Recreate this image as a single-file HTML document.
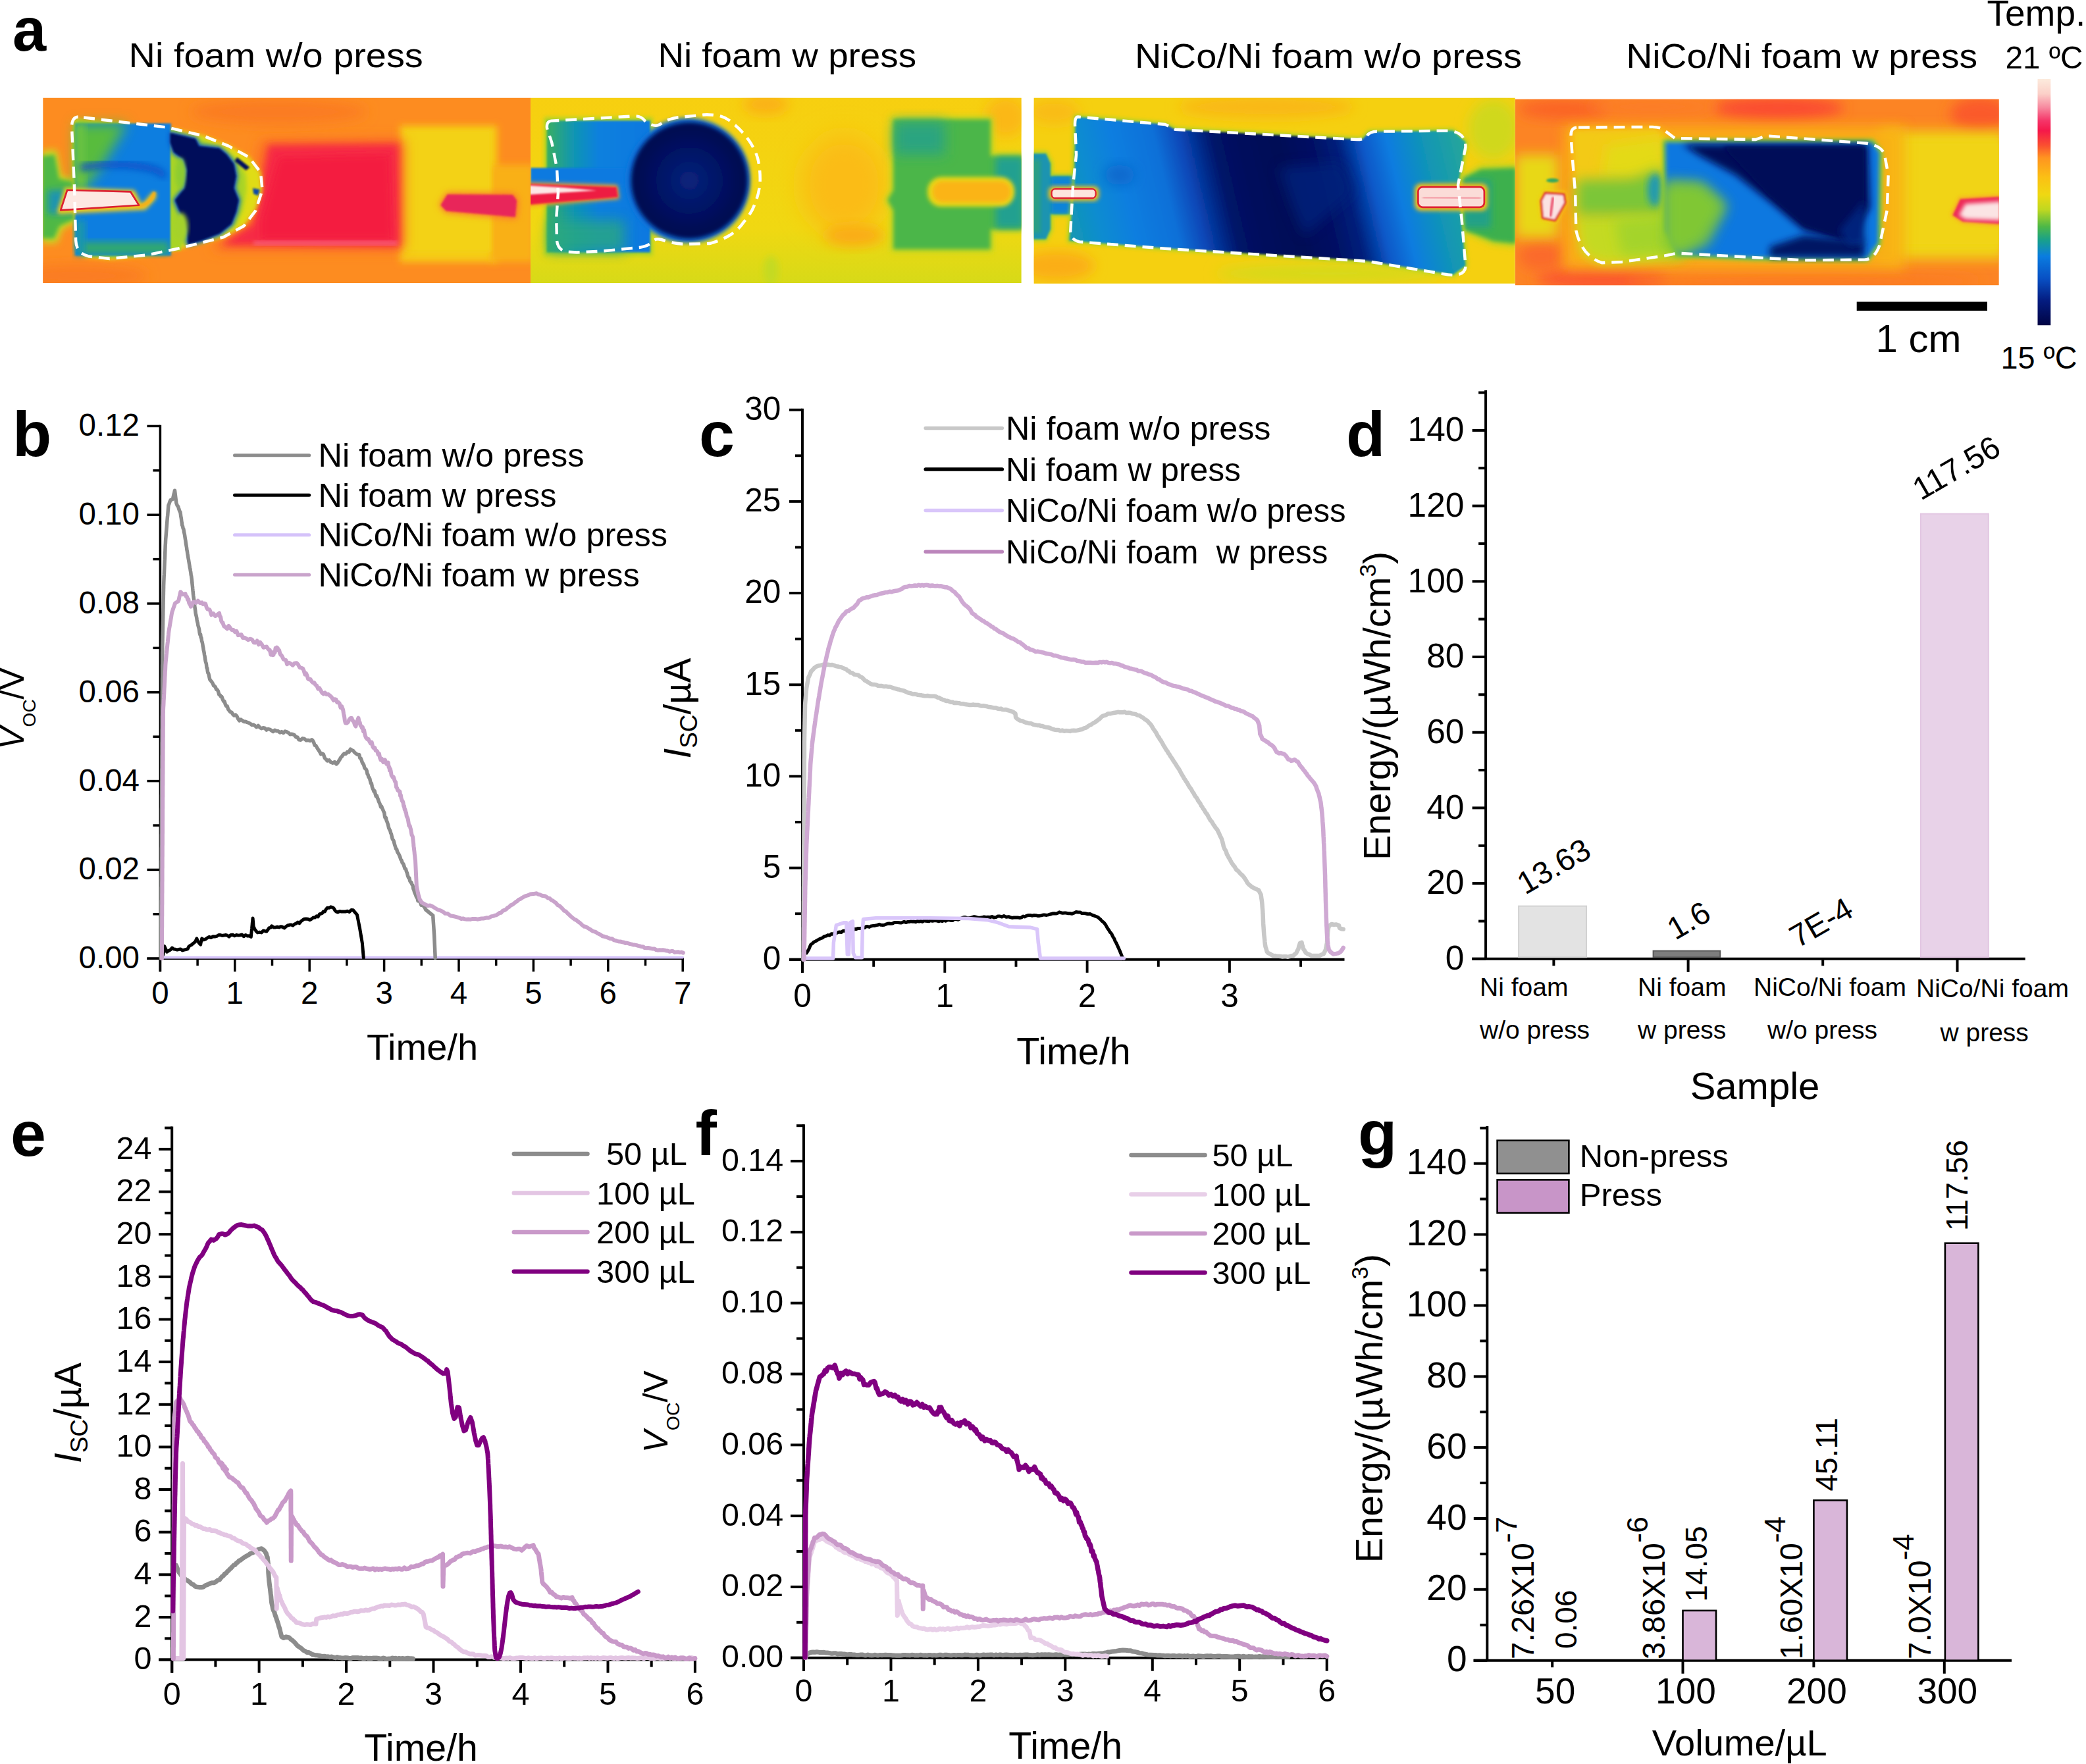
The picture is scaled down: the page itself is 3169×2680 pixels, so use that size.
<!DOCTYPE html>
<html><head><meta charset="utf-8"><title>Figure</title>
<style>
html,body{margin:0;padding:0;background:#fff;}
body{width:3169px;height:2680px;overflow:hidden;}
svg{display:block;font-family:"Liberation Sans",sans-serif;}
</style></head><body>
<svg width="3169" height="2680" viewBox="0 0 3169 2680">
<rect width="3169" height="2680" fill="#fff"/>
<defs>
<filter id="b4" x="-20%" y="-20%" width="140%" height="140%"><feGaussianBlur stdDeviation="4"/></filter>
<filter id="b8" x="-20%" y="-20%" width="140%" height="140%"><feGaussianBlur stdDeviation="8"/></filter>
<filter id="b14" x="-30%" y="-30%" width="160%" height="160%"><feGaussianBlur stdDeviation="14"/></filter>
<filter id="b25" x="-40%" y="-40%" width="180%" height="180%"><feGaussianBlur stdDeviation="25"/></filter>
<filter id="b50" x="-50%" y="-50%" width="200%" height="200%"><feGaussianBlur stdDeviation="50"/></filter>
<clipPath id="c1"><rect x="66" y="75" width="1932" height="733"/></clipPath>
<clipPath id="c2"><rect x="68" y="75" width="1944" height="733"/></clipPath>
<clipPath id="c3"><rect x="80" y="75" width="1906" height="735"/></clipPath>
<clipPath id="c4"><rect x="57" y="80" width="1916" height="737"/></clipPath>
<linearGradient id="cb" x1="0" y1="0" x2="0" y2="1">
<stop offset="0" stop-color="#fcebdd"/><stop offset="0.06" stop-color="#fbd0c8"/><stop offset="0.115" stop-color="#f78aa0"/>
<stop offset="0.17" stop-color="#f53468"/><stop offset="0.21" stop-color="#f5184a"/><stop offset="0.27" stop-color="#fa5030"/>
<stop offset="0.32" stop-color="#ff9420"/><stop offset="0.40" stop-color="#fbc014"/><stop offset="0.47" stop-color="#efd812"/>
<stop offset="0.53" stop-color="#c0d820"/><stop offset="0.60" stop-color="#4cb848"/><stop offset="0.655" stop-color="#18a08c"/>
<stop offset="0.72" stop-color="#0a7ce0"/><stop offset="0.81" stop-color="#0850c4"/><stop offset="0.90" stop-color="#041c80"/>
<stop offset="1" stop-color="#000444"/></linearGradient>
<linearGradient id="g3" gradientUnits="userSpaceOnUse" x1="220" y1="640" x2="1800" y2="260">
<stop offset="0" stop-color="#1498b0"/><stop offset="0.08" stop-color="#0e8cd0"/><stop offset="0.16" stop-color="#0a7ee0"/>
<stop offset="0.26" stop-color="#0a70d8"/><stop offset="0.32" stop-color="#0848b8"/><stop offset="0.40" stop-color="#021468"/>
<stop offset="0.46" stop-color="#010c5c"/><stop offset="0.55" stop-color="#000856"/><stop offset="0.63" stop-color="#021064"/><stop offset="0.69" stop-color="#03207c"/>
<stop offset="0.75" stop-color="#0858c8"/><stop offset="0.81" stop-color="#0a7ce0"/><stop offset="0.90" stop-color="#1296b4"/>
<stop offset="1" stop-color="#28a898"/></linearGradient>
<radialGradient id="g2c" cx="0.5" cy="0.5" r="0.5"><stop offset="0" stop-color="#08247c"/><stop offset="0.55" stop-color="#031264"/><stop offset="0.92" stop-color="#000850"/><stop offset="1" stop-color="#001060"/></radialGradient>
<linearGradient id="g2bg" x1="0" y1="0" x2="0" y2="1"><stop offset="0" stop-color="#f7cf10"/><stop offset="0.7" stop-color="#f0d812"/><stop offset="1" stop-color="#d6da18"/></linearGradient>
<linearGradient id="g2r" x1="0" y1="0" x2="1" y2="0"><stop offset="0" stop-color="#38ae62"/><stop offset="0.25" stop-color="#1296b0"/><stop offset="0.5" stop-color="#0a80de"/><stop offset="1" stop-color="#0a78e0"/></linearGradient>
<linearGradient id="g1r" x1="0" y1="0" x2="1" y2="1"><stop offset="0" stop-color="#5cc03c"/><stop offset="0.3" stop-color="#1a9ca8"/><stop offset="0.55" stop-color="#0a7ee0"/><stop offset="0.8" stop-color="#1292c0"/><stop offset="1" stop-color="#48b450"/></linearGradient>
</defs>
<g transform="translate(40 120) scale(0.38351)"><g clip-path="url(#c1)">
<rect x="60" y="70" width="1945" height="745" fill="#fd8c20"/>
<ellipse cx="1000" cy="130" rx="350" ry="50" fill="#fb7c24" filter="url(#b25)"/>
<ellipse cx="200" cy="780" rx="280" ry="45" fill="#fb7c24" filter="url(#b25)"/>
<rect x="1480" y="185" width="385" height="540" fill="#f5cc14" filter="url(#b14)"/>
<rect x="1840" y="340" width="170" height="385" fill="#f9b018" filter="url(#b14)"/>
<rect x="1500" y="205" width="340" height="480" fill="#f3d212" filter="url(#b8)"/>
<polygon points="730,675 880,560 930,245 1495,240 1495,675" fill="#fb6828" filter="url(#b25)"/>
<polygon points="770,658 900,575 960,262 1474,256 1478,664" fill="#f62c44" filter="url(#b14)"/>
<polygon points="930,560 1000,310 1440,300 1450,635 930,635" fill="#f41c40" filter="url(#b14)"/>
<rect x="900" y="642" width="570" height="16" fill="#f86888" filter="url(#b8)" opacity="0.8"/>
<polygon points="1636,500 1665,452 1932,454 1948,480 1942,554 1660,528" fill="#fb7030" filter="url(#b14)"/>
<polygon points="1641,500 1668,457 1927,459 1943,482 1937,547 1663,523" fill="#e8285a" filter="url(#b4)"/>
<polygon points="60,285 120,280 140,385 200,400 200,565 142,595 122,650 60,650" fill="#c8dc20" filter="url(#b14)"/>
<polygon points="60,305 112,300 130,395 200,410 200,552 132,582 110,632 60,632" fill="#50b844" filter="url(#b8)"/>
<rect x="85" y="440" width="115" height="95" fill="#1a94b0" filter="url(#b14)"/>
<path d="M188,158 L560,193 700,223 800,263 882,308 928,370 935,440 908,522 862,582 782,628 600,675 480,700 330,715 228,705 196,672 190,500 182,300 Z" fill="#e0dc18" filter="url(#b8)"/>
<path d="M194,170 L560,205 690,235 780,275 840,320 870,380 872,440 858,520 830,580 762,618 600,662 480,687 330,702 230,692 204,662 197,500 191,300 Z" fill="#a8d428" filter="url(#b8)"/>
<rect x="193" y="176" width="380" height="524" fill="#0a7ee0" filter="url(#b4)"/>
<polygon points="193,176 400,176 310,330 235,430 193,480" fill="#58bc3c" filter="url(#b25)"/>
<rect x="193" y="176" width="40" height="250" fill="#6cc43c" filter="url(#b14)"/>
<rect x="215" y="645" width="350" height="50" fill="#30a870" filter="url(#b14)"/>
<rect x="193" y="560" width="40" height="135" fill="#1a98a8" filter="url(#b14)"/>
<path d="M215,352 Q330,330 440,345 T540,390" fill="none" stroke="#0850c8" stroke-width="26" filter="url(#b14)"/>
<rect x="573" y="200" width="40" height="480" fill="#a8d428" filter="url(#b4)"/>
<polygon points="570,214 670,237 684,266 765,275 793,299 822,337 831,385 822,432 841,480 831,527 812,575 765,613 693,641 641,655 636,598 613,537 589,480 627,432 636,361 622,318 584,290 570,252" fill="#0a60d0" stroke="#0a60d0" stroke-width="14" stroke-linejoin="round" filter="url(#b8)"/>
<polygon points="570,214 670,237 684,266 765,275 793,299 822,337 831,385 822,432 841,480 831,527 812,575 765,613 693,641 641,655 636,598 613,537 589,480 627,432 636,361 622,318 584,290 570,252" fill="#00085a" filter="url(#b4)"/>
<ellipse cx="610" cy="375" rx="20" ry="62" fill="#8ccc30" filter="url(#b8)"/>
<ellipse cx="612" cy="585" rx="28" ry="55" fill="#a4d22c" filter="url(#b8)"/>
<polygon points="835,310 885,350 870,362 825,325" fill="#001060" filter="url(#b4)"/>
<polygon points="897,432 925,438 918,462 900,455" fill="#0a48a8" filter="url(#b4)"/>
<polygon points="122,525 152,430 428,440 458,497 500,448 516,452 512,475 472,518 128,535" fill="#f6cc18" filter="url(#b8)"/>
<path d="M440,505 Q492,500 508,448" fill="none" stroke="#f5b018" stroke-width="13" filter="url(#b4)"/>
<polygon points="136,520 162,440 413,447 446,500" fill="#fde8e2" stroke="#dc2030" stroke-width="7" stroke-linejoin="round"/>
</g>
<path d="M205,150 Q180,152 180,190 L190,420 196,640 Q198,690 245,702 L330,712 480,697 600,672 780,627 862,582 908,522 935,440 928,370 882,310 800,265 700,225 560,192 Z" fill="none" stroke="#fff" stroke-width="11.5" stroke-dasharray="44 26" stroke-linejoin="round"/>
</g>
<g transform="translate(780 120) scale(0.38351)"><g clip-path="url(#c2)">
<rect x="60" y="70" width="1960" height="745" fill="url(#g2bg)"/>
<ellipse cx="1000" cy="100" rx="90" ry="40" fill="#fbb014" filter="url(#b25)"/>
<ellipse cx="1310" cy="420" rx="170" ry="200" fill="#fbbc14" filter="url(#b50)"/>
<ellipse cx="1350" cy="620" rx="120" ry="40" fill="#fbaa16" filter="url(#b25)"/>
<ellipse cx="1950" cy="150" rx="80" ry="80" fill="#fbb814" filter="url(#b25)"/>
<ellipse cx="1020" cy="760" rx="30" ry="60" fill="#c4da20" filter="url(#b14)"/>
<rect x="122" y="152" width="430" height="548" fill="#a8d428" filter="url(#b8)"/>
<rect x="132" y="165" width="410" height="522" fill="url(#g2r)" filter="url(#b4)"/>
<rect x="140" y="560" width="300" height="125" fill="#2ca880" filter="url(#b25)" opacity="0.8"/>
<rect x="68" y="352" width="380" height="70" fill="#0a7ae0" filter="url(#b4)"/>
<polygon points="60,410 412,420 420,475 60,505" fill="#f8a020" filter="url(#b8)"/>
<polygon points="60,416 408,428 414,468 60,498" fill="#ee1c42" filter="url(#b4)"/>
<polygon points="60,422 200,430 330,442 60,458" fill="#fde8e6" filter="url(#b4)"/>
<circle cx="690" cy="402" r="248" fill="#0a74dc" filter="url(#b8)"/>
<circle cx="697" cy="402" r="232" fill="url(#g2c)" filter="url(#b8)"/>
<path d="M1495,150 L1900,150 1900,295 2020,295 2020,605 1900,605 1900,685 1495,685 1495,520 1470,480 1495,440 Z" fill="#c0d820" filter="url(#b14)"/>
<path d="M1505,160 L1890,160 1890,305 2020,305 2020,595 1890,595 1890,675 1505,675 1505,520 1482,480 1505,440 Z" fill="#4cb648" filter="url(#b8)"/>
<rect x="1510" y="170" width="200" height="130" fill="#2ca480" filter="url(#b25)"/>
<rect x="1910" y="310" width="110" height="280" fill="#20a090" filter="url(#b14)"/>
<rect x="1640" y="388" width="345" height="118" rx="55" fill="#e8d818" filter="url(#b8)"/>
<rect x="1660" y="405" width="310" height="84" rx="40" fill="#fbb418" filter="url(#b8)"/>
</g>
<path d="M150,166 Q130,168 133,195 L152,252 172,352 177,452 170,552 172,640 Q176,680 215,685 L252,687 352,682 502,667 Q540,660 555,640 Q570,628 602,642 Q650,655 692,654 L777,652 Q820,640 852,622 Q890,600 912,567 Q945,530 957,492 Q975,450 977,402 Q978,355 967,312 Q955,275 932,242 Q905,205 877,182 Q850,155 817,146 Q780,140 752,142 L652,152 Q615,158 592,172 Q570,190 550,182 Q530,175 520,165 Q505,146 480,147 Z" fill="none" stroke="#fff" stroke-width="11.5" stroke-dasharray="44 26" stroke-linejoin="round"/>
</g>
<g transform="translate(1540 120) scale(0.38351)"><g clip-path="url(#c3)">
<rect x="70" y="70" width="1920" height="745" fill="#f5d010"/>
<ellipse cx="1000" cy="110" rx="350" ry="45" fill="#f9b814" filter="url(#b25)"/>
<ellipse cx="170" cy="740" rx="150" ry="60" fill="#fbae16" filter="url(#b25)"/>
<ellipse cx="160" cy="130" rx="100" ry="50" fill="#f9bc14" filter="url(#b25)"/>
<ellipse cx="1900" cy="200" rx="100" ry="120" fill="#d0d81c" filter="url(#b25)"/>
<ellipse cx="1250" cy="770" rx="450" ry="35" fill="#d4da1a" filter="url(#b25)"/>
<polygon points="1780,385 1850,345 1990,340 1990,665 1900,655 1780,605" fill="#b0d428" filter="url(#b14)"/>
<polygon points="1780,395 1850,358 1990,352 1990,652 1900,642 1780,595" fill="#3eb04e" filter="url(#b8)"/>
<rect x="1780" y="400" width="110" height="190" fill="#20a088" filter="url(#b14)"/>
<path d="M70,285 L132,285 155,330 155,375 250,375 250,545 155,545 155,600 132,645 70,645 Z" fill="#b0d428" filter="url(#b8)"/>
<path d="M70,295 L128,295 146,335 146,385 250,385 250,535 146,535 146,595 128,635 70,635 Z" fill="#1c94b0" filter="url(#b4)"/>
<rect x="150" y="390" width="100" height="140" fill="#0c84d8" filter="url(#b8)"/>
<rect x="70" y="320" width="36" height="290" fill="#30a470" filter="url(#b8)" opacity="0.7"/>
<polygon points="245,150 600,180 640,200 1380,240 1410,210 1740,205 1790,250 1760,420 1790,740 1740,775 1400,720 600,670 220,640 240,420" fill="#a0d22c" stroke="#a0d22c" stroke-width="16" stroke-linejoin="round" filter="url(#b8)"/>
<polygon points="245,150 600,180 640,200 1380,240 1410,210 1740,205 1790,250 1760,420 1790,740 1740,775 1400,720 600,670 220,640 240,420" fill="url(#g3)" filter="url(#b4)"/>
<ellipse cx="420" cy="380" rx="60" ry="40" fill="#0868cc" filter="url(#b25)"/>
<polygon points="1050,350 1300,330 1350,450 1150,620 1100,500" fill="#04247c" filter="url(#b25)" opacity="0.8"/>
<rect x="138" y="425" width="200" height="58" rx="20" fill="#f8c018" filter="url(#b8)"/>
<rect x="150" y="436" width="175" height="36" rx="14" fill="#fde6de" stroke="#e02030" stroke-width="6"/>
<rect x="1588" y="414" width="290" height="108" rx="24" fill="#f8c018" filter="url(#b8)"/>
<rect x="1602" y="428" width="262" height="80" rx="18" fill="#fbdcd8" stroke="#e02030" stroke-width="7"/>
<path d="M1620,468 L1850,472" stroke="#f08090" stroke-width="6" filter="url(#b4)"/>
</g>
<path d="M255,150 Q240,150 243,190 L248,300 235,420 225,600 Q222,635 260,645 L600,672 1400,722 1700,772 Q1790,790 1790,740 L1775,560 1760,420 1790,270 Q1790,208 1720,205 L1440,208 Q1410,208 1400,225 1390,240 1360,240 L640,200 600,180 Z" fill="none" stroke="#fff" stroke-width="11.5" stroke-dasharray="44 26" stroke-linejoin="round"/>
</g>
<g transform="translate(2280 120) scale(0.38351)"><g clip-path="url(#c4)">
<rect x="50" y="75" width="1930" height="750" fill="#fc8424"/>
<ellipse cx="1100" cy="115" rx="260" ry="45" fill="#fb4c30" filter="url(#b25)"/>
<ellipse cx="1900" cy="140" rx="120" ry="70" fill="#fb5a2c" filter="url(#b25)"/>
<ellipse cx="250" cy="120" rx="180" ry="40" fill="#fb6428" filter="url(#b25)"/>
<ellipse cx="600" cy="110" rx="250" ry="30" fill="#fc7c26" filter="url(#b25)"/>
<ellipse cx="400" cy="790" rx="260" ry="45" fill="#fb5630" filter="url(#b25)"/>
<ellipse cx="160" cy="700" rx="90" ry="60" fill="#fb6a2c" filter="url(#b25)"/>
<ellipse cx="1200" cy="800" rx="700" ry="28" fill="#fc7a24" filter="url(#b25)"/>
<rect x="1500" y="205" width="500" height="510" fill="#efd412" filter="url(#b25)"/>
<rect x="1560" y="245" width="440" height="420" fill="#f1d412" filter="url(#b14)"/>
<rect x="250" y="185" width="1350" height="570" fill="#f9b018" filter="url(#b25)" opacity="0.9"/>
<rect x="57" y="300" width="170" height="330" fill="#e8d816" filter="url(#b25)"/>
<polygon points="282,198 620,193 655,232 655,705 400,730 322,692 297,500" fill="#f3ca14" filter="url(#b14)"/>
<polygon points="420,260 640,230 650,380 520,400 400,390" fill="#e4da18" filter="url(#b25)"/>
<polygon points="300,545 700,520 720,712 400,728 322,688" fill="#c4da20" filter="url(#b25)"/>
<polygon points="300,400 520,395 640,350 650,540 300,540" fill="#7cc638" filter="url(#b25)"/>
<polygon points="450,560 650,540 700,690 480,700" fill="#a4d42c" filter="url(#b25)"/>
<ellipse cx="612" cy="440" rx="30" ry="65" fill="#1c98b8" filter="url(#b14)"/>
<polygon points="652,250 1470,250 1500,290 1495,650 1450,712 1000,708 700,695 655,600" fill="#8ccc30" stroke="#8ccc30" stroke-width="26" stroke-linejoin="round" filter="url(#b8)"/>
<polygon points="652,250 1470,250 1500,290 1495,650 1450,712 1000,708 700,695 655,600" fill="#0a78e0" filter="url(#b8)"/>
<polygon points="650,415 790,420 880,500 800,640 700,695 650,650" fill="#8ccc30" filter="url(#b25)"/>
<polygon points="652,400 800,410 900,500 820,660 700,700 652,680" fill="#7cc634" filter="url(#b25)" opacity="0.7"/>
<polygon points="720,260 1455,258 1462,510 1375,650 1200,600 1070,490 930,380 790,305" fill="#000858" filter="url(#b14)"/>
<polygon points="880,270 1440,270 1440,500 1350,630 1200,580 1060,460" fill="#000858" filter="url(#b8)"/>
<polygon points="1065,665 1200,620 1440,640 1440,706 1065,706" fill="#021264" filter="url(#b14)"/>
<polygon points="1340,600 1440,480 1440,650 1380,660" fill="#04207c" filter="url(#b14)"/>
<polygon points="150,485 170,440 258,446 264,492 220,572 160,560" fill="#f4c818" filter="url(#b8)"/>
<polygon points="160,482 176,452 250,457 255,490 215,560 166,550" fill="#fbe2e2" stroke="#dc1c38" stroke-width="8" stroke-linejoin="round" filter="url(#b4)"/>
<path d="M207,468 L196,545" stroke="#e84060" stroke-width="9" filter="url(#b4)"/>
<ellipse cx="205" cy="402" rx="25" ry="8" fill="#30a860" filter="url(#b4)"/>
<polygon points="1782,540 1815,468 1985,458 1985,582 1828,572" fill="#f8a828" filter="url(#b8)"/>
<polygon points="1790,540 1820,476 1985,466 1985,575 1830,565" fill="#ee2c58" filter="url(#b4)"/>
<polygon points="1815,540 1840,495 1985,485 1985,560 1840,555" fill="#fbe4e4" filter="url(#b8)"/>
</g>
<path d="M300,192 Q275,195 278,230 L285,330 295,450 298,600 Q320,700 400,728 L480,725 650,700 700,690 1200,718 1440,716 Q1480,715 1500,660 L1530,520 1535,380 1520,300 Q1510,265 1450,255 L1050,225 1010,240 690,235 650,205 Q635,190 600,190 Z" fill="none" stroke="#fff" stroke-width="11.5" stroke-dasharray="44 26" stroke-linejoin="round"/>
</g>
<rect x="3095.5" y="120.0" width="19.8" height="374.2" fill="url(#cb)" />
<rect x="2820.7" y="458.5" width="198.3" height="13.6" fill="#000" />
<text x="2849.5" y="534.6" font-size="60" >1 cm</text>
<text x="19.0" y="76.7" font-size="92" font-weight="bold" >a</text>
<text x="195.6" y="102.0" font-size="52" textLength="447.2" lengthAdjust="spacingAndGlyphs" >Ni foam w/o press</text>
<text x="999.4" y="102.0" font-size="52" textLength="392.7" lengthAdjust="spacingAndGlyphs" >Ni foam w press</text>
<text x="1724.0" y="103.0" font-size="52" textLength="588.0" lengthAdjust="spacingAndGlyphs" >NiCo/Ni foam w/o press</text>
<text x="2470.5" y="103.0" font-size="52" textLength="533.7" lengthAdjust="spacingAndGlyphs" >NiCo/Ni foam w press</text>
<text x="3018.5" y="39.0" font-size="55" >Temp.</text>
<text x="3046.5" y="104.0" font-size="49" textLength="118.0" lengthAdjust="spacingAndGlyphs" >21 ºC</text>
<text x="3039.5" y="560.0" font-size="49" textLength="116.0" lengthAdjust="spacingAndGlyphs" >15 ºC</text>
<text x="19.0" y="693.0" font-size="97" font-weight="bold" >b</text>
<line x1="223.4" y1="1456.2" x2="1039.0" y2="1456.2" stroke="#000" stroke-width="3.5" stroke-linecap="butt"/>
<line x1="243.4" y1="645.7" x2="243.4" y2="1476.2" stroke="#000" stroke-width="3.5" stroke-linecap="butt"/>
<line x1="243.4" y1="1456.2" x2="243.4" y2="1476.2" stroke="#000" stroke-width="3.5" stroke-linecap="butt"/>
<text x="243.4" y="1524.8" font-size="47.5" text-anchor="middle" >0</text>
<line x1="356.8" y1="1456.2" x2="356.8" y2="1476.2" stroke="#000" stroke-width="3.5" stroke-linecap="butt"/>
<text x="356.8" y="1524.8" font-size="47.5" text-anchor="middle" >1</text>
<line x1="470.2" y1="1456.2" x2="470.2" y2="1476.2" stroke="#000" stroke-width="3.5" stroke-linecap="butt"/>
<text x="470.2" y="1524.8" font-size="47.5" text-anchor="middle" >2</text>
<line x1="583.6" y1="1456.2" x2="583.6" y2="1476.2" stroke="#000" stroke-width="3.5" stroke-linecap="butt"/>
<text x="583.6" y="1524.8" font-size="47.5" text-anchor="middle" >3</text>
<line x1="697.0" y1="1456.2" x2="697.0" y2="1476.2" stroke="#000" stroke-width="3.5" stroke-linecap="butt"/>
<text x="697.0" y="1524.8" font-size="47.5" text-anchor="middle" >4</text>
<line x1="810.4" y1="1456.2" x2="810.4" y2="1476.2" stroke="#000" stroke-width="3.5" stroke-linecap="butt"/>
<text x="810.4" y="1524.8" font-size="47.5" text-anchor="middle" >5</text>
<line x1="923.8" y1="1456.2" x2="923.8" y2="1476.2" stroke="#000" stroke-width="3.5" stroke-linecap="butt"/>
<text x="923.8" y="1524.8" font-size="47.5" text-anchor="middle" >6</text>
<line x1="1037.2" y1="1456.2" x2="1037.2" y2="1476.2" stroke="#000" stroke-width="3.5" stroke-linecap="butt"/>
<text x="1037.2" y="1524.8" font-size="47.5" text-anchor="middle" >7</text>
<line x1="300.1" y1="1456.2" x2="300.1" y2="1467.2" stroke="#000" stroke-width="3.5" stroke-linecap="butt"/>
<line x1="413.5" y1="1456.2" x2="413.5" y2="1467.2" stroke="#000" stroke-width="3.5" stroke-linecap="butt"/>
<line x1="526.9" y1="1456.2" x2="526.9" y2="1467.2" stroke="#000" stroke-width="3.5" stroke-linecap="butt"/>
<line x1="640.3" y1="1456.2" x2="640.3" y2="1467.2" stroke="#000" stroke-width="3.5" stroke-linecap="butt"/>
<line x1="753.7" y1="1456.2" x2="753.7" y2="1467.2" stroke="#000" stroke-width="3.5" stroke-linecap="butt"/>
<line x1="867.1" y1="1456.2" x2="867.1" y2="1467.2" stroke="#000" stroke-width="3.5" stroke-linecap="butt"/>
<line x1="980.5" y1="1456.2" x2="980.5" y2="1467.2" stroke="#000" stroke-width="3.5" stroke-linecap="butt"/>
<line x1="223.4" y1="1456.2" x2="243.4" y2="1456.2" stroke="#000" stroke-width="3.5" stroke-linecap="butt"/>
<text x="212.0" y="1471.2" font-size="47.5" text-anchor="end" >0.00</text>
<line x1="223.4" y1="1321.4" x2="243.4" y2="1321.4" stroke="#000" stroke-width="3.5" stroke-linecap="butt"/>
<text x="212.0" y="1336.4" font-size="47.5" text-anchor="end" >0.02</text>
<line x1="223.4" y1="1186.6" x2="243.4" y2="1186.6" stroke="#000" stroke-width="3.5" stroke-linecap="butt"/>
<text x="212.0" y="1201.6" font-size="47.5" text-anchor="end" >0.04</text>
<line x1="223.4" y1="1051.8" x2="243.4" y2="1051.8" stroke="#000" stroke-width="3.5" stroke-linecap="butt"/>
<text x="212.0" y="1066.8" font-size="47.5" text-anchor="end" >0.06</text>
<line x1="223.4" y1="917.0" x2="243.4" y2="917.0" stroke="#000" stroke-width="3.5" stroke-linecap="butt"/>
<text x="212.0" y="932.0" font-size="47.5" text-anchor="end" >0.08</text>
<line x1="223.4" y1="782.2" x2="243.4" y2="782.2" stroke="#000" stroke-width="3.5" stroke-linecap="butt"/>
<text x="212.0" y="797.2" font-size="47.5" text-anchor="end" >0.10</text>
<line x1="223.4" y1="647.4" x2="243.4" y2="647.4" stroke="#000" stroke-width="3.5" stroke-linecap="butt"/>
<text x="212.0" y="662.4" font-size="47.5" text-anchor="end" >0.12</text>
<line x1="232.4" y1="1388.8" x2="243.4" y2="1388.8" stroke="#000" stroke-width="3.5" stroke-linecap="butt"/>
<line x1="232.4" y1="1254.0" x2="243.4" y2="1254.0" stroke="#000" stroke-width="3.5" stroke-linecap="butt"/>
<line x1="232.4" y1="1119.2" x2="243.4" y2="1119.2" stroke="#000" stroke-width="3.5" stroke-linecap="butt"/>
<line x1="232.4" y1="984.4" x2="243.4" y2="984.4" stroke="#000" stroke-width="3.5" stroke-linecap="butt"/>
<line x1="232.4" y1="849.6" x2="243.4" y2="849.6" stroke="#000" stroke-width="3.5" stroke-linecap="butt"/>
<line x1="232.4" y1="714.8" x2="243.4" y2="714.8" stroke="#000" stroke-width="3.5" stroke-linecap="butt"/>
<text x="641.5" y="1610.0" font-size="56" text-anchor="middle" >Time/h</text>
<g transform="translate(36.1 1076.3) rotate(-90)"><text x="0" y="0" font-size="51" text-anchor="middle"><tspan font-style="italic">V</tspan><tspan font-size="28" dy="18">OC</tspan><tspan dy="-18">/V</tspan></text></g>
<polyline points="245.4,1454.6 1037.2,1454.6" fill="none" stroke="#d5c2fa" stroke-width="3.8" stroke-linejoin="round" stroke-linecap="round" />
<polyline points="244.4,1456.3 244.4,1453.8 244.4,1451.1 244.4,1448.6 244.5,1446.3 244.5,1443.8 244.5,1441.2 244.5,1438.6 244.5,1436.2 244.5,1433.7 244.5,1431.2 244.5,1428.6 244.6,1426.2 244.6,1423.7 244.6,1421.3 244.6,1418.8 244.6,1416.3 244.6,1413.7 244.6,1411.2 244.6,1408.6 244.7,1406.1 244.7,1403.6 244.7,1401.2 244.7,1398.6 244.7,1396.2 244.7,1393.8 244.7,1391.2 244.7,1388.7 244.8,1386.1 244.8,1383.6 244.8,1381.1 244.8,1378.6 244.8,1376.2 244.8,1373.8 244.8,1371.2 244.8,1368.6 244.9,1366.3 244.9,1363.8 244.9,1361.3 244.9,1358.8 244.9,1356.3 244.9,1353.8 244.9,1351.1 244.9,1348.8 245.0,1346.3 245.0,1343.6 245.0,1341.3 245.0,1338.8 245.0,1336.2 245.0,1333.7 245.0,1331.2 245.0,1328.8 245.1,1326.2 245.1,1323.8 245.1,1321.1 245.1,1318.8 245.1,1316.3 245.1,1313.7 245.1,1311.2 245.1,1308.8 245.2,1306.3 245.2,1303.7 245.2,1301.1 245.2,1298.6 245.2,1296.2 245.2,1293.6 245.2,1291.3 245.2,1288.6 245.3,1286.3 245.3,1283.6 245.3,1281.3 245.3,1278.7 245.3,1276.2 245.3,1273.7 245.3,1271.2 245.3,1268.7 245.4,1266.1 245.4,1263.6 245.4,1261.2 245.4,1258.8 245.4,1256.2 245.4,1253.6 245.4,1251.3 245.4,1248.8 245.5,1246.3 245.5,1243.6 245.5,1241.3 245.5,1238.6 245.5,1236.2 245.5,1233.6 245.5,1231.1 245.5,1228.8 245.6,1226.1 245.6,1223.7 245.6,1221.3 245.6,1218.6 245.6,1216.1 245.6,1213.8 245.6,1211.2 245.6,1208.7 245.7,1206.0 245.7,1203.6 245.7,1201.1 245.7,1198.7 245.7,1196.1 245.7,1193.8 245.7,1191.0 245.7,1188.7 245.8,1186.0 245.8,1183.6 245.8,1181.3 245.8,1178.6 245.8,1176.1 245.8,1173.7 245.8,1171.1 245.8,1168.5 245.9,1166.3 245.9,1163.6 245.9,1161.0 245.9,1158.6 245.9,1156.2 245.9,1153.7 245.9,1151.1 245.9,1148.6 246.0,1146.0 246.0,1143.7 246.0,1141.3 246.0,1138.7 246.0,1136.3 246.0,1133.8 246.0,1131.3 246.0,1128.7 246.1,1126.2 246.1,1123.6 246.1,1121.2 246.1,1118.6 246.1,1116.1 246.1,1113.7 246.1,1111.3 246.1,1108.6 246.2,1106.2 246.2,1103.6 246.2,1101.2 246.2,1098.6 246.2,1096.3 246.2,1093.6 246.2,1091.2 246.2,1088.6 246.3,1086.0 246.3,1083.7 246.3,1081.1 246.3,1078.5 246.3,1076.0 246.3,1073.6 246.3,1071.0 246.4,1068.7 246.4,1066.2 246.4,1063.8 246.4,1061.3 246.4,1058.8 246.4,1056.1 246.4,1053.7 246.4,1051.1 246.5,1048.7 246.5,1046.2 246.5,1043.8 246.5,1041.2 246.5,1038.6 246.5,1036.1 246.5,1033.7 246.5,1031.0 246.6,1028.5 246.6,1026.1 246.6,1023.5 246.6,1021.2 246.6,1018.6 246.6,1016.0 246.6,1013.6 246.6,1011.1 246.7,1008.6 246.7,1006.2 246.7,1003.7 246.7,1001.1 246.7,998.7 246.7,996.1 246.7,993.8 246.7,991.3 246.8,988.7 246.8,986.1 246.8,983.7 246.8,981.2 246.9,978.5 246.9,976.1 247.0,973.6 247.0,971.0 247.1,968.4 247.1,966.1 247.2,963.4 247.2,961.0 247.3,958.6 247.3,955.9 247.4,953.3 247.4,951.0 247.5,948.3 247.5,945.7 247.6,943.3 247.6,940.7 247.7,938.2 247.7,935.8 247.8,933.3 247.8,930.5 247.9,928.1 247.9,925.6 248.0,923.1 248.0,920.5 248.1,918.1 248.1,915.4 248.2,913.0 248.2,910.5 248.3,908.1 248.3,905.3 248.4,903.0 248.4,900.3 248.5,897.9 248.5,895.3 248.6,892.8 248.6,890.4 248.7,887.8 248.8,885.1 248.9,882.5 249.0,879.9 249.1,877.6 249.2,874.9 249.4,872.4 249.5,869.8 249.6,867.0 249.7,864.6 249.8,862.1 249.9,859.5 250.0,856.8 250.1,854.2 250.2,851.6 250.4,849.2 250.5,846.4 250.6,843.9 250.7,841.3 250.8,838.9 250.9,836.3 251.0,833.7 251.1,831.1 251.2,828.4 251.4,825.8 251.5,823.2 251.6,820.6 251.8,818.1 252.0,815.7 252.2,813.3 252.4,810.7 252.6,808.2 252.8,805.5 253.0,803.1 253.2,800.7 253.4,798.0 253.6,795.5 253.8,792.9 254.0,790.4 254.2,788.1 254.4,785.7 254.7,783.0 254.9,780.4 255.1,777.9 255.3,775.4 255.5,773.0 255.7,770.5 255.9,767.9 257.0,765.2 258.1,762.0 259.2,759.6 262.4,758.5 263.0,755.8 263.6,753.0 264.2,750.4 264.9,747.9 265.5,745.2 267.9,764.5 269.3,768.1 270.7,769.8 271.8,773.5 272.8,776.4 273.9,778.2 274.3,780.7 274.7,784.3 275.1,786.1 275.5,788.7 275.9,792.2 276.3,794.1 276.7,798.0 277.5,799.5 278.2,803.0 278.9,803.9 279.6,808.7 280.3,811.5 280.7,813.8 281.1,816.7 281.5,819.3 281.9,821.2 282.3,824.7 282.7,827.2 283.1,829.5 283.5,831.8 283.9,835.5 284.4,837.7 284.8,840.7 285.3,843.6 285.7,846.1 286.2,849.0 286.6,851.1 287.1,854.3 287.5,856.6 288.0,859.8 288.4,862.5 288.9,864.2 289.3,867.0 289.8,869.8 290.2,873.4 290.7,875.4 291.1,878.3 291.4,880.6 291.7,883.5 291.9,886.1 292.2,888.7 292.5,891.6 292.7,894.3 293.0,897.3 293.3,899.7 293.5,902.7 293.8,905.2 294.2,908.0 294.5,910.2 294.8,912.2 295.2,915.7 295.5,918.4 295.8,921.0 296.1,923.2 296.5,926.0 296.8,928.0 297.1,931.3 297.6,933.7 298.2,936.0 298.7,938.4 299.2,942.0 299.8,944.8 300.3,946.4 300.8,949.9 301.4,952.1 301.9,953.5 302.6,956.7 303.2,961.3 303.9,964.4 304.6,963.7 305.2,968.7 305.9,969.1 306.6,974.4 307.2,975.5 307.9,979.3 308.3,982.1 308.8,984.1 309.2,987.3 309.6,989.1 310.1,991.4 310.5,994.7 311.0,996.6 311.4,999.4 311.8,1002.3 312.3,1005.1 312.7,1006.3 313.4,1008.5 314.0,1014.4 314.7,1014.9 315.4,1020.1 316.0,1022.5 316.7,1023.1 317.4,1026.1 318.0,1029.0 318.7,1032.2 320.2,1034.1 321.7,1036.0 323.2,1038.4 324.7,1041.8 326.0,1042.3 327.4,1044.2 328.7,1047.6 330.1,1047.9 331.5,1050.4 332.8,1055.4 334.2,1055.8 335.5,1058.3 336.9,1058.5 338.3,1062.5 339.7,1065.5 341.0,1065.6 342.4,1070.3 343.8,1072.8 345.2,1072.8 346.6,1077.5 347.9,1079.2 349.9,1081.7 351.9,1082.2 353.8,1085.3 355.8,1087.1 357.8,1086.0 359.7,1087.9 361.7,1092.1 363.7,1094.9 366.0,1093.1 368.4,1094.9 370.7,1096.4 373.1,1096.3 375.4,1097.4 377.8,1098.2 380.2,1099.4 382.5,1101.3 384.9,1101.1 387.2,1102.4 389.7,1104.7 392.2,1102.4 394.7,1105.3 397.2,1106.7 399.7,1105.7 402.2,1106.1 404.7,1109.1 407.3,1107.6 409.8,1108.1 412.3,1109.8 414.8,1111.5 417.4,1109.4 420.0,1110.5 422.6,1110.7 425.2,1113.0 427.9,1111.6 430.5,1113.5 433.1,1111.0 435.7,1111.9 438.3,1113.3 440.6,1115.7 442.8,1115.3 445.1,1115.8 447.3,1116.8 449.6,1119.9 451.8,1119.9 454.1,1123.8 456.9,1124.2 459.7,1121.8 462.5,1122.5 465.3,1124.9 468.1,1124.5 470.9,1125.5 473.7,1123.9 475.2,1125.2 476.7,1128.1 478.1,1132.3 479.6,1132.4 481.1,1135.0 482.6,1137.5 484.0,1139.7 485.5,1141.8 487.5,1145.9 489.4,1144.8 491.4,1146.1 493.4,1151.8 495.3,1153.6 497.3,1155.9 500.1,1154.9 502.8,1158.2 505.6,1159.2 508.3,1157.6 511.1,1160.9 512.7,1159.3 514.3,1156.6 516.0,1154.1 517.6,1151.2 519.3,1149.4 520.9,1147.0 523.2,1144.7 525.5,1145.2 527.8,1142.3 530.1,1142.8 532.4,1138.1 534.7,1139.9 536.6,1140.6 538.6,1143.1 540.5,1144.6 542.5,1146.2 544.5,1146.4 545.7,1146.5 546.8,1151.8 548.0,1151.9 549.2,1154.8 550.4,1158.6 551.6,1160.4 552.7,1162.3 553.9,1166.8 555.1,1167.8 556.3,1169.1 557.2,1171.2 558.1,1176.0 559.0,1176.9 559.9,1180.5 560.8,1181.2 561.7,1183.0 562.6,1186.8 563.5,1190.3 564.4,1190.2 565.3,1195.1 566.2,1198.0 567.2,1200.0 568.1,1202.5 569.1,1201.6 570.2,1206.4 571.2,1209.7 572.3,1208.8 573.3,1212.0 574.4,1214.4 575.4,1217.8 576.4,1219.7 577.5,1222.3 578.5,1225.9 579.6,1225.1 580.6,1227.7 581.7,1230.3 582.7,1232.7 583.8,1234.8 584.6,1240.9 585.4,1242.9 586.3,1242.3 587.1,1246.5 587.9,1248.2 588.8,1250.7 589.6,1253.3 590.4,1257.0 591.2,1259.2 592.1,1260.8 592.9,1262.6 593.7,1265.7 594.5,1267.3 595.4,1271.5 596.2,1274.7 597.0,1275.8 597.9,1277.1 598.7,1280.0 599.5,1283.2 600.6,1286.5 601.6,1289.6 602.7,1290.3 603.7,1294.4 604.8,1296.0 605.8,1297.6 606.8,1299.7 607.9,1302.6 608.9,1305.8 610.0,1307.0 611.0,1310.4 612.1,1311.9 613.1,1313.4 614.2,1316.9 615.2,1319.9 616.3,1319.9 617.4,1323.8 618.5,1326.3 619.5,1330.6 620.6,1333.4 621.7,1333.6 622.7,1338.2 623.8,1340.3 624.9,1340.7 626.0,1344.0 627.0,1345.1 627.9,1350.3 628.8,1352.1 629.6,1355.4 630.5,1357.4 631.4,1359.3 632.3,1362.0 633.1,1363.7 634.0,1364.2 634.9,1368.6 636.6,1368.2 638.3,1370.7 639.9,1375.2 641.6,1374.3 643.3,1376.4 645.0,1378.4 646.7,1382.0 657.7,1391.0 659.7,1421.3 661.2,1455.1" fill="none" stroke="#8c8c8c" stroke-width="5.5" stroke-linejoin="round" stroke-linecap="round" />
<polyline points="247.7,1450.5 248.2,1447.5 248.7,1444.8 249.2,1441.6 249.7,1437.6 251.6,1441.6 253.6,1446.2 256.2,1444.5 258.8,1443.1 261.4,1440.1 264.1,1442.1 266.7,1442.3 269.3,1443.1 271.9,1442.3 274.6,1442.1 277.2,1443.9 279.8,1443.1 282.4,1442.5 285.0,1441.9 287.0,1438.0 289.0,1436.4 290.9,1435.5 292.9,1433.8 294.9,1432.3 296.8,1430.4 298.8,1425.9 300.8,1430.2 302.7,1433.0 304.7,1435.1 305.3,1431.4 306.0,1429.7 306.7,1425.9 309.4,1427.8 312.2,1426.8 314.9,1425.0 317.7,1423.4 320.4,1424.6 323.4,1422.8 326.3,1423.1 329.3,1422.3 332.2,1420.5 334.8,1420.5 337.4,1421.4 340.1,1421.1 342.7,1420.5 345.3,1421.2 347.9,1423.1 350.7,1420.4 353.5,1420.2 356.4,1421.8 359.2,1420.5 362.0,1421.1 364.8,1420.7 367.6,1420.0 370.3,1422.7 373.1,1420.6 375.8,1421.9 378.6,1421.8 381.3,1423.4 381.6,1420.5 381.8,1418.0 382.1,1415.8 382.3,1412.8 382.6,1410.5 382.8,1408.2 383.1,1404.9 383.3,1402.3 383.6,1399.9 383.8,1397.8 384.1,1395.1 384.3,1397.6 384.6,1400.6 384.8,1403.4 385.0,1406.6 385.3,1408.0 387.2,1412.1 389.2,1414.7 391.2,1416.9 394.1,1416.2 397.1,1416.9 400.0,1413.9 403.0,1414.7 404.9,1415.1 406.9,1412.7 408.9,1409.7 410.8,1409.6 412.8,1406.8 415.7,1409.0 418.7,1408.9 421.3,1408.3 423.9,1408.9 426.5,1407.8 429.2,1408.3 431.8,1410.0 434.4,1407.8 437.0,1406.0 439.7,1405.3 442.3,1404.9 444.9,1406.1 447.5,1404.0 450.1,1402.9 452.5,1401.1 454.9,1402.8 457.2,1399.8 459.6,1398.0 461.9,1396.3 464.9,1396.1 467.8,1396.3 470.8,1397.7 473.7,1395.8 476.1,1394.0 478.4,1394.1 480.8,1391.9 483.2,1392.9 485.5,1388.6 487.5,1388.3 489.4,1387.5 491.4,1384.7 493.4,1384.9 495.3,1381.6 497.3,1379.2 499.9,1379.3 502.5,1377.8 505.2,1378.6 507.1,1379.8 509.1,1383.6 511.1,1385.2 513.0,1385.9 516.0,1384.4 518.9,1385.1 521.9,1385.1 524.8,1385.0 527.8,1384.3 530.7,1385.5 533.7,1382.4 536.6,1382.8 542.5,1389.9 546.4,1409.5 550.4,1433.1 552.3,1455.1" fill="none" stroke="#000" stroke-width="5" stroke-linejoin="round" stroke-linecap="round" />
<polyline points="245.9,1456.2 245.9,1453.8 245.9,1451.3 245.9,1448.8 246.0,1446.2 246.0,1443.8 246.0,1441.0 246.0,1438.6 246.0,1436.2 246.0,1433.6 246.0,1431.2 246.1,1428.5 246.1,1426.1 246.1,1423.5 246.1,1421.1 246.1,1418.6 246.1,1415.9 246.1,1413.4 246.1,1410.9 246.2,1408.6 246.2,1406.1 246.2,1403.4 246.2,1401.0 246.2,1398.3 246.2,1396.0 246.2,1393.3 246.3,1390.8 246.3,1388.5 246.3,1385.8 246.3,1383.3 246.3,1381.0 246.3,1378.5 246.3,1375.8 246.4,1373.5 246.4,1370.8 246.4,1368.4 246.4,1365.7 246.4,1363.4 246.4,1360.8 246.4,1358.4 246.5,1355.9 246.5,1353.2 246.5,1350.7 246.5,1348.1 246.5,1345.6 246.5,1343.1 246.5,1340.6 246.6,1338.2 246.6,1335.5 246.6,1333.2 246.6,1330.6 246.6,1328.1 246.6,1325.7 246.6,1323.1 246.6,1320.5 246.7,1318.1 246.7,1315.6 246.7,1312.9 246.7,1310.7 246.7,1307.9 246.7,1305.6 246.7,1303.1 246.8,1300.4 246.8,1298.1 246.8,1295.5 246.8,1293.0 246.8,1290.3 246.8,1287.8 246.8,1285.4 246.9,1283.1 246.9,1280.3 246.9,1278.0 246.9,1275.5 246.9,1273.0 246.9,1270.3 246.9,1267.8 247.0,1265.4 247.0,1262.9 247.0,1260.2 247.0,1257.9 247.0,1255.4 247.0,1252.9 247.0,1250.2 247.0,1247.9 247.1,1245.1 247.1,1242.7 247.1,1240.3 247.1,1237.9 247.1,1235.2 247.1,1232.8 247.1,1230.2 247.2,1227.6 247.2,1225.1 247.2,1222.6 247.2,1220.0 247.2,1217.5 247.2,1215.2 247.2,1212.8 247.3,1210.0 247.3,1207.5 247.3,1205.2 247.3,1202.6 247.3,1200.0 247.3,1197.5 247.3,1195.1 247.4,1192.6 247.4,1190.0 247.4,1187.5 247.4,1184.9 247.4,1182.6 247.4,1179.8 247.4,1177.5 247.5,1175.1 247.5,1172.3 247.5,1170.0 247.5,1167.6 247.5,1165.0 247.5,1162.5 247.5,1159.8 247.5,1157.4 247.6,1154.8 247.6,1152.5 247.6,1149.8 247.6,1147.3 247.6,1145.0 247.6,1142.4 247.6,1139.9 247.7,1137.3 247.7,1134.8 247.7,1132.3 247.7,1129.8 247.7,1127.2 247.7,1124.7 247.7,1122.1 247.8,1119.7 247.8,1117.4 247.8,1114.8 247.8,1112.2 247.8,1109.7 247.8,1107.1 247.8,1104.5 247.9,1102.1 247.9,1099.7 247.9,1097.2 247.9,1094.6 247.9,1092.2 247.9,1089.7 247.9,1087.1 247.9,1084.6 248.0,1082.1 248.0,1079.5 248.1,1077.0 248.2,1074.3 248.4,1071.8 248.5,1069.3 248.6,1066.8 248.7,1064.1 248.9,1061.7 249.0,1059.0 249.1,1056.5 249.3,1053.7 249.4,1051.3 249.5,1048.6 249.6,1046.2 249.8,1043.6 249.9,1041.1 250.0,1038.5 250.2,1036.0 250.3,1033.3 250.4,1030.8 250.5,1028.2 250.7,1025.7 250.8,1023.0 250.9,1020.6 251.1,1018.0 251.2,1015.4 251.3,1012.9 251.4,1010.3 251.6,1007.6 251.8,1005.1 252.1,1002.5 252.3,1000.2 252.6,997.7 252.8,995.0 253.1,992.6 253.3,990.0 253.6,987.5 253.8,984.8 254.1,982.5 254.3,979.9 254.6,977.4 254.9,974.8 255.1,972.3 255.4,969.9 255.6,967.3 255.9,964.8 256.1,962.1 256.4,959.6 256.8,957.1 257.2,954.5 257.7,951.8 258.1,949.3 258.5,946.7 259.0,943.9 259.4,941.4 259.9,938.7 260.3,936.0 260.7,933.4 261.2,930.7 262.0,928.2 262.8,925.8 263.6,923.3 264.4,921.3 265.2,918.8 266.0,916.5 270.7,913.5 271.6,911.3 272.5,906.9 273.4,903.1 274.3,899.2 277.9,903.1 281.5,902.0 282.7,906.1 283.9,906.2 285.1,911.0 286.3,910.4 287.2,916.0 288.1,917.9 289.0,918.4 289.9,921.6 291.5,920.0 293.1,914.7 294.7,914.5 297.7,916.0 300.7,912.7 303.7,916.0 306.7,915.3 308.5,918.0 310.3,916.8 312.1,917.1 313.9,923.1 315.3,925.6 316.8,925.8 318.2,926.1 319.6,929.1 321.1,934.1 324.1,932.1 327.1,936.0 330.1,933.9 333.1,931.5 334.1,936.7 335.1,937.3 336.1,943.1 337.2,945.4 338.2,945.4 339.2,948.6 340.3,951.3 342.7,953.1 345.1,955.4 347.4,950.9 349.8,954.1 352.2,957.1 354.6,956.9 357.0,960.2 359.4,958.8 361.8,965.2 364.2,964.6 366.6,964.0 369.0,969.1 371.4,968.8 373.8,969.9 376.8,972.2 379.8,970.7 382.8,971.7 385.8,976.3 388.2,976.5 390.6,973.5 393.0,979.3 395.4,976.0 397.8,979.1 400.2,983.7 402.6,983.2 405.0,982.5 406.6,984.9 408.2,987.0 409.8,987.4 411.4,994.7 413.0,991.0 414.6,995.2 415.6,994.7 416.6,990.2 417.6,991.3 418.6,984.5 419.6,986.5 420.6,983.6 421.8,984.7 423.0,988.4 424.2,988.1 425.3,992.8 426.5,995.0 427.7,995.7 428.9,997.9 430.7,1001.7 432.5,1002.3 434.3,1002.8 436.1,1009.1 439.0,1006.7 441.9,1008.5 444.8,1010.8 447.6,1007.6 450.5,1007.2 452.9,1009.6 455.3,1014.2 457.7,1014.6 460.1,1015.8 461.7,1019.3 463.3,1024.6 464.9,1022.9 466.5,1026.3 468.1,1031.5 469.7,1032.3 471.6,1032.1 473.5,1035.3 475.4,1037.2 477.4,1037.1 479.3,1040.5 481.3,1041.8 483.3,1046.6 485.3,1045.4 487.4,1049.2 489.4,1052.9 491.4,1054.3 493.7,1052.4 496.0,1055.0 498.3,1054.6 500.6,1056.4 502.9,1058.3 505.2,1061.4 506.9,1064.2 508.7,1062.3 510.4,1062.6 512.2,1067.2 513.9,1066.8 515.7,1068.6 517.4,1075.1 519.1,1073.1 520.9,1077.7 521.4,1079.8 521.9,1083.5 522.4,1086.1 522.9,1087.4 523.3,1090.3 523.8,1094.4 524.3,1096.5 524.8,1098.5 526.8,1098.7 528.8,1096.9 530.7,1093.0 532.7,1090.9 534.3,1091.1 535.8,1095.0 537.4,1096.0 539.0,1101.3 540.5,1103.5 541.5,1098.3 542.5,1098.7 543.5,1093.1 544.5,1090.7 545.5,1096.3 546.6,1097.5 547.7,1102.4 548.8,1103.1 549.8,1105.9 550.9,1104.8 552.0,1111.3 553.1,1109.2 554.1,1114.7 555.2,1118.8 556.3,1121.1 558.0,1123.2 559.6,1122.8 561.3,1126.5 563.0,1129.4 564.7,1127.7 566.4,1134.8 568.1,1136.8 569.4,1136.2 570.7,1140.4 572.0,1140.6 573.3,1141.7 574.6,1146.5 575.9,1144.8 577.2,1151.4 578.5,1154.7 579.9,1152.7 582.3,1158.1 584.8,1154.4 587.2,1160.6 589.7,1158.6 590.5,1165.4 591.3,1165.0 592.0,1170.7 592.8,1168.1 593.6,1171.2 594.7,1178.0 595.7,1179.3 596.8,1181.1 597.8,1180.5 598.9,1183.8 600.0,1187.4 601.0,1187.9 602.1,1196.0 603.1,1197.0 604.2,1200.5 605.3,1201.5 606.3,1201.7 607.4,1202.6 608.1,1208.9 608.8,1207.7 609.6,1212.8 610.3,1214.7 611.1,1217.4 611.8,1217.3 612.5,1219.7 613.3,1224.9 614.0,1224.4 614.7,1229.8 615.5,1230.0 616.2,1233.3 617.0,1234.9 617.7,1239.9 618.4,1241.3 619.2,1242.7 619.9,1245.2 620.6,1249.8 621.3,1254.4 622.0,1253.9 622.7,1254.9 623.5,1258.3 624.2,1260.4 624.9,1264.9 625.6,1268.6 626.3,1269.8 627.0,1271.4 627.3,1274.1 627.6,1276.8 627.9,1279.4 628.2,1281.9 628.4,1285.5 628.7,1287.2 629.0,1289.9 629.3,1292.5 629.6,1294.9 629.8,1297.7 630.1,1299.5 630.4,1302.6 630.7,1305.6 631.0,1307.3 632.9,1346.5 633.2,1347.7 633.7,1350.4 634.4,1353.8 634.9,1356.5 635.4,1358.7 636.5,1362.4 637.7,1366.5 639.1,1368.5 640.5,1371.1 642.4,1372.1 644.6,1373.4 647.2,1374.7 650.1,1375.9 653.3,1375.6 656.8,1377.0 660.4,1379.3 664.4,1381.7 668.3,1383.1 672.2,1384.8 676.2,1387.7 680.1,1388.1 684.3,1391.2 688.7,1392.0 693.4,1393.2 695.8,1393.8 698.3,1394.7 700.9,1396.0 703.4,1395.4 706.1,1396.4 708.8,1396.8 711.7,1396.5 714.5,1396.9 717.4,1396.0 720.4,1396.0 723.2,1396.1 726.0,1396.7 728.7,1396.0 731.4,1395.5 734.0,1395.6 736.6,1395.0 739.1,1394.3 741.5,1394.6 744.0,1393.7 746.4,1392.3 748.9,1391.9 751.3,1390.9 753.8,1390.3 756.3,1389.0 758.7,1387.0 761.2,1386.7 763.6,1383.9 766.1,1382.9 768.5,1381.8 771.0,1379.2 773.5,1377.9 775.9,1375.4 778.4,1374.4 780.8,1372.6 783.3,1370.5 785.7,1369.2 788.2,1366.7 790.7,1365.7 793.1,1364.1 795.6,1362.7 798.0,1361.3 800.5,1360.7 802.9,1360.0 805.4,1358.5 810.3,1358.1 815.2,1357.2 817.7,1358.7 820.1,1359.1 822.6,1360.5 825.1,1361.0 827.5,1361.3 830.0,1362.5 832.4,1364.4 834.9,1364.8 837.3,1367.2 839.8,1368.4 842.2,1370.2 844.7,1372.0 847.2,1375.1 849.6,1376.0 852.1,1378.3 854.5,1380.6 857.0,1383.6 859.4,1384.5 862.0,1387.3 864.6,1389.7 867.3,1392.4 870.0,1394.5 872.8,1396.8 875.7,1398.1 878.6,1400.5 881.6,1402.7 884.6,1405.6 887.7,1407.8 889.8,1407.8 892.0,1409.2 894.1,1410.6 896.3,1411.8 898.5,1413.4 900.7,1414.8 903.0,1415.4 905.3,1416.2 907.6,1418.0 910.1,1419.0 912.7,1420.4 915.2,1422.2 918.0,1422.8 920.8,1423.6 923.6,1424.8 926.6,1425.9 929.6,1426.0 932.7,1428.3 935.1,1428.9 937.6,1429.8 940.0,1430.4 942.5,1430.5 944.9,1431.2 947.4,1431.4 949.9,1432.9 952.3,1432.6 954.8,1433.3 957.2,1434.1 959.7,1434.6 962.1,1435.5 964.6,1435.6 967.1,1436.1 969.5,1436.9 972.0,1437.4 974.4,1438.3 976.9,1438.2 979.3,1440.1 981.8,1440.2 984.3,1439.9 986.8,1440.5 989.3,1441.1 991.7,1441.5 994.3,1441.5 996.8,1443.1 999.3,1443.7 1001.8,1443.3 1004.4,1443.6 1006.9,1443.3 1009.5,1443.7 1012.0,1444.4 1014.6,1444.6 1017.2,1445.8 1019.8,1445.0 1022.3,1445.1 1024.9,1446.9 1027.5,1446.5 1030.1,1446.2 1032.7,1447.1 1035.2,1446.6 1037.8,1447.6" fill="none" stroke="#c9a3cb" stroke-width="6" stroke-linejoin="round" stroke-linecap="round" />
<line x1="356.5" y1="691.7" x2="469.7" y2="691.7" stroke="#8c8c8c" stroke-width="5" stroke-linecap="round"/>
<text x="483.5" y="709.2" font-size="50.5" >Ni foam w/o press</text>
<line x1="356.5" y1="752.2" x2="469.7" y2="752.2" stroke="#000" stroke-width="5" stroke-linecap="round"/>
<text x="483.5" y="769.7" font-size="50.5" >Ni foam w press</text>
<line x1="356.5" y1="812.7" x2="469.7" y2="812.7" stroke="#d5c2fa" stroke-width="5" stroke-linecap="round"/>
<text x="483.5" y="830.2" font-size="50.5" >NiCo/Ni foam w/o press</text>
<line x1="356.5" y1="873.2" x2="469.7" y2="873.2" stroke="#c9a3cb" stroke-width="5" stroke-linecap="round"/>
<text x="483.5" y="890.7" font-size="50.5" >NiCo/Ni foam w press</text>
<text x="1062.0" y="692.5" font-size="97" font-weight="bold" >c</text>
<line x1="1199.0" y1="1457.8" x2="2042.5" y2="1457.8" stroke="#000" stroke-width="3.9" stroke-linecap="butt"/>
<line x1="1219.0" y1="620.8" x2="1219.0" y2="1477.8" stroke="#000" stroke-width="3.9" stroke-linecap="butt"/>
<line x1="1219.0" y1="1457.8" x2="1219.0" y2="1477.8" stroke="#000" stroke-width="3.9" stroke-linecap="butt"/>
<text x="1219.0" y="1529.5" font-size="49.5" text-anchor="middle" >0</text>
<line x1="1435.3" y1="1457.8" x2="1435.3" y2="1477.8" stroke="#000" stroke-width="3.9" stroke-linecap="butt"/>
<text x="1435.3" y="1529.5" font-size="49.5" text-anchor="middle" >1</text>
<line x1="1651.6" y1="1457.8" x2="1651.6" y2="1477.8" stroke="#000" stroke-width="3.9" stroke-linecap="butt"/>
<text x="1651.6" y="1529.5" font-size="49.5" text-anchor="middle" >2</text>
<line x1="1867.9" y1="1457.8" x2="1867.9" y2="1477.8" stroke="#000" stroke-width="3.9" stroke-linecap="butt"/>
<text x="1867.9" y="1529.5" font-size="49.5" text-anchor="middle" >3</text>
<line x1="1327.2" y1="1457.8" x2="1327.2" y2="1468.8" stroke="#000" stroke-width="3.9" stroke-linecap="butt"/>
<line x1="1543.5" y1="1457.8" x2="1543.5" y2="1468.8" stroke="#000" stroke-width="3.9" stroke-linecap="butt"/>
<line x1="1759.8" y1="1457.8" x2="1759.8" y2="1468.8" stroke="#000" stroke-width="3.9" stroke-linecap="butt"/>
<line x1="1976.1" y1="1457.8" x2="1976.1" y2="1468.8" stroke="#000" stroke-width="3.9" stroke-linecap="butt"/>
<line x1="1199.0" y1="1457.8" x2="1219.0" y2="1457.8" stroke="#000" stroke-width="3.9" stroke-linecap="butt"/>
<text x="1186.3" y="1473.1" font-size="49.5" text-anchor="end" >0</text>
<line x1="1199.0" y1="1318.6" x2="1219.0" y2="1318.6" stroke="#000" stroke-width="3.9" stroke-linecap="butt"/>
<text x="1186.3" y="1333.9" font-size="49.5" text-anchor="end" >5</text>
<line x1="1199.0" y1="1179.4" x2="1219.0" y2="1179.4" stroke="#000" stroke-width="3.9" stroke-linecap="butt"/>
<text x="1186.3" y="1194.7" font-size="49.5" text-anchor="end" >10</text>
<line x1="1199.0" y1="1040.3" x2="1219.0" y2="1040.3" stroke="#000" stroke-width="3.9" stroke-linecap="butt"/>
<text x="1186.3" y="1055.6" font-size="49.5" text-anchor="end" >15</text>
<line x1="1199.0" y1="901.1" x2="1219.0" y2="901.1" stroke="#000" stroke-width="3.9" stroke-linecap="butt"/>
<text x="1186.3" y="916.4" font-size="49.5" text-anchor="end" >20</text>
<line x1="1199.0" y1="761.9" x2="1219.0" y2="761.9" stroke="#000" stroke-width="3.9" stroke-linecap="butt"/>
<text x="1186.3" y="777.2" font-size="49.5" text-anchor="end" >25</text>
<line x1="1199.0" y1="622.7" x2="1219.0" y2="622.7" stroke="#000" stroke-width="3.9" stroke-linecap="butt"/>
<text x="1186.3" y="638.0" font-size="49.5" text-anchor="end" >30</text>
<line x1="1208.0" y1="1388.2" x2="1219.0" y2="1388.2" stroke="#000" stroke-width="3.9" stroke-linecap="butt"/>
<line x1="1208.0" y1="1249.0" x2="1219.0" y2="1249.0" stroke="#000" stroke-width="3.9" stroke-linecap="butt"/>
<line x1="1208.0" y1="1109.8" x2="1219.0" y2="1109.8" stroke="#000" stroke-width="3.9" stroke-linecap="butt"/>
<line x1="1208.0" y1="970.7" x2="1219.0" y2="970.7" stroke="#000" stroke-width="3.9" stroke-linecap="butt"/>
<line x1="1208.0" y1="831.5" x2="1219.0" y2="831.5" stroke="#000" stroke-width="3.9" stroke-linecap="butt"/>
<line x1="1208.0" y1="692.3" x2="1219.0" y2="692.3" stroke="#000" stroke-width="3.9" stroke-linecap="butt"/>
<text x="1631.0" y="1617.0" font-size="57.5" text-anchor="middle" >Time/h</text>
<g transform="translate(1049.4 1076) rotate(-90)"><text x="0" y="0" font-size="56.5" text-anchor="middle"><tspan font-style="italic">I</tspan><tspan font-size="37" dy="9.5">SC</tspan><tspan dy="-9.5">/µA</tspan></text></g>
<polyline points="1220.5,1457.8 1220.5,1455.3 1220.5,1453.0 1220.5,1450.3 1220.5,1447.8 1220.6,1445.3 1220.6,1442.7 1220.6,1440.3 1220.6,1437.8 1220.6,1435.4 1220.6,1432.7 1220.6,1430.2 1220.7,1427.7 1220.7,1425.4 1220.7,1422.9 1220.7,1420.1 1220.7,1418.0 1220.7,1415.5 1220.7,1412.9 1220.7,1410.3 1220.8,1407.7 1220.8,1405.1 1220.8,1402.8 1220.8,1400.1 1220.8,1397.7 1220.8,1395.2 1220.8,1392.6 1220.8,1390.3 1220.8,1387.8 1220.9,1385.4 1220.9,1382.8 1220.9,1380.4 1220.9,1377.8 1220.9,1375.4 1220.9,1372.8 1220.9,1370.2 1221.0,1368.0 1221.0,1365.5 1221.0,1362.9 1221.0,1360.4 1221.0,1357.7 1221.0,1355.2 1221.0,1352.7 1221.0,1350.1 1221.0,1347.9 1221.1,1345.3 1221.1,1342.9 1221.1,1340.3 1221.1,1338.0 1221.1,1335.4 1221.1,1332.6 1221.1,1330.2 1221.2,1327.9 1221.2,1325.3 1221.2,1323.0 1221.2,1320.3 1221.2,1317.6 1221.2,1315.3 1221.2,1312.9 1221.2,1310.2 1221.2,1307.7 1221.3,1305.2 1221.3,1302.9 1221.3,1300.3 1221.3,1297.5 1221.3,1295.0 1221.3,1292.4 1221.3,1289.9 1221.3,1287.6 1221.3,1284.8 1221.4,1282.4 1221.4,1279.9 1221.4,1277.2 1221.4,1274.9 1221.4,1272.1 1221.4,1269.8 1221.4,1267.1 1221.4,1264.6 1221.4,1262.0 1221.5,1259.5 1221.5,1257.2 1221.5,1254.6 1221.5,1251.9 1221.5,1249.6 1221.5,1246.8 1221.5,1244.3 1221.5,1241.9 1221.5,1239.3 1221.5,1236.6 1221.6,1234.4 1221.6,1231.6 1221.6,1229.0 1221.6,1226.7 1221.6,1224.0 1221.6,1221.4 1221.6,1218.8 1221.6,1216.3 1221.6,1213.9 1221.7,1211.3 1221.7,1208.9 1221.7,1206.3 1221.7,1203.8 1221.7,1201.5 1221.7,1198.8 1221.7,1196.4 1221.7,1193.9 1221.7,1191.2 1221.7,1188.7 1221.7,1186.4 1221.7,1183.9 1221.8,1181.2 1221.8,1178.6 1221.8,1176.3 1221.8,1173.9 1221.8,1171.1 1221.8,1168.9 1221.8,1166.3 1221.8,1163.7 1221.8,1161.2 1221.8,1158.5 1221.8,1156.0 1221.8,1153.8 1221.9,1151.1 1221.9,1148.7 1221.9,1146.1 1221.9,1143.7 1221.9,1141.2 1221.9,1138.5 1221.9,1136.0 1221.9,1133.7 1221.9,1130.9 1221.9,1128.5 1221.9,1126.1 1222.0,1123.6 1222.0,1121.0 1222.1,1118.3 1222.1,1116.0 1222.2,1113.2 1222.2,1110.6 1222.3,1108.2 1222.4,1105.7 1222.4,1103.0 1222.5,1100.5 1222.5,1098.0 1222.6,1095.5 1222.6,1092.8 1222.7,1090.4 1222.7,1088.0 1222.8,1085.5 1222.8,1082.9 1222.9,1080.3 1222.9,1077.7 1223.0,1075.0 1223.0,1072.4 1223.1,1069.9 1223.3,1067.5 1223.5,1064.8 1223.8,1062.2 1224.0,1059.2 1224.2,1056.7 1224.4,1054.0 1224.7,1051.4 1224.9,1048.5 1225.1,1046.1 1225.6,1043.0 1226.1,1040.4 1226.6,1037.7 1227.1,1035.0 1227.6,1032.2 1228.1,1029.5 1229.5,1026.6 1230.8,1023.8 1232.1,1020.1 1233.8,1018.4 1235.5,1016.7 1237.2,1014.6 1240.2,1012.6 1243.2,1011.5 1246.7,1010.9 1250.3,1009.8 1253.0,1009.8 1255.6,1009.5 1258.3,1009.8 1261.3,1010.2 1264.4,1010.0 1267.4,1011.0 1269.9,1012.1 1272.4,1012.5 1274.9,1013.0 1277.5,1013.2 1280.1,1014.7 1282.8,1015.7 1285.5,1016.7 1287.5,1018.8 1289.5,1019.4 1291.5,1021.7 1294.6,1022.4 1297.6,1024.6 1300.6,1025.1 1303.6,1025.6 1306.6,1027.9 1309.7,1029.4 1311.7,1031.4 1313.7,1033.7 1315.7,1034.7 1318.7,1036.3 1321.7,1038.4 1324.8,1039.7 1327.8,1039.9 1330.8,1040.4 1333.8,1041.8 1336.8,1042.0 1339.9,1042.1 1342.9,1043.0 1345.9,1042.6 1348.9,1043.4 1351.9,1043.5 1355.0,1044.5 1358.0,1045.6 1361.0,1046.4 1363.4,1047.2 1365.8,1047.4 1368.3,1048.4 1370.7,1048.9 1373.1,1049.5 1375.9,1050.8 1378.6,1052.0 1381.4,1052.8 1384.2,1053.5 1386.7,1054.5 1389.2,1054.3 1391.7,1054.8 1394.2,1055.8 1396.7,1055.9 1399.3,1056.2 1401.8,1056.8 1404.3,1057.3 1406.8,1057.2 1409.3,1057.0 1411.8,1057.6 1414.4,1057.8 1416.9,1057.7 1419.4,1057.8 1421.9,1058.3 1424.4,1059.8 1426.9,1060.0 1429.5,1061.9 1432.0,1062.8 1434.5,1063.6 1437.0,1064.9 1439.5,1064.8 1442.1,1065.7 1444.6,1066.8 1447.1,1066.7 1449.6,1068.1 1452.1,1067.7 1454.6,1068.0 1457.3,1068.2 1459.9,1069.2 1462.5,1069.3 1465.1,1069.8 1467.7,1070.2 1470.4,1070.6 1473.1,1071.0 1475.8,1070.9 1478.5,1070.5 1481.1,1071.1 1483.8,1071.0 1486.3,1071.1 1488.9,1072.0 1491.4,1072.6 1493.9,1072.3 1496.4,1072.7 1498.9,1073.1 1501.7,1074.0 1504.6,1074.3 1507.4,1074.9 1510.2,1075.5 1513.0,1075.6 1515.5,1076.5 1518.1,1077.1 1520.6,1076.6 1523.1,1078.1 1525.6,1078.3 1528.4,1078.1 1531.1,1079.1 1533.9,1079.8 1536.7,1080.7 1539.6,1082.0 1542.5,1084.1 1542.8,1086.9 1543.1,1089.9 1545.4,1092.1 1547.7,1093.7 1550.5,1094.9 1553.3,1095.4 1556.1,1097.0 1558.7,1097.8 1561.2,1098.3 1563.8,1099.0 1566.4,1099.1 1569.4,1100.6 1572.4,1101.3 1575.4,1101.9 1578.5,1101.9 1581.2,1102.9 1584.0,1103.1 1586.8,1104.5 1589.5,1105.1 1592.1,1105.3 1594.6,1105.8 1597.1,1107.0 1599.6,1108.0 1602.4,1108.7 1605.1,1108.9 1607.9,1108.9 1610.7,1110.3 1613.7,1109.6 1616.7,1110.7 1619.7,1110.1 1622.8,1110.5 1625.5,1110.9 1628.3,1109.9 1631.1,1109.7 1633.8,1110.0 1636.3,1109.6 1638.9,1109.1 1641.4,1108.4 1643.9,1108.1 1646.9,1106.3 1649.9,1105.6 1653.0,1103.3 1655.6,1101.8 1658.3,1100.5 1661.0,1098.5 1663.4,1097.4 1665.7,1095.6 1668.1,1093.8 1670.1,1092.5 1672.1,1090.4 1674.1,1088.5 1676.4,1087.4 1678.8,1086.8 1681.1,1085.7 1683.8,1084.2 1686.5,1084.3 1689.2,1083.7 1692.2,1082.9 1695.2,1082.6 1698.3,1081.8 1700.8,1082.2 1703.3,1082.2 1705.8,1082.3 1708.3,1081.6 1711.3,1083.1 1714.4,1082.8 1717.4,1083.0 1720.1,1084.2 1722.8,1084.6 1725.4,1085.2 1728.1,1086.6 1730.8,1087.0 1733.5,1088.7 1736.2,1090.3 1738.9,1092.6 1741.6,1094.2 1743.6,1095.7 1745.6,1098.2 1747.6,1100.1 1749.6,1102.7 1750.9,1105.3 1752.3,1107.6 1753.6,1109.3 1755.0,1111.3 1756.3,1113.3 1757.7,1116.0 1759.1,1118.7 1760.5,1120.1 1761.9,1123.2 1763.3,1124.6 1764.7,1127.1 1766.2,1129.6 1767.7,1132.7 1769.2,1134.8 1770.7,1137.3 1772.2,1139.9 1773.6,1141.5 1775.0,1144.4 1776.4,1145.9 1777.8,1148.6 1779.4,1150.7 1781.0,1153.1 1782.6,1155.9 1784.2,1158.2 1785.8,1160.5 1787.5,1163.2 1789.2,1166.0 1790.9,1168.2 1792.9,1171.9 1794.4,1174.9 1795.9,1177.4 1797.4,1179.8 1798.9,1182.6 1800.4,1184.7 1801.8,1187.2 1803.2,1188.8 1804.7,1191.7 1806.1,1194.1 1807.6,1196.5 1809.0,1198.1 1810.4,1200.4 1811.9,1203.4 1813.3,1204.9 1814.8,1208.1 1816.2,1210.3 1817.6,1211.7 1819.1,1214.1 1820.5,1217.0 1821.9,1218.7 1823.4,1220.9 1824.8,1224.0 1826.3,1225.8 1827.7,1228.6 1829.1,1230.1 1830.6,1232.7 1832.0,1235.2 1833.5,1236.6 1834.9,1239.1 1836.3,1241.9 1837.8,1244.4 1839.2,1246.7 1840.6,1247.8 1842.1,1250.5 1843.5,1252.9 1845.0,1254.8 1846.4,1257.2 1847.8,1258.7 1849.3,1260.7 1850.6,1263.4 1851.9,1265.9 1853.2,1269.2 1854.5,1271.7 1855.8,1274.4 1856.6,1276.7 1857.3,1279.5 1858.1,1282.3 1858.8,1285.8 1859.8,1288.4 1860.8,1290.7 1861.9,1292.2 1862.9,1294.5 1863.9,1298.0 1865.3,1300.1 1866.7,1303.0 1868.1,1305.1 1869.5,1307.9 1870.9,1310.6 1872.4,1312.6 1873.9,1314.9 1875.4,1316.3 1877.0,1319.3 1878.5,1321.6 1880.5,1322.8 1882.5,1325.1 1884.5,1327.5 1886.5,1329.1 1888.2,1330.8 1889.9,1332.8 1891.6,1335.3 1893.6,1338.7 1895.3,1341.7 1897.1,1343.7 1899.6,1345.6 1902.1,1347.8 1904.6,1349.0 1907.2,1350.2 1909.7,1351.5 1912.2,1352.4 1913.9,1356.2 1915.5,1359.0 1915.9,1361.6 1916.3,1364.6 1916.7,1367.3 1917.1,1370.1 1917.4,1373.0 1917.6,1375.8 1917.8,1378.9 1918.1,1381.8 1918.3,1384.6 1918.4,1387.3 1918.6,1389.8 1918.7,1392.3 1918.8,1395.0 1918.9,1397.4 1919.0,1400.0 1919.1,1402.7 1919.3,1405.4 1919.5,1408.3 1919.7,1411.3 1919.9,1414.1 1920.1,1416.9 1920.3,1420.0 1920.6,1422.5 1920.9,1425.1 1921.2,1427.9 1921.4,1430.6 1921.7,1433.2 1922.0,1435.8 1922.7,1439.0 1923.4,1441.0 1924.1,1443.6 1924.8,1446.1 1926.8,1448.2 1928.8,1448.8 1931.8,1450.8 1934.8,1452.2 1937.5,1452.1 1940.2,1452.7 1942.9,1452.8 1945.6,1453.1 1948.3,1453.4 1950.9,1453.2 1953.6,1453.2 1956.3,1453.8 1959.0,1453.2 1962.0,1452.1 1965.0,1451.7 1967.1,1449.5 1969.1,1448.3 1970.7,1444.7 1972.4,1441.8 1973.3,1437.9 1974.1,1435.5 1975.0,1432.7 1977.5,1431.8 1978.3,1435.9 1979.1,1438.0 1979.9,1441.4 1981.8,1444.1 1983.7,1447.5 1986.2,1449.1 1988.7,1450.0 1992.2,1451.8 1995.7,1451.9 1998.8,1452.0 2001.8,1452.1 2004.8,1451.9 2007.8,1450.3 2010.8,1449.2 2012.4,1446.0 2013.9,1442.9 2014.4,1440.5 2014.9,1437.8 2015.4,1435.2 2015.9,1432.8 2016.1,1429.9 2016.3,1427.1 2016.5,1424.5 2016.7,1421.6 2016.9,1418.9 2017.2,1415.9 2017.6,1412.7 2017.9,1410.5 2018.9,1406.8 2022.9,1404.0 2026.5,1405.0 2030.0,1404.4 2034.0,1406.1 2035.0,1409.9 2036.8,1410.8 2039.4,1411.6 2040.7,1411.7" fill="none" stroke="#c8c8c8" stroke-width="6.5" stroke-linejoin="round" stroke-linecap="round" />
<polyline points="1225.3,1447.9 1227.5,1444.3 1229.0,1441.6 1230.5,1437.9 1231.9,1434.9 1234.0,1433.6 1236.1,1431.4 1238.2,1430.5 1240.9,1428.9 1243.6,1427.4 1246.2,1426.0 1249.3,1424.9 1252.3,1422.6 1255.3,1422.0 1257.8,1420.6 1260.3,1421.2 1262.9,1418.7 1265.4,1419.3 1267.9,1417.2 1270.4,1417.8 1272.9,1416.5 1275.4,1416.0 1278.0,1416.5 1280.5,1414.4 1283.0,1414.1 1285.5,1415.4 1288.0,1414.1 1290.5,1412.8 1293.1,1414.2 1295.6,1413.6 1298.1,1411.5 1300.6,1411.6 1303.1,1410.5 1305.6,1410.4 1308.2,1410.5 1310.7,1409.1 1313.2,1409.6 1315.7,1407.8 1318.2,1407.6 1320.7,1408.4 1323.3,1407.0 1325.8,1406.6 1328.3,1406.5 1330.8,1405.9 1333.3,1405.4 1335.8,1404.3 1338.4,1405.3 1340.9,1405.4 1343.4,1405.2 1345.9,1404.2 1348.4,1403.3 1350.9,1403.0 1353.5,1403.4 1356.0,1403.0 1358.5,1401.6 1361.0,1401.6 1363.5,1401.6 1366.0,1401.7 1368.6,1402.1 1371.1,1401.3 1373.6,1400.2 1376.1,1401.6 1378.6,1400.6 1381.1,1400.6 1383.7,1399.9 1386.2,1400.3 1388.7,1400.1 1391.2,1400.8 1393.7,1399.4 1396.2,1400.2 1398.8,1399.4 1401.3,1400.4 1403.8,1398.9 1406.3,1399.3 1408.8,1399.4 1411.3,1399.8 1413.9,1398.6 1416.4,1399.3 1418.9,1398.7 1421.4,1398.7 1423.9,1399.0 1426.4,1399.8 1429.0,1398.7 1431.5,1399.6 1434.0,1397.9 1436.5,1399.3 1439.0,1398.0 1441.5,1397.5 1444.4,1398.4 1447.2,1398.4 1450.0,1396.3 1452.8,1396.5 1455.6,1397.2 1458.3,1395.7 1461.0,1394.8 1463.7,1393.7 1466.2,1393.5 1468.7,1394.4 1471.2,1394.8 1473.8,1394.6 1476.8,1393.6 1479.8,1392.7 1482.8,1393.3 1485.8,1394.2 1488.9,1394.2 1491.9,1393.8 1494.9,1392.9 1497.9,1393.5 1500.9,1393.3 1504.0,1393.5 1507.0,1392.6 1510.0,1393.9 1513.0,1393.6 1516.0,1392.0 1519.1,1392.1 1522.1,1393.0 1525.1,1391.5 1528.6,1393.2 1532.2,1392.7 1534.8,1393.7 1537.5,1394.4 1540.2,1394.1 1543.2,1394.1 1546.2,1393.9 1549.3,1394.6 1551.8,1393.9 1554.3,1392.1 1556.8,1392.9 1559.3,1391.3 1562.4,1390.5 1565.4,1390.5 1568.4,1391.2 1571.1,1390.5 1573.8,1390.7 1576.4,1391.4 1579.1,1391.4 1581.8,1390.9 1584.5,1390.1 1587.2,1390.1 1589.9,1390.4 1592.6,1389.9 1595.6,1389.0 1598.6,1388.1 1601.6,1387.7 1604.1,1388.1 1606.6,1387.3 1609.2,1385.8 1611.7,1386.8 1614.4,1387.2 1617.1,1386.9 1619.7,1387.1 1622.8,1387.8 1625.8,1387.8 1628.3,1388.3 1630.8,1387.4 1634.8,1385.5 1637.9,1386.0 1640.9,1385.9 1643.6,1387.6 1646.2,1387.6 1648.9,1387.8 1652.5,1388.7 1656.0,1388.4 1659.0,1390.1 1662.0,1391.2 1665.0,1392.3 1668.1,1393.6 1670.1,1395.6 1672.1,1397.1 1674.1,1399.5 1676.1,1400.8 1678.1,1403.0 1680.1,1405.8 1681.7,1408.9 1683.2,1411.3 1684.7,1413.3 1686.2,1416.1 1687.6,1417.4 1688.9,1419.1 1690.3,1422.4 1691.7,1424.7 1693.0,1426.7 1694.2,1430.2 1695.5,1432.1 1696.8,1434.9 1701.0,1444.2 1704.4,1452.6 1706.1,1456.8" fill="none" stroke="#000" stroke-width="5" stroke-linejoin="round" stroke-linecap="round" />
<polyline points="1220.9,1456.0 1265.6,1456.0 1266.4,1431.9 1270.4,1405.7 1282.5,1401.7 1285.7,1401.7 1287.3,1450.0 1289.3,1450.0 1291.3,1401.7 1295.4,1399.7 1296.2,1448.0 1299.4,1454.8 1309.5,1454.8 1310.3,1411.7 1311.5,1396.4 1330.8,1394.8 1411.3,1394.8 1471.7,1395.6 1499.9,1397.7 1516.0,1401.7 1532.2,1407.7 1564.4,1408.9 1575.6,1411.7 1577.3,1431.9 1580.5,1456.0 1707.3,1456.0" fill="none" stroke="#d9c6fa" stroke-width="5.5" stroke-linejoin="round" stroke-linecap="round" />
<polyline points="1221.5,1457.7 1221.5,1455.4 1221.6,1452.9 1221.6,1450.4 1221.7,1447.7 1221.7,1445.2 1221.8,1442.7 1221.8,1440.2 1221.8,1437.9 1221.9,1435.2 1221.9,1432.8 1222.0,1430.2 1222.0,1427.7 1222.0,1425.3 1222.1,1422.9 1222.1,1420.3 1222.2,1417.6 1222.2,1415.2 1222.2,1412.7 1222.3,1410.4 1222.3,1407.9 1222.4,1405.4 1222.4,1402.9 1222.5,1400.4 1222.5,1398.0 1222.5,1395.4 1222.6,1392.7 1222.6,1390.4 1222.7,1387.8 1222.7,1385.4 1222.8,1382.8 1222.8,1380.3 1222.8,1377.8 1222.9,1375.3 1222.9,1372.7 1223.0,1370.2 1223.0,1367.9 1223.0,1365.4 1223.1,1363.0 1223.1,1360.4 1223.2,1357.8 1223.2,1355.4 1223.2,1352.7 1223.3,1350.4 1223.3,1347.8 1223.4,1345.2 1223.5,1342.7 1223.5,1340.3 1223.6,1337.7 1223.7,1335.3 1223.8,1332.8 1223.8,1330.3 1223.9,1327.7 1224.0,1325.3 1224.0,1322.7 1224.1,1320.2 1224.2,1317.7 1224.3,1315.3 1224.3,1312.6 1224.4,1310.4 1224.5,1308.0 1224.6,1305.3 1224.7,1302.9 1224.7,1300.5 1224.8,1297.6 1224.9,1295.2 1225.0,1292.9 1225.0,1290.4 1225.1,1287.9 1225.2,1285.2 1225.2,1282.8 1225.4,1280.4 1225.5,1277.9 1225.6,1275.4 1225.8,1272.7 1225.9,1270.4 1226.0,1267.8 1226.1,1265.4 1226.2,1262.7 1226.4,1260.5 1226.5,1257.8 1226.6,1255.4 1226.8,1252.7 1226.9,1250.3 1227.0,1247.8 1227.1,1245.3 1227.2,1242.7 1227.4,1240.4 1227.5,1237.7 1227.6,1235.2 1227.8,1232.7 1227.9,1230.3 1228.0,1227.5 1228.1,1225.0 1228.3,1222.3 1228.4,1219.9 1228.5,1217.3 1228.6,1214.7 1228.8,1212.0 1228.9,1209.5 1229.0,1206.9 1229.2,1204.3 1229.3,1201.6 1229.4,1199.4 1229.5,1196.5 1229.7,1194.0 1229.8,1191.4 1229.9,1189.0 1230.0,1186.3 1230.2,1183.9 1230.3,1181.4 1230.4,1179.1 1230.5,1176.3 1230.6,1173.9 1230.8,1171.4 1230.9,1169.1 1231.0,1166.4 1231.1,1163.9 1231.2,1161.4 1231.4,1158.8 1231.6,1156.1 1231.8,1153.6 1232.1,1151.2 1232.3,1148.5 1232.5,1145.7 1232.8,1143.2 1233.0,1140.7 1233.2,1137.8 1233.5,1135.3 1233.7,1132.6 1233.9,1130.0 1234.2,1127.4 1234.5,1124.8 1234.8,1122.4 1235.2,1119.7 1235.5,1117.4 1235.8,1114.7 1236.2,1112.4 1236.5,1109.9 1236.8,1107.1 1237.2,1104.9 1237.5,1102.2 1237.9,1099.8 1238.2,1097.3 1238.6,1094.7 1238.9,1092.1 1239.3,1089.7 1239.7,1087.1 1240.1,1084.8 1240.5,1082.0 1240.8,1079.8 1241.2,1077.0 1241.6,1074.5 1242.0,1072.0 1242.3,1069.4 1242.7,1066.9 1243.1,1064.5 1243.6,1062.0 1244.0,1059.6 1244.4,1057.2 1244.8,1054.3 1245.2,1052.0 1245.7,1049.3 1246.1,1047.0 1246.5,1044.3 1246.9,1042.0 1247.3,1039.4 1247.8,1036.7 1248.3,1034.1 1248.8,1031.5 1249.3,1029.1 1249.8,1026.3 1250.3,1023.8 1250.8,1021.1 1251.3,1018.5 1251.8,1016.0 1252.3,1013.2 1252.8,1010.8 1253.3,1008.3 1253.9,1005.9 1254.5,1003.3 1255.0,1001.0 1255.6,998.3 1256.1,995.9 1256.7,993.5 1257.3,991.1 1257.8,989.0 1258.5,985.5 1259.3,982.9 1260.0,980.8 1260.7,978.5 1261.4,975.6 1262.1,972.8 1262.9,971.0 1263.9,967.3 1264.9,964.3 1265.9,961.4 1266.9,958.6 1267.9,956.6 1269.0,953.5 1270.1,951.9 1271.2,949.8 1272.3,947.6 1273.4,945.1 1274.9,942.4 1276.4,940.4 1278.0,938.3 1279.5,935.9 1281.4,933.7 1283.2,932.5 1285.1,929.9 1287.0,928.4 1289.3,928.0 1291.5,926.1 1293.8,924.6 1296.1,923.9 1298.1,921.8 1300.1,919.4 1302.1,917.7 1303.6,915.1 1305.1,912.4 1307.3,911.8 1309.5,909.6 1311.7,909.0 1314.2,908.4 1316.7,907.3 1319.2,907.4 1321.7,906.5 1324.3,905.5 1326.8,904.6 1329.3,904.2 1331.8,904.1 1334.3,903.0 1336.8,902.0 1339.4,901.5 1341.9,901.0 1345.1,900.1 1348.3,899.9 1351.4,898.7 1354.5,899.3 1357.5,898.2 1360.5,897.7 1364.0,897.2 1367.6,895.8 1370.1,894.8 1372.6,892.6 1375.4,891.9 1378.3,891.5 1381.1,890.0 1384.2,890.4 1387.2,890.0 1390.2,889.5 1393.2,889.9 1395.7,888.8 1398.3,889.8 1400.8,888.9 1403.3,889.8 1405.8,888.9 1408.3,888.8 1410.9,889.5 1413.5,890.2 1416.1,889.5 1418.7,889.9 1421.3,890.2 1423.9,889.9 1426.4,890.4 1429.5,890.3 1432.5,891.3 1435.5,892.2 1438.5,892.2 1441.5,893.6 1444.6,894.9 1447.3,897.7 1450.1,899.3 1452.6,902.4 1455.1,904.8 1457.2,906.5 1459.2,910.0 1460.7,912.5 1462.2,914.9 1463.9,916.9 1465.7,918.8 1467.7,920.3 1469.7,921.8 1471.5,923.7 1473.3,925.3 1474.8,927.7 1476.3,930.9 1478.6,932.8 1481.0,934.1 1483.3,936.9 1485.5,938.2 1487.8,939.5 1490.0,941.2 1492.2,942.8 1494.4,943.6 1496.7,945.6 1499.0,946.7 1501.3,948.3 1503.7,949.7 1506.0,951.8 1508.4,952.8 1510.8,955.0 1513.2,955.9 1515.6,957.9 1518.1,959.8 1520.3,960.8 1522.5,961.7 1524.7,962.6 1526.9,964.4 1529.1,965.6 1531.6,967.2 1534.2,968.3 1536.7,969.7 1539.2,970.2 1541.7,971.7 1544.2,973.4 1546.7,975.1 1549.3,975.8 1551.3,977.5 1553.3,978.9 1555.3,980.6 1557.3,982.1 1559.3,984.4 1562.1,984.7 1564.9,986.8 1567.6,987.3 1570.4,988.5 1573.4,990.1 1576.4,989.6 1579.5,990.3 1582.5,991.0 1585.5,991.6 1588.5,992.7 1591.5,993.2 1594.6,993.9 1597.6,994.4 1600.6,996.0 1603.6,996.0 1606.6,997.0 1609.7,998.0 1612.7,999.1 1615.7,999.5 1618.7,1000.3 1621.8,1000.8 1624.8,1001.6 1627.8,1002.2 1630.8,1002.0 1633.3,1002.4 1635.8,1003.7 1638.4,1004.1 1640.9,1004.7 1643.6,1005.6 1646.2,1005.6 1648.9,1006.9 1651.4,1006.7 1654.0,1006.8 1656.5,1006.7 1659.0,1006.9 1662.0,1007.0 1665.0,1006.7 1668.1,1006.9 1671.1,1005.9 1673.6,1006.4 1676.1,1005.7 1678.6,1006.3 1681.1,1005.7 1683.8,1006.9 1686.5,1007.4 1689.2,1006.9 1692.2,1008.3 1695.2,1008.3 1698.3,1009.1 1700.8,1009.7 1703.3,1011.0 1705.8,1011.5 1708.3,1013.0 1710.9,1013.7 1713.6,1014.3 1716.2,1015.5 1718.8,1015.7 1721.4,1016.6 1724.1,1017.4 1726.8,1017.8 1729.5,1019.6 1732.2,1019.4 1734.8,1020.2 1737.5,1021.8 1739.9,1022.8 1742.2,1023.3 1744.6,1024.3 1746.9,1024.9 1749.3,1025.7 1751.6,1027.3 1754.0,1028.4 1756.5,1029.7 1758.9,1032.0 1761.3,1032.3 1763.7,1034.2 1766.0,1035.6 1768.4,1036.5 1770.7,1036.7 1773.1,1038.4 1775.4,1039.2 1777.8,1040.2 1780.5,1041.3 1783.2,1041.9 1785.8,1042.4 1788.5,1043.3 1791.2,1043.8 1793.9,1044.6 1796.6,1045.8 1799.3,1046.5 1802.0,1047.1 1804.6,1047.6 1807.3,1049.5 1810.0,1049.8 1812.7,1051.1 1815.4,1052.0 1818.1,1053.4 1820.7,1054.3 1823.4,1056.0 1826.1,1056.8 1828.6,1057.8 1831.1,1059.1 1833.7,1059.8 1836.2,1061.0 1838.7,1062.3 1841.2,1063.3 1843.6,1064.3 1845.9,1065.5 1848.3,1066.1 1850.6,1067.1 1853.0,1067.7 1855.3,1068.8 1857.9,1070.0 1860.5,1071.1 1863.2,1072.6 1865.8,1072.5 1868.4,1073.9 1870.8,1075.2 1873.2,1075.7 1875.6,1076.9 1878.1,1076.9 1880.5,1078.5 1883.0,1079.0 1885.5,1080.2 1888.0,1080.6 1890.5,1082.0 1893.2,1083.9 1895.9,1085.1 1898.6,1086.3 1900.8,1087.4 1903.0,1088.3 1905.1,1090.4 1907.7,1092.2 1910.2,1094.5 1911.2,1097.1 1912.2,1099.5 1913.2,1102.4 1913.4,1105.2 1913.7,1108.5 1914.0,1111.2 1914.2,1114.9 1915.4,1117.2 1916.6,1119.7 1917.7,1122.9 1920.7,1124.4 1923.8,1126.5 1926.3,1127.7 1928.8,1130.3 1930.8,1131.6 1932.8,1132.7 1934.6,1134.5 1936.4,1136.9 1937.9,1140.1 1939.4,1142.5 1943.4,1144.5 1945.9,1144.0 1948.4,1145.0 1950.7,1145.6 1953.0,1147.7 1955.0,1150.3 1957.0,1153.7 1959.3,1153.9 1961.5,1155.9 1964.0,1155.3 1966.6,1154.0 1969.1,1156.1 1971.6,1157.3 1973.3,1160.1 1974.9,1162.8 1976.6,1164.8 1978.5,1167.1 1980.3,1169.8 1982.2,1171.8 1983.7,1174.1 1985.2,1175.7 1986.7,1178.5 1988.2,1179.7 1990.5,1183.0 1992.7,1185.4 1995.7,1188.8 1997.5,1191.5 1999.3,1194.7 2000.3,1198.0 2001.3,1200.6 2002.3,1203.3 2003.3,1205.4 2003.9,1208.2 2004.5,1210.5 2005.1,1213.3 2005.7,1215.9 2006.3,1218.3 2006.7,1221.0 2007.0,1223.7 2007.3,1226.5 2007.7,1229.3 2008.0,1232.0 2008.3,1234.6 2008.5,1236.9 2008.7,1239.7 2008.9,1242.1 2009.1,1244.5 2009.2,1247.2 2009.4,1249.6 2009.6,1252.1 2009.8,1254.7 2010.0,1257.3 2010.1,1259.6 2010.3,1262.3 2010.4,1264.9 2010.5,1267.7 2010.6,1270.4 2010.8,1272.8 2010.9,1275.6 2011.0,1278.2 2011.1,1280.7 2011.3,1283.3 2011.4,1286.1 2011.5,1288.8 2011.6,1291.4 2011.8,1293.8 2011.8,1296.7 2011.9,1299.3 2012.0,1301.9 2012.1,1304.5 2012.2,1307.2 2012.3,1310.0 2012.4,1312.5 2012.5,1315.1 2012.6,1318.0 2012.7,1320.5 2012.8,1323.1 2012.9,1326.0 2013.0,1328.4 2013.1,1331.2 2013.1,1333.8 2013.2,1336.3 2013.3,1338.9 2013.3,1341.2 2013.4,1343.8 2013.4,1346.4 2013.5,1348.8 2013.6,1351.4 2013.6,1353.8 2013.7,1356.5 2013.8,1359.1 2013.8,1361.4 2013.9,1364.0 2013.9,1366.4 2014.0,1369.1 2014.1,1371.6 2014.2,1374.1 2014.2,1376.6 2014.3,1379.1 2014.4,1381.7 2014.5,1383.9 2014.6,1386.6 2014.7,1388.9 2014.7,1391.6 2014.8,1394.2 2014.9,1396.6 2015.0,1399.3 2015.1,1401.7 2015.2,1404.1 2015.3,1406.6 2015.5,1409.3 2015.6,1411.7 2015.7,1414.1 2015.8,1416.7 2016.0,1419.5 2016.1,1421.8 2016.3,1424.6 2016.6,1427.2 2016.8,1429.8 2017.1,1432.7 2017.3,1435.3 2018.0,1438.8 2018.7,1442.6 2020.1,1444.9 2021.4,1446.4 2025.4,1449.5 2029.5,1448.9 2033.5,1448.1 2036.8,1445.8 2039.4,1442.3 2040.7,1439.9" fill="none" stroke="#cfa9d3" stroke-width="6.5" stroke-linejoin="round" stroke-linecap="round" />
<line x1="1406.2" y1="650.4" x2="1522.3" y2="650.4" stroke="#c8c8c8" stroke-width="5.5" stroke-linecap="round"/>
<text x="1528.0" y="667.9" font-size="50.3" >Ni foam w/o press</text>
<line x1="1406.2" y1="713.0" x2="1522.3" y2="713.0" stroke="#000" stroke-width="5.5" stroke-linecap="round"/>
<text x="1528.0" y="730.5" font-size="49.8" >Ni foam w press</text>
<line x1="1406.2" y1="775.6" x2="1522.3" y2="775.6" stroke="#d9c6fa" stroke-width="5.5" stroke-linecap="round"/>
<text x="1528.0" y="793.1" font-size="49.2" >NiCo/Ni foam w/o press</text>
<line x1="1406.2" y1="838.2" x2="1522.3" y2="838.2" stroke="#bb85bb" stroke-width="5.5" stroke-linecap="round"/>
<text x="1528.0" y="855.7" font-size="49.2" >NiCo/Ni foam  w press</text>
<text x="2045.0" y="693.0" font-size="97" font-weight="bold" >d</text>
<line x1="2236.0" y1="1456.8" x2="3076.7" y2="1456.8" stroke="#000" stroke-width="4" stroke-linecap="butt"/>
<line x1="2257.1" y1="593.0" x2="2257.1" y2="1456.8" stroke="#000" stroke-width="4" stroke-linecap="butt"/>
<line x1="2236.6" y1="1456.8" x2="2257.1" y2="1456.8" stroke="#000" stroke-width="4" stroke-linecap="butt"/>
<text x="2224.3" y="1473.0" font-size="51.4" text-anchor="end" >0</text>
<line x1="2236.6" y1="1342.1" x2="2257.1" y2="1342.1" stroke="#000" stroke-width="4" stroke-linecap="butt"/>
<text x="2224.3" y="1358.3" font-size="51.4" text-anchor="end" >20</text>
<line x1="2236.6" y1="1227.4" x2="2257.1" y2="1227.4" stroke="#000" stroke-width="4" stroke-linecap="butt"/>
<text x="2224.3" y="1243.6" font-size="51.4" text-anchor="end" >40</text>
<line x1="2236.6" y1="1112.7" x2="2257.1" y2="1112.7" stroke="#000" stroke-width="4" stroke-linecap="butt"/>
<text x="2224.3" y="1128.9" font-size="51.4" text-anchor="end" >60</text>
<line x1="2236.6" y1="998.0" x2="2257.1" y2="998.0" stroke="#000" stroke-width="4" stroke-linecap="butt"/>
<text x="2224.3" y="1014.2" font-size="51.4" text-anchor="end" >80</text>
<line x1="2236.6" y1="883.3" x2="2257.1" y2="883.3" stroke="#000" stroke-width="4" stroke-linecap="butt"/>
<text x="2224.3" y="899.5" font-size="51.4" text-anchor="end" >100</text>
<line x1="2236.6" y1="768.6" x2="2257.1" y2="768.6" stroke="#000" stroke-width="4" stroke-linecap="butt"/>
<text x="2224.3" y="784.8" font-size="51.4" text-anchor="end" >120</text>
<line x1="2236.6" y1="653.9" x2="2257.1" y2="653.9" stroke="#000" stroke-width="4" stroke-linecap="butt"/>
<text x="2224.3" y="670.1" font-size="51.4" text-anchor="end" >140</text>
<line x1="2246.1" y1="1399.5" x2="2257.1" y2="1399.5" stroke="#000" stroke-width="4" stroke-linecap="butt"/>
<line x1="2246.1" y1="1284.8" x2="2257.1" y2="1284.8" stroke="#000" stroke-width="4" stroke-linecap="butt"/>
<line x1="2246.1" y1="1170.0" x2="2257.1" y2="1170.0" stroke="#000" stroke-width="4" stroke-linecap="butt"/>
<line x1="2246.1" y1="1055.3" x2="2257.1" y2="1055.3" stroke="#000" stroke-width="4" stroke-linecap="butt"/>
<line x1="2246.1" y1="940.6" x2="2257.1" y2="940.6" stroke="#000" stroke-width="4" stroke-linecap="butt"/>
<line x1="2246.1" y1="825.9" x2="2257.1" y2="825.9" stroke="#000" stroke-width="4" stroke-linecap="butt"/>
<line x1="2246.1" y1="711.2" x2="2257.1" y2="711.2" stroke="#000" stroke-width="4" stroke-linecap="butt"/>
<line x1="2246.1" y1="596.5" x2="2257.1" y2="596.5" stroke="#000" stroke-width="4" stroke-linecap="butt"/>
<line x1="2360.4" y1="1456.8" x2="2360.4" y2="1467.3" stroke="#000" stroke-width="4" stroke-linecap="butt"/>
<line x1="2564.6" y1="1456.8" x2="2564.6" y2="1476.8" stroke="#000" stroke-width="4" stroke-linecap="butt"/>
<line x1="2769.2" y1="1456.8" x2="2769.2" y2="1467.3" stroke="#000" stroke-width="4" stroke-linecap="butt"/>
<line x1="2973.5" y1="1456.8" x2="2973.5" y2="1476.8" stroke="#000" stroke-width="4" stroke-linecap="butt"/>
<rect x="2307.1" y="1376.6" width="102.9" height="77.7" fill="#e3e3e3" stroke="#d2d2d2" stroke-width="2" />
<rect x="2511.6" y="1444.6" width="101.6" height="9.7" fill="#7d7d7d" stroke="#5a5a5a" stroke-width="2" />
<rect x="2917.9" y="780.6" width="102.9" height="673.7" fill="#e8d2e8" stroke="#e2c6e2" stroke-width="2" />
<text x="2317.0" y="1360.0" font-size="47.6" transform="rotate(-30 2317.0 1360.0)" >13.63</text>
<text x="2545.0" y="1429.0" font-size="47.6" transform="rotate(-30 2545.0 1429.0)" >1.6</text>
<text x="2731.0" y="1441.0" font-size="47.8" transform="rotate(-30 2731.0 1441.0)" >7E-4</text>
<text x="2918.0" y="761.0" font-size="48.2" transform="rotate(-30 2918.0 761.0)" >117.56</text>
<text x="2248.0" y="1513.0" font-size="39" >Ni foam</text>
<text x="2248.0" y="1578.0" font-size="39" >w/o press</text>
<text x="2488.0" y="1513.0" font-size="39" >Ni foam</text>
<text x="2488.0" y="1578.0" font-size="39" >w press</text>
<text x="2664.0" y="1513.0" font-size="39" >NiCo/Ni foam</text>
<text x="2911.0" y="1515.3" font-size="39" >NiCo/Ni foam</text>
<text x="2685.0" y="1578.0" font-size="39" >w/o press</text>
<text x="2947.5" y="1581.5" font-size="39" >w press</text>
<text x="2666.0" y="1670.0" font-size="58" text-anchor="middle" >Sample</text>
<g transform="translate(2112.2 1072.4) rotate(-90)"><text x="0" y="0" font-size="57.7" text-anchor="middle">Energy/(µWh/cm<tspan font-size="35" dy="-22">3</tspan><tspan dy="22">)</tspan></text></g>
<text x="16.0" y="1755.5" font-size="97" font-weight="bold" >e</text>
<line x1="241.2" y1="2521.6" x2="1057.9" y2="2521.6" stroke="#000" stroke-width="4" stroke-linecap="butt"/>
<line x1="261.2" y1="1711.6" x2="261.2" y2="2541.6" stroke="#000" stroke-width="4" stroke-linecap="butt"/>
<line x1="261.2" y1="2521.6" x2="261.2" y2="2541.6" stroke="#000" stroke-width="4" stroke-linecap="butt"/>
<text x="261.2" y="2589.5" font-size="48.5" text-anchor="middle" >0</text>
<line x1="393.6" y1="2521.6" x2="393.6" y2="2541.6" stroke="#000" stroke-width="4" stroke-linecap="butt"/>
<text x="393.6" y="2589.5" font-size="48.5" text-anchor="middle" >1</text>
<line x1="526.1" y1="2521.6" x2="526.1" y2="2541.6" stroke="#000" stroke-width="4" stroke-linecap="butt"/>
<text x="526.1" y="2589.5" font-size="48.5" text-anchor="middle" >2</text>
<line x1="658.5" y1="2521.6" x2="658.5" y2="2541.6" stroke="#000" stroke-width="4" stroke-linecap="butt"/>
<text x="658.5" y="2589.5" font-size="48.5" text-anchor="middle" >3</text>
<line x1="791.0" y1="2521.6" x2="791.0" y2="2541.6" stroke="#000" stroke-width="4" stroke-linecap="butt"/>
<text x="791.0" y="2589.5" font-size="48.5" text-anchor="middle" >4</text>
<line x1="923.5" y1="2521.6" x2="923.5" y2="2541.6" stroke="#000" stroke-width="4" stroke-linecap="butt"/>
<text x="923.5" y="2589.5" font-size="48.5" text-anchor="middle" >5</text>
<line x1="1055.9" y1="2521.6" x2="1055.9" y2="2541.6" stroke="#000" stroke-width="4" stroke-linecap="butt"/>
<text x="1055.9" y="2589.5" font-size="48.5" text-anchor="middle" >6</text>
<line x1="327.4" y1="2521.6" x2="327.4" y2="2532.6" stroke="#000" stroke-width="4" stroke-linecap="butt"/>
<line x1="459.9" y1="2521.6" x2="459.9" y2="2532.6" stroke="#000" stroke-width="4" stroke-linecap="butt"/>
<line x1="592.3" y1="2521.6" x2="592.3" y2="2532.6" stroke="#000" stroke-width="4" stroke-linecap="butt"/>
<line x1="724.8" y1="2521.6" x2="724.8" y2="2532.6" stroke="#000" stroke-width="4" stroke-linecap="butt"/>
<line x1="857.2" y1="2521.6" x2="857.2" y2="2532.6" stroke="#000" stroke-width="4" stroke-linecap="butt"/>
<line x1="989.7" y1="2521.6" x2="989.7" y2="2532.6" stroke="#000" stroke-width="4" stroke-linecap="butt"/>
<line x1="241.2" y1="2521.6" x2="261.2" y2="2521.6" stroke="#000" stroke-width="4" stroke-linecap="butt"/>
<text x="230.4" y="2536.3" font-size="48.5" text-anchor="end" >0</text>
<line x1="241.2" y1="2457.0" x2="261.2" y2="2457.0" stroke="#000" stroke-width="4" stroke-linecap="butt"/>
<text x="230.4" y="2471.7" font-size="48.5" text-anchor="end" >2</text>
<line x1="241.2" y1="2392.3" x2="261.2" y2="2392.3" stroke="#000" stroke-width="4" stroke-linecap="butt"/>
<text x="230.4" y="2407.0" font-size="48.5" text-anchor="end" >4</text>
<line x1="241.2" y1="2327.7" x2="261.2" y2="2327.7" stroke="#000" stroke-width="4" stroke-linecap="butt"/>
<text x="230.4" y="2342.4" font-size="48.5" text-anchor="end" >6</text>
<line x1="241.2" y1="2263.0" x2="261.2" y2="2263.0" stroke="#000" stroke-width="4" stroke-linecap="butt"/>
<text x="230.4" y="2277.7" font-size="48.5" text-anchor="end" >8</text>
<line x1="241.2" y1="2198.4" x2="261.2" y2="2198.4" stroke="#000" stroke-width="4" stroke-linecap="butt"/>
<text x="230.4" y="2213.1" font-size="48.5" text-anchor="end" >10</text>
<line x1="241.2" y1="2133.8" x2="261.2" y2="2133.8" stroke="#000" stroke-width="4" stroke-linecap="butt"/>
<text x="230.4" y="2148.5" font-size="48.5" text-anchor="end" >12</text>
<line x1="241.2" y1="2069.1" x2="261.2" y2="2069.1" stroke="#000" stroke-width="4" stroke-linecap="butt"/>
<text x="230.4" y="2083.8" font-size="48.5" text-anchor="end" >14</text>
<line x1="241.2" y1="2004.5" x2="261.2" y2="2004.5" stroke="#000" stroke-width="4" stroke-linecap="butt"/>
<text x="230.4" y="2019.2" font-size="48.5" text-anchor="end" >16</text>
<line x1="241.2" y1="1939.8" x2="261.2" y2="1939.8" stroke="#000" stroke-width="4" stroke-linecap="butt"/>
<text x="230.4" y="1954.5" font-size="48.5" text-anchor="end" >18</text>
<line x1="241.2" y1="1875.2" x2="261.2" y2="1875.2" stroke="#000" stroke-width="4" stroke-linecap="butt"/>
<text x="230.4" y="1889.9" font-size="48.5" text-anchor="end" >20</text>
<line x1="241.2" y1="1810.6" x2="261.2" y2="1810.6" stroke="#000" stroke-width="4" stroke-linecap="butt"/>
<text x="230.4" y="1825.3" font-size="48.5" text-anchor="end" >22</text>
<line x1="241.2" y1="1745.9" x2="261.2" y2="1745.9" stroke="#000" stroke-width="4" stroke-linecap="butt"/>
<text x="230.4" y="1760.6" font-size="48.5" text-anchor="end" >24</text>
<line x1="250.2" y1="2489.3" x2="261.2" y2="2489.3" stroke="#000" stroke-width="4" stroke-linecap="butt"/>
<line x1="250.2" y1="2424.6" x2="261.2" y2="2424.6" stroke="#000" stroke-width="4" stroke-linecap="butt"/>
<line x1="250.2" y1="2360.0" x2="261.2" y2="2360.0" stroke="#000" stroke-width="4" stroke-linecap="butt"/>
<line x1="250.2" y1="2295.4" x2="261.2" y2="2295.4" stroke="#000" stroke-width="4" stroke-linecap="butt"/>
<line x1="250.2" y1="2230.7" x2="261.2" y2="2230.7" stroke="#000" stroke-width="4" stroke-linecap="butt"/>
<line x1="250.2" y1="2166.1" x2="261.2" y2="2166.1" stroke="#000" stroke-width="4" stroke-linecap="butt"/>
<line x1="250.2" y1="2101.4" x2="261.2" y2="2101.4" stroke="#000" stroke-width="4" stroke-linecap="butt"/>
<line x1="250.2" y1="2036.8" x2="261.2" y2="2036.8" stroke="#000" stroke-width="4" stroke-linecap="butt"/>
<line x1="250.2" y1="1972.2" x2="261.2" y2="1972.2" stroke="#000" stroke-width="4" stroke-linecap="butt"/>
<line x1="250.2" y1="1907.5" x2="261.2" y2="1907.5" stroke="#000" stroke-width="4" stroke-linecap="butt"/>
<line x1="250.2" y1="1842.9" x2="261.2" y2="1842.9" stroke="#000" stroke-width="4" stroke-linecap="butt"/>
<line x1="250.2" y1="1778.2" x2="261.2" y2="1778.2" stroke="#000" stroke-width="4" stroke-linecap="butt"/>
<line x1="250.2" y1="1713.6" x2="261.2" y2="1713.6" stroke="#000" stroke-width="4" stroke-linecap="butt"/>
<text x="639.5" y="2674.6" font-size="57.2" text-anchor="middle" >Time/h</text>
<g transform="translate(123 2146.5) rotate(-90)"><text x="0" y="0" font-size="56.5" text-anchor="middle"><tspan font-style="italic">I</tspan><tspan font-size="37" dy="9.5">SC</tspan><tspan dy="-9.5">/µA</tspan></text></g>
<polyline points="267.7,2378.4 269.2,2382.6 270.6,2385.9 272.1,2389.1 274.3,2391.7 276.5,2395.5 278.5,2397.1 280.5,2398.4 282.4,2400.0 284.9,2401.4 287.3,2402.9 289.8,2405.2 292.0,2407.0 294.2,2407.7 296.4,2410.2 298.6,2410.9 302.3,2411.4 306.0,2411.6 309.0,2411.0 311.9,2408.7 315.1,2407.6 318.3,2406.0 321.7,2404.7 325.2,2404.7 328.0,2403.1 330.7,2400.8 333.5,2400.1 335.5,2397.3 337.5,2395.1 339.4,2394.0 341.4,2391.1 343.4,2390.3 345.3,2387.7 347.3,2386.0 349.3,2383.8 351.2,2382.2 353.2,2379.9 355.2,2377.9 357.1,2377.3 359.1,2374.7 361.0,2373.6 363.0,2371.1 365.2,2370.5 367.4,2368.8 369.6,2367.1 371.9,2365.5 374.5,2363.9 377.1,2362.8 379.7,2360.6 382.0,2359.8 384.3,2359.0 386.6,2356.8 389.5,2355.9 392.5,2353.9 397.4,2352.7 401.3,2355.6 402.8,2357.9 404.3,2360.0 405.3,2363.8 406.3,2366.0 406.6,2369.2 407.0,2372.5 407.4,2376.0 407.5,2378.9 407.6,2381.4 407.7,2384.2 407.7,2386.9 407.8,2389.8 408.0,2392.1 408.2,2394.8 408.4,2397.4 408.6,2399.9 408.8,2402.3 409.2,2405.3 409.6,2408.3 410.0,2411.5 410.4,2414.2 410.7,2417.0 411.0,2419.6 411.3,2422.2 411.7,2424.9 412.0,2428.5 412.3,2431.7 412.6,2434.8 413.3,2437.9 414.0,2440.8 414.6,2444.3 415.6,2447.0 416.6,2448.8 417.6,2452.3 418.5,2455.2 419.5,2457.6 420.5,2461.0 421.2,2462.9 422.0,2465.2 422.7,2467.4 423.5,2470.8 424.3,2472.7 425.1,2475.4 425.9,2479.3 426.6,2481.8 427.2,2483.9 427.9,2486.8 430.8,2488.5 434.8,2486.8 439.2,2488.0 441.6,2490.4 444.1,2492.2 446.2,2493.9 448.4,2496.2 450.5,2498.8 452.4,2500.7 454.4,2502.0 456.4,2503.4 458.3,2504.8 461.0,2507.4 463.6,2508.5 466.2,2510.4 468.8,2510.4 471.4,2511.6 474.1,2513.5 476.5,2514.0 479.0,2514.7 481.4,2514.8 483.9,2515.2 486.8,2515.8 489.8,2516.5 492.7,2516.2 495.7,2516.9 498.4,2516.8 501.2,2517.7 503.9,2516.9 506.7,2518.0 509.4,2518.7 512.1,2517.5 514.7,2518.4 517.3,2518.6 519.9,2519.0 522.5,2518.8 525.2,2518.5 527.8,2518.7 530.4,2519.5 533.0,2519.5 535.7,2518.5 538.3,2518.5 540.9,2518.5 543.5,2518.5 546.1,2519.1 548.8,2518.7 551.4,2519.8 554.0,2519.6 556.6,2518.9 559.2,2519.5 561.9,2519.2 564.5,2519.4 567.1,2519.1 569.7,2519.0 572.3,2519.1 575.0,2519.4 577.6,2519.9 580.2,2519.7 582.8,2519.0 585.4,2519.9 588.1,2520.2 590.7,2520.1 593.3,2520.1 595.9,2519.0 598.5,2519.7 601.2,2519.2 603.8,2520.2 606.4,2519.4 609.0,2520.1 611.6,2519.5 614.3,2520.1 616.9,2519.6 619.5,2519.3 622.1,2519.8 624.8,2519.7 627.4,2520.0" fill="none" stroke="#8c8c8c" stroke-width="7" stroke-linejoin="round" stroke-linecap="round" />
<polyline points="263.4,2519.6 275.9,2519.6 277.5,2223.6 278.7,2519.6 279.5,2306.1 279.5,2306.9 281.4,2307.1 283.4,2308.5 285.4,2311.7 287.3,2311.9 289.3,2313.4 291.8,2315.2 294.2,2315.7 296.7,2317.6 299.1,2317.5 301.6,2319.6 304.1,2319.6 306.5,2321.0 309.0,2322.6 311.4,2322.7 313.9,2323.7 316.3,2324.0 318.8,2323.5 321.2,2325.4 323.7,2325.5 326.2,2325.7 328.6,2326.1 331.1,2328.0 333.5,2328.5 336.0,2329.9 338.4,2330.6 340.9,2331.7 343.4,2332.0 345.8,2333.1 348.3,2333.8 350.7,2334.5 353.2,2336.8 355.6,2337.0 358.1,2339.0 360.6,2340.5 363.0,2341.3 365.5,2341.7 367.9,2344.0 370.1,2345.1 372.3,2345.6 374.5,2346.7 376.7,2348.8 378.8,2349.3 381.0,2352.0 383.2,2352.7 385.4,2354.0 387.6,2355.1 389.3,2357.5 391.1,2359.9 392.8,2360.9 394.6,2362.9 396.3,2365.2 398.1,2366.7 399.8,2369.2 401.6,2371.1 403.3,2372.9 405.0,2375.5 406.7,2377.5 408.4,2379.0 410.0,2382.7 411.7,2384.0 413.4,2386.3 415.1,2388.5 416.7,2392.0 418.2,2394.7 419.8,2396.6 419.8,2399.1 419.9,2401.6 419.9,2404.6 419.9,2406.9 419.9,2409.7 419.9,2412.2 420.0,2414.8 420.0,2417.4 420.0,2420.0 420.0,2422.5 420.1,2425.4 420.1,2428.1 420.1,2430.7 420.1,2433.1 420.1,2436.0 420.2,2438.3 420.2,2441.1 420.2,2443.9 420.3,2441.3 420.3,2438.5 420.4,2436.0 420.5,2433.2 420.5,2430.6 420.6,2428.0 420.7,2425.6 420.7,2422.9 420.8,2420.1 420.9,2417.6 420.9,2415.0 421.0,2412.0 421.7,2415.2 422.5,2417.7 423.2,2419.8 423.9,2422.8 424.7,2423.8 425.4,2427.0 426.2,2429.7 426.9,2431.7 428.1,2433.9 429.4,2437.1 430.6,2439.2 431.8,2441.4 433.0,2443.5 434.3,2447.4 435.5,2448.9 436.7,2451.0 438.7,2453.1 440.7,2455.1 442.6,2458.1 444.6,2458.9 446.5,2461.1 448.5,2462.7 450.5,2465.3 453.1,2465.4 455.7,2466.1 458.3,2467.3 461.0,2468.1 463.6,2468.5 466.2,2467.7 469.0,2468.1 471.7,2468.6 474.5,2467.0 477.2,2467.1 480.0,2467.3 480.2,2464.6 480.5,2462.2 480.7,2459.8 483.2,2459.0 485.7,2458.3 488.2,2457.8 490.7,2457.5 493.1,2456.8 495.6,2457.4 498.1,2456.1 500.6,2456.9 503.0,2456.1 505.5,2454.8 508.0,2455.0 510.5,2454.6 513.0,2453.2 515.5,2453.3 518.0,2452.1 520.5,2452.7 523.0,2451.0 525.5,2451.4 528.0,2451.5 530.5,2450.7 533.0,2449.2 535.5,2449.3 538.0,2448.3 540.5,2448.3 543.0,2448.8 545.5,2448.3 548.0,2446.7 550.5,2446.9 553.0,2447.0 555.5,2445.9 558.0,2446.5 560.5,2446.3 563.2,2445.0 565.8,2444.0 568.4,2444.0 571.0,2442.7 573.7,2441.5 576.3,2440.9 578.9,2439.9 581.5,2440.3 584.1,2439.0 586.8,2439.2 589.4,2439.3 592.0,2439.5 594.6,2438.1 597.2,2438.4 599.9,2439.0 602.5,2438.7 605.1,2438.0 607.7,2438.4 610.3,2437.5 613.0,2437.4 615.6,2437.1 618.1,2438.4 620.6,2438.9 623.2,2440.0 625.7,2441.5 628.2,2440.9 630.7,2442.3 633.3,2443.5 635.2,2444.8 637.2,2446.4 639.2,2448.6 641.1,2449.1 643.1,2451.8 643.6,2454.1 644.1,2456.6 644.6,2459.1 645.1,2461.2 645.6,2463.7 646.0,2466.2 646.5,2468.8 647.0,2471.9 649.3,2473.0 651.5,2473.3 653.8,2474.8 656.0,2476.1 658.3,2476.6 660.5,2478.7 662.8,2479.8 664.9,2481.0 667.1,2482.8 669.3,2484.2 671.5,2485.5 673.7,2486.5 675.9,2487.9 678.0,2489.4 680.2,2490.6 682.4,2493.5 684.4,2494.1 686.3,2495.2 688.3,2497.3 690.3,2498.5 692.2,2500.6 694.2,2502.0 696.2,2503.3 698.1,2505.4 700.1,2506.9 702.1,2508.3 704.5,2509.8 707.0,2509.7 709.4,2510.9 711.9,2512.1 714.3,2513.0 716.8,2512.8 719.3,2513.0 721.7,2515.2 724.2,2514.8 726.7,2514.6 729.2,2514.7 731.7,2515.2 734.2,2515.6 736.7,2515.6 739.2,2515.8 741.7,2517.6 744.2,2517.6 746.7,2516.7 749.2,2517.6 751.9,2518.6 754.5,2518.7 757.1,2518.5 759.6,2518.9 762.1,2519.0 764.6,2519.9 767.1,2519.3 769.6,2519.1 772.2,2519.4 774.7,2518.5 777.2,2519.5 779.7,2519.7 782.2,2519.5 784.7,2519.0 787.2,2518.9 789.7,2518.4 792.2,2518.5 794.8,2518.6 797.3,2519.1 799.8,2519.6 802.3,2518.7 804.8,2519.2 807.3,2519.4 809.8,2519.4 812.3,2518.4 814.8,2519.9 817.3,2519.3 819.9,2518.9 822.4,2518.8 824.9,2519.5 827.4,2519.9 829.9,2518.9 832.4,2519.0 834.9,2519.3 837.4,2518.7 839.9,2519.0 842.5,2519.9 845.0,2519.3 847.5,2519.7 850.0,2518.8 852.5,2519.8 855.0,2519.6 857.5,2518.8 860.0,2519.2 862.5,2519.5 865.0,2519.3 867.6,2519.4 870.1,2518.8 872.6,2519.3 875.1,2519.0 877.6,2519.7 880.1,2519.0 882.6,2520.0 885.1,2519.3 887.6,2518.8 890.2,2519.1 892.7,2518.6 895.2,2519.6 897.7,2518.5 900.2,2519.4 902.7,2518.9 905.2,2519.6 907.7,2518.6 910.2,2519.5 912.7,2519.5 915.3,2518.8 917.8,2518.6 920.3,2519.0 922.8,2519.4 925.3,2518.8 927.8,2518.4 930.3,2519.1 932.8,2519.7 935.3,2518.6 937.9,2519.9 940.4,2519.2 942.9,2518.7 945.4,2518.6 947.9,2519.0 950.4,2519.2 952.9,2518.7 955.4,2518.5 957.9,2519.2 960.4,2518.8 963.0,2519.1 965.5,2519.1 968.0,2519.5 970.5,2519.3 973.0,2518.8 975.5,2518.7 978.0,2519.8 980.5,2518.5 983.0,2518.6 985.6,2518.5 988.1,2519.7 990.6,2519.3 993.1,2519.9 995.6,2519.4 998.1,2518.9 1000.6,2519.1 1003.1,2519.6 1005.6,2518.8 1008.1,2519.7 1010.7,2519.0 1013.2,2518.5 1015.7,2518.9 1018.2,2519.3 1020.7,2518.6 1023.2,2519.8 1025.7,2519.9 1028.2,2519.2 1030.7,2519.8 1033.3,2519.5 1035.8,2519.3 1038.3,2518.6 1040.8,2519.9 1043.3,2519.9 1045.8,2519.1 1048.3,2519.0 1050.8,2518.5 1053.3,2519.4 1055.8,2519.2" fill="none" stroke="#e3c5e3" stroke-width="7" stroke-linejoin="round" stroke-linecap="round" />
<polyline points="263.4,2519.9 263.4,2517.4 263.4,2514.8 263.4,2511.7 263.4,2509.5 263.4,2506.8 263.4,2504.4 263.5,2501.6 263.5,2499.1 263.5,2496.7 263.5,2494.0 263.5,2491.7 263.5,2488.8 263.5,2486.3 263.5,2484.2 263.5,2481.5 263.6,2479.0 263.6,2476.6 263.6,2473.8 263.6,2471.1 263.6,2469.1 263.6,2466.4 263.6,2463.9 263.6,2461.3 263.7,2459.0 263.7,2456.1 263.7,2453.8 263.7,2451.0 263.7,2448.6 263.7,2446.1 263.7,2443.4 263.7,2440.7 263.8,2438.4 263.8,2436.0 263.8,2433.4 263.8,2430.8 263.8,2428.4 263.8,2425.5 263.8,2423.0 263.8,2420.5 263.9,2418.3 263.9,2415.4 263.9,2412.8 263.9,2410.2 263.9,2407.6 263.9,2405.3 263.9,2403.0 263.9,2400.6 264.0,2397.7 264.0,2395.2 264.0,2392.6 264.0,2390.1 264.0,2387.9 264.0,2385.2 264.0,2382.4 264.0,2379.8 264.1,2377.7 264.1,2375.1 264.1,2372.7 264.1,2369.7 264.1,2367.4 264.1,2365.2 264.1,2362.4 264.1,2360.1 264.2,2357.0 264.2,2355.1 264.2,2351.9 264.2,2349.6 264.2,2346.8 264.2,2344.8 264.2,2342.2 264.2,2339.9 264.2,2337.2 264.2,2334.8 264.2,2332.0 264.2,2329.8 264.2,2327.1 264.2,2324.3 264.2,2322.2 264.3,2319.2 264.3,2316.6 264.3,2313.9 264.3,2311.7 264.3,2309.0 264.3,2307.0 264.3,2304.5 264.3,2301.4 264.3,2298.8 264.3,2296.6 264.3,2293.8 264.3,2291.5 264.3,2289.2 264.3,2286.3 264.4,2283.8 264.4,2281.7 264.4,2278.8 264.4,2276.2 264.4,2274.1 264.4,2271.5 264.4,2269.0 264.4,2266.3 264.4,2263.6 264.4,2261.3 264.4,2258.9 264.4,2256.2 264.4,2253.4 264.4,2250.9 264.4,2248.4 264.5,2246.2 264.5,2243.5 264.5,2240.9 264.5,2238.6 264.5,2235.6 264.5,2233.4 264.5,2230.7 264.5,2228.3 264.5,2226.0 264.5,2223.0 264.5,2221.0 264.5,2217.9 264.5,2215.7 264.5,2213.1 264.6,2210.3 264.6,2208.0 264.6,2205.4 264.6,2202.8 264.6,2200.4 264.6,2197.4 264.7,2195.1 264.7,2192.8 264.7,2189.8 264.7,2187.7 264.7,2184.7 264.7,2182.5 264.8,2179.5 264.8,2177.2 264.8,2174.6 264.8,2171.8 264.8,2169.7 264.9,2166.9 264.9,2164.5 264.9,2161.9 264.9,2159.3 264.9,2156.7 264.9,2154.0 265.2,2151.8 265.5,2148.6 265.9,2146.5 266.2,2143.9 266.5,2141.0 266.8,2138.6 267.1,2135.9 267.4,2133.2 267.7,2130.0 269.7,2128.1 271.6,2126.3 273.6,2124.2 275.1,2128.2 276.5,2129.2 278.0,2131.8 279.5,2134.3 280.5,2137.8 281.4,2139.5 282.4,2142.3 283.4,2144.1 284.4,2146.7 285.4,2148.8 286.4,2151.7 287.3,2154.4 288.3,2158.3 289.3,2160.0 291.0,2161.3 292.7,2164.4 294.4,2165.9 296.0,2169.2 297.7,2171.1 299.4,2174.4 301.1,2175.2 302.6,2178.8 304.2,2179.5 305.7,2183.5 307.2,2184.8 308.7,2185.6 310.3,2189.6 311.8,2190.5 313.3,2192.9 314.9,2194.6 316.4,2198.4 317.9,2198.8 319.4,2202.5 321.0,2203.9 322.5,2206.8 324.0,2208.0 325.6,2209.7 327.1,2213.9 328.6,2215.4 330.4,2216.2 332.1,2220.1 333.9,2221.9 335.6,2222.2 337.4,2223.7 339.1,2227.1 340.8,2228.0 342.6,2231.3 344.3,2232.7 342.4,2231.4 340.4,2229.2 338.4,2227.8 336.5,2226.1 334.5,2223.7 332.6,2221.8 334.1,2223.4 335.7,2225.1 337.3,2227.1 338.8,2231.1 340.4,2231.7 342.0,2234.4 343.6,2236.3 345.1,2239.2 346.7,2241.2 348.3,2244.1 350.6,2244.7 353.0,2246.1 355.4,2248.3 357.7,2250.1 360.1,2252.1 361.8,2252.6 363.4,2256.0 365.1,2258.2 366.8,2260.1 368.5,2260.0 370.2,2262.6 371.9,2265.5 373.3,2267.9 374.8,2268.2 376.3,2271.2 377.8,2274.2 379.2,2276.5 380.7,2278.2 382.2,2279.6 383.7,2282.3 385.0,2283.7 386.3,2286.5 387.6,2288.9 388.9,2292.1 390.2,2293.7 391.5,2295.4 392.8,2297.2 394.1,2299.6 395.4,2302.6 397.4,2304.0 399.4,2305.4 401.3,2308.9 403.3,2310.2 405.3,2313.2 407.7,2310.6 410.2,2309.4 412.6,2307.4 415.1,2306.4 416.6,2304.9 418.0,2302.9 419.5,2299.9 421.0,2297.1 422.5,2294.0 423.9,2293.7 425.4,2290.4 426.9,2288.2 428.3,2285.1 429.7,2282.8 431.1,2281.4 432.5,2280.6 433.9,2277.8 435.3,2275.5 436.7,2273.1 438.4,2269.6 440.1,2266.7 441.8,2264.9 441.8,2267.1 441.9,2270.0 441.9,2272.5 441.9,2275.0 441.9,2277.2 441.9,2279.7 441.9,2282.5 441.9,2284.8 441.9,2287.7 441.9,2290.0 441.9,2292.7 441.9,2295.4 442.0,2297.8 442.0,2300.3 442.0,2302.5 442.0,2305.2 442.0,2308.2 442.0,2310.2 442.0,2312.7 442.0,2315.4 442.0,2318.0 442.0,2320.7 442.0,2322.8 442.1,2325.8 442.1,2327.7 442.1,2330.8 442.1,2333.1 442.1,2335.9 442.1,2337.9 442.1,2340.8 442.1,2343.5 442.1,2345.8 442.1,2348.0 442.1,2351.1 442.2,2353.6 442.2,2355.6 442.2,2358.6 442.2,2360.6 442.2,2363.1 442.2,2366.2 442.2,2368.6 442.2,2371.3 442.2,2368.5 442.3,2365.9 442.3,2363.2 442.3,2360.9 442.3,2358.6 442.3,2355.8 442.3,2353.4 442.3,2350.4 442.4,2348.2 442.4,2345.7 442.4,2342.7 442.4,2340.7 442.4,2337.6 442.4,2335.1 442.4,2332.5 442.5,2330.3 442.5,2327.4 442.5,2325.5 442.5,2322.2 442.5,2320.3 442.5,2317.7 442.5,2315.0 442.6,2312.4 442.6,2310.1 442.6,2307.4 442.6,2304.5 442.6,2302.9 443.9,2304.1 445.2,2307.0 446.5,2309.1 447.9,2312.3 449.2,2313.5 450.5,2316.8 452.2,2316.9 453.8,2319.5 455.5,2322.3 457.2,2324.1 458.9,2326.6 460.6,2327.1 462.3,2330.5 464.0,2332.7 465.6,2333.4 467.3,2335.6 469.0,2338.9 470.7,2342.1 472.4,2343.5 474.1,2345.3 475.8,2347.4 477.6,2350.1 479.3,2351.4 481.1,2353.4 482.8,2355.5 484.5,2358.3 486.3,2359.9 488.0,2362.0 489.8,2362.6 492.0,2364.7 494.2,2366.5 496.3,2367.6 498.5,2369.5 500.7,2370.7 502.9,2370.1 505.1,2372.3 507.3,2373.3 509.4,2374.2 512.1,2375.6 514.7,2377.4 517.3,2377.5 519.9,2376.6 522.5,2377.6 525.2,2378.5 527.8,2380.4 530.4,2380.1 533.0,2380.0 535.7,2381.2 538.3,2380.7 540.9,2380.5 543.5,2382.1 546.1,2383.3 548.8,2383.1 551.4,2383.2 554.0,2382.1 556.6,2383.3 559.2,2383.8 561.9,2384.3 564.5,2383.8 567.1,2382.9 569.7,2385.0 572.3,2383.4 575.0,2384.5 577.6,2383.9 580.2,2384.6 582.8,2383.6 585.4,2383.0 588.1,2383.8 590.7,2383.9 593.3,2384.7 595.9,2383.7 598.5,2384.2 601.2,2383.4 603.8,2384.1 606.4,2382.7 609.0,2384.2 611.6,2384.2 614.3,2381.9 616.9,2383.8 619.5,2383.5 622.1,2382.4 624.8,2380.1 627.4,2380.7 630.0,2379.9 632.6,2378.7 635.2,2378.7 637.9,2377.7 640.5,2376.1 643.1,2375.9 645.7,2373.1 648.3,2372.5 651.0,2372.1 653.6,2371.1 656.2,2371.1 658.8,2369.4 661.1,2368.0 663.4,2366.7 665.7,2366.2 668.0,2363.6 670.3,2363.1 672.6,2361.2 672.6,2363.7 672.6,2366.2 672.6,2368.7 672.7,2371.2 672.7,2374.0 672.7,2376.5 672.7,2379.0 672.7,2381.8 672.8,2384.3 672.8,2387.3 672.8,2389.8 672.8,2392.3 672.8,2395.0 672.9,2397.2 672.9,2399.7 672.9,2402.6 672.9,2404.9 673.0,2408.1 673.0,2410.3 673.0,2407.9 673.1,2404.8 673.2,2402.0 673.3,2399.7 673.3,2397.0 673.4,2394.1 673.5,2391.9 673.5,2389.2 673.6,2386.3 673.7,2383.9 673.8,2382.0 675.9,2378.3 678.0,2378.1 680.0,2376.5 682.1,2374.8 684.2,2372.3 686.3,2371.1 688.6,2369.9 690.8,2369.3 693.1,2366.0 695.3,2365.5 697.6,2364.1 699.8,2363.9 702.1,2361.0 704.5,2360.3 707.0,2359.9 709.4,2359.3 711.9,2359.4 714.3,2359.9 716.8,2358.1 719.3,2356.9 721.7,2357.6 724.2,2355.9 726.6,2355.4 729.1,2354.9 731.5,2353.2 734.0,2352.9 736.5,2351.6 738.9,2351.2 741.4,2350.0 744.2,2350.2 747.0,2349.7 749.8,2348.5 752.6,2348.9 755.4,2349.5 758.2,2349.4 761.0,2349.1 763.6,2349.9 766.3,2350.3 768.9,2350.1 771.5,2350.8 774.1,2349.8 776.8,2351.3 779.4,2352.4 782.0,2353.4 784.6,2353.8 787.2,2353.3 789.9,2353.3 792.5,2355.4 795.1,2353.2 797.7,2350.3 800.3,2348.3 803.6,2350.0 806.9,2349.0 810.2,2347.7 811.7,2352.3 813.3,2353.8 814.9,2356.8 816.5,2359.4 818.0,2361.0 818.5,2363.8 818.9,2366.2 819.3,2369.1 819.8,2371.6 820.2,2374.5 820.6,2376.6 821.1,2379.3 821.5,2382.1 822.0,2384.4 822.2,2387.5 822.5,2390.7 822.8,2393.4 823.1,2395.8 823.4,2399.0 823.6,2401.4 823.9,2403.8 825.6,2406.7 827.3,2407.8 829.0,2409.6 830.7,2411.3 832.3,2413.5 834.0,2415.5 835.7,2419.2 838.1,2418.9 840.4,2421.9 842.8,2422.9 845.1,2425.9 847.5,2426.0 850.2,2427.0 852.9,2428.0 855.6,2426.4 858.3,2427.4 861.0,2427.3 863.7,2427.8 866.4,2428.2 869.1,2427.0 870.5,2431.1 871.9,2431.9 873.3,2435.4 874.7,2436.1 876.1,2438.3 877.6,2440.7 879.0,2442.7 880.9,2445.1 882.9,2446.8 884.9,2448.6 886.8,2452.4 888.8,2453.6 890.7,2455.5 892.7,2457.5 894.7,2460.2 896.4,2460.3 898.2,2462.3 899.9,2465.7 901.7,2466.1 903.4,2469.3 905.2,2471.5 906.9,2474.0 908.7,2474.0 910.4,2476.9 912.4,2478.4 914.3,2480.8 916.3,2481.2 918.3,2484.6 920.2,2486.8 922.2,2487.6 924.2,2489.6 926.1,2491.7 928.5,2492.8 930.8,2493.9 933.2,2494.2 935.6,2494.3 937.9,2497.1 940.3,2498.3 942.6,2499.1 945.0,2499.3 947.4,2501.9 949.7,2502.2 952.2,2502.3 954.7,2504.4 957.2,2503.9 959.7,2504.8 962.2,2507.3 964.7,2506.2 967.2,2509.0 969.7,2508.8 972.2,2510.1 974.7,2511.3 977.2,2512.7 979.7,2511.6 982.2,2511.8 984.7,2513.4 987.2,2513.2 989.7,2514.2 992.2,2514.0 994.7,2514.5 997.2,2516.2 999.7,2515.5 1002.2,2516.5 1004.7,2517.4 1007.4,2516.8 1010.0,2518.7 1012.6,2519.1 1015.2,2517.2 1017.8,2519.2 1020.5,2517.8 1023.1,2519.3 1025.7,2517.9 1028.3,2519.7 1031.0,2520.3 1033.6,2518.8 1036.2,2518.8 1039.0,2519.2 1041.8,2520.5 1044.6,2520.3 1047.4,2518.8 1050.2,2520.6 1053.0,2520.2 1055.8,2519.6" fill="none" stroke="#c999c9" stroke-width="7" stroke-linejoin="round" stroke-linecap="round" />
<polyline points="262.6,2447.7 262.6,2445.0 262.7,2442.2 262.7,2439.7 262.8,2436.8 262.8,2434.2 262.9,2431.3 262.9,2428.8 263.0,2425.9 263.0,2423.4 263.1,2420.7 263.1,2418.0 263.2,2415.2 263.2,2412.7 263.3,2410.1 263.3,2407.3 263.4,2404.8 263.4,2402.4 263.5,2399.7 263.5,2397.0 263.5,2394.4 263.6,2392.0 263.6,2389.2 263.7,2386.7 263.7,2384.2 263.8,2381.4 263.8,2378.9 263.9,2376.3 263.9,2373.7 264.0,2371.1 264.0,2368.6 264.1,2366.0 264.1,2363.3 264.2,2360.8 264.2,2358.0 264.3,2355.5 264.3,2353.0 264.3,2350.4 264.4,2347.8 264.5,2345.3 264.5,2342.6 264.6,2339.9 264.6,2337.4 264.7,2334.8 264.7,2332.0 264.8,2329.5 264.8,2326.8 264.9,2324.2 264.9,2321.7 265.0,2319.1 265.0,2316.6 265.1,2313.8 265.1,2311.3 265.2,2308.8 265.2,2306.1 265.3,2303.5 265.3,2300.8 265.4,2298.3 265.4,2295.6 265.5,2293.1 265.5,2290.4 265.6,2287.9 265.6,2285.5 265.7,2282.9 265.7,2280.4 265.8,2278.0 265.8,2275.3 265.9,2272.8 266.0,2270.4 266.0,2267.9 266.1,2265.5 266.1,2262.8 266.2,2260.4 266.2,2257.8 266.3,2255.4 266.3,2252.8 266.4,2250.4 266.4,2247.9 266.5,2245.3 266.5,2243.0 266.6,2240.4 266.7,2238.0 266.7,2235.4 266.8,2232.8 266.9,2230.2 267.0,2227.6 267.0,2225.0 267.1,2222.5 267.2,2219.9 267.3,2217.3 267.4,2214.9 267.5,2212.3 267.5,2209.7 267.6,2206.9 267.7,2204.4 267.8,2201.9 267.9,2199.4 268.1,2196.5 268.3,2193.7 268.5,2190.9 268.7,2187.9 268.9,2185.1 269.1,2182.4 269.2,2179.7 269.4,2177.2 269.5,2174.6 269.6,2171.9 269.8,2169.5 269.9,2166.8 270.1,2164.4 270.2,2161.9 270.4,2159.3 270.5,2156.8 270.6,2154.1 270.8,2151.5 270.9,2148.8 271.0,2146.2 271.2,2143.7 271.3,2140.9 271.4,2138.5 271.6,2135.8 271.7,2133.2 271.8,2130.4 271.9,2128.0 272.1,2125.4 272.2,2122.6 272.3,2120.0 272.5,2117.4 272.6,2114.8 272.8,2112.1 272.9,2109.7 273.1,2107.0 273.3,2104.4 273.4,2101.7 273.6,2099.1 273.7,2096.5 273.9,2093.9 274.1,2091.2 274.2,2088.7 274.4,2086.1 274.6,2083.5 274.7,2080.7 274.9,2078.1 275.1,2075.4 275.3,2072.8 275.5,2070.4 275.6,2067.6 275.8,2065.1 276.0,2062.3 276.2,2059.8 276.4,2057.1 276.6,2054.5 276.8,2052.0 277.0,2049.3 277.2,2046.8 277.4,2044.0 277.6,2041.4 277.8,2038.7 278.0,2036.1 278.2,2033.8 278.5,2031.2 278.7,2028.7 278.9,2026.2 279.1,2023.8 279.4,2021.3 279.6,2018.7 279.8,2016.1 280.0,2013.7 280.3,2011.3 280.5,2008.8 280.7,2006.2 281.0,2003.7 281.3,2001.2 281.5,1998.7 281.8,1996.2 282.1,1993.5 282.4,1991.0 282.7,1988.4 283.0,1986.0 283.3,1983.3 283.6,1980.9 283.9,1978.2 284.3,1975.6 284.8,1972.8 285.2,1970.2 285.6,1967.4 286.1,1964.6 286.5,1962.1 286.9,1959.4 287.3,1956.6 287.9,1954.0 288.5,1951.4 289.0,1949.0 289.6,1946.6 290.2,1943.9 290.7,1941.4 291.3,1939.0 292.1,1936.0 292.8,1933.3 293.6,1931.0 294.4,1928.7 295.2,1925.9 296.5,1922.5 297.8,1920.0 299.1,1917.1 300.4,1914.7 301.8,1912.4 303.1,1910.2 305.0,1908.6 307.0,1906.6 308.5,1903.8 309.9,1901.3 311.4,1898.8 312.6,1896.7 313.9,1894.0 315.1,1891.0 316.3,1888.4 318.5,1886.0 320.8,1883.1 324.7,1884.4 328.6,1881.9 330.6,1879.3 332.6,1875.7 337.0,1874.3 339.4,1874.7 341.9,1876.1 344.3,1875.3 346.8,1873.7 348.4,1872.1 350.1,1869.7 351.7,1868.2 354.2,1865.9 356.6,1864.1 359.1,1862.2 361.5,1861.1 364.2,1860.7 366.9,1860.6 369.9,1861.2 372.8,1861.9 376.0,1862.7 379.2,1862.6 382.7,1862.8 386.1,1862.1 389.3,1863.4 392.5,1864.5 395.4,1867.0 398.4,1868.6 400.0,1870.8 401.7,1873.2 403.3,1875.9 404.6,1878.3 405.9,1881.4 407.2,1884.3 408.3,1886.6 409.5,1889.6 410.6,1892.0 411.7,1894.7 412.6,1897.2 413.6,1899.5 414.6,1901.6 415.6,1904.2 416.6,1906.5 417.9,1909.0 419.3,1910.8 420.6,1913.3 422.0,1916.0 423.9,1918.2 425.9,1920.4 427.9,1922.7 429.6,1925.0 431.3,1927.3 433.0,1929.6 434.8,1931.8 436.3,1934.0 437.9,1935.9 439.5,1937.8 441.0,1940.1 442.6,1942.6 444.6,1944.8 446.5,1946.9 448.5,1948.7 450.5,1950.9 452.4,1953.0 454.4,1954.6 456.4,1956.1 458.3,1958.5 460.1,1959.7 461.8,1962.1 463.5,1963.7 465.2,1965.8 467.2,1968.3 469.2,1970.4 471.1,1973.1 473.6,1975.8 476.0,1977.7 480.0,1978.7 482.4,1979.8 484.9,1980.6 487.8,1981.9 490.8,1983.1 493.7,1984.3 496.7,1986.2 499.6,1987.4 502.6,1989.5 505.5,1990.6 508.5,1991.2 511.4,1991.6 514.4,1992.8 517.3,1993.4 520.3,1994.8 523.2,1996.3 526.2,1998.0 528.9,1998.8 531.6,1999.4 536.5,1999.4 538.9,1998.9 541.4,1998.4 543.8,1997.2 546.3,1996.7 550.7,1997.9 552.7,2000.7 554.7,2003.0 557.6,2004.9 560.5,2006.8 563.2,2007.8 565.8,2008.9 568.4,2009.8 570.7,2010.8 573.0,2012.5 575.3,2013.9 578.2,2015.6 581.2,2016.8 583.0,2018.7 584.8,2020.9 586.6,2022.3 588.2,2025.3 589.9,2027.8 591.5,2030.3 594.0,2032.8 596.4,2035.2 598.9,2036.5 601.3,2037.9 604.0,2039.9 606.7,2041.3 609.7,2042.3 612.6,2044.6 615.6,2046.0 618.5,2048.4 621.5,2050.9 624.4,2053.1 627.4,2054.8 630.3,2056.6 633.3,2057.5 636.2,2058.2 639.2,2060.1 642.1,2062.1 645.1,2064.2 648.0,2066.6 650.0,2067.6 651.9,2069.9 653.9,2071.3 655.9,2073.1 657.8,2074.6 659.8,2076.6 661.9,2078.4 664.1,2080.4 666.2,2082.0 668.5,2083.7 670.8,2085.3 673.1,2086.7 677.2,2086.3 677.9,2083.5 678.6,2080.6 680.0,2083.9 680.4,2086.5 680.7,2089.1 681.0,2091.6 681.3,2094.2 681.6,2096.6 681.9,2099.4 682.2,2102.1 682.5,2104.7 682.8,2107.4 683.1,2110.0 683.4,2113.0 683.7,2115.8 684.0,2118.4 684.2,2121.4 684.5,2124.0 684.8,2126.9 685.1,2129.8 685.4,2132.5 685.8,2135.3 686.2,2138.2 686.7,2140.9 687.1,2144.0 687.5,2146.8 688.3,2149.8 689.1,2152.8 689.9,2155.3 692.3,2152.8 692.8,2149.8 693.4,2146.9 693.9,2143.7 694.4,2140.8 694.9,2138.1 697.4,2138.5 697.9,2141.0 698.3,2143.6 698.7,2146.3 699.1,2148.8 699.6,2151.5 700.0,2154.2 700.6,2157.1 701.2,2160.0 701.8,2163.1 702.5,2166.2 703.2,2168.5 704.0,2170.8 704.8,2173.9 707.5,2172.7 708.2,2170.1 708.9,2168.2 709.7,2165.4 710.4,2162.7 711.6,2159.6 712.9,2157.0 714.8,2153.5 716.1,2157.1 717.3,2160.5 717.8,2163.2 718.3,2166.0 718.8,2168.8 719.3,2171.6 719.8,2174.4 720.2,2177.3 720.9,2180.3 721.5,2183.2 722.1,2186.0 722.7,2189.1 723.7,2192.2 724.7,2195.7 727.1,2195.8 728.6,2192.4 730.1,2189.3 732.5,2185.0 734.5,2183.8 735.6,2186.6 736.8,2189.0 737.4,2191.8 738.0,2194.3 738.7,2197.0 739.3,2199.7 739.8,2202.5 740.3,2205.2 740.8,2207.8 741.0,2210.5 741.2,2213.2 741.3,2215.7 741.5,2218.4 741.6,2221.0 741.7,2223.7 741.9,2226.3 742.0,2228.9 742.2,2231.4 742.3,2234.0 742.4,2236.6 742.6,2239.2 742.7,2242.0 742.8,2244.5 742.9,2247.1 743.1,2249.8 743.2,2252.3 743.3,2255.1 743.5,2257.8 743.6,2260.2 743.7,2262.8 743.8,2265.3 743.9,2267.9 744.0,2270.5 744.1,2273.1 744.2,2275.5 744.3,2278.0 744.4,2280.4 744.5,2283.1 744.6,2285.4 744.7,2288.0 744.7,2290.7 744.8,2293.2 744.9,2295.6 745.0,2298.3 745.1,2300.7 745.2,2303.2 745.3,2305.7 745.3,2308.4 745.4,2310.8 745.5,2313.6 745.6,2316.0 745.6,2318.8 745.7,2321.3 745.8,2323.9 745.9,2326.4 745.9,2329.1 746.0,2331.5 746.1,2334.1 746.1,2336.7 746.2,2339.4 746.3,2341.9 746.4,2344.4 746.4,2347.2 746.5,2349.7 746.6,2352.3 746.7,2355.0 746.7,2357.5 746.8,2360.2 746.9,2362.8 746.9,2365.2 747.0,2367.8 747.1,2370.3 747.2,2373.0 747.2,2375.6 747.3,2378.3 747.4,2380.8 747.4,2383.4 747.5,2385.9 747.6,2388.6 747.7,2391.1 747.7,2393.8 747.8,2396.2 747.9,2399.0 748.0,2401.4 748.0,2404.0 748.1,2406.7 748.2,2409.3 748.2,2411.8 748.3,2414.4 748.4,2417.0 748.5,2419.5 748.5,2422.2 748.6,2424.7 748.7,2427.3 748.8,2429.9 748.8,2432.4 748.9,2435.2 749.0,2437.7 749.0,2440.2 749.1,2442.8 749.2,2445.4 749.3,2448.0 749.3,2450.6 749.4,2453.2 749.5,2455.7 749.6,2458.1 749.7,2460.6 749.8,2463.3 749.9,2465.8 750.0,2468.2 750.1,2470.9 750.2,2473.3 750.2,2475.8 750.3,2478.4 750.4,2480.9 750.5,2483.5 750.6,2485.9 750.8,2488.7 750.9,2491.4 751.1,2494.1 751.2,2496.7 751.3,2499.4 751.5,2502.1 751.6,2504.8 751.8,2507.7 752.2,2510.3 752.7,2513.3 753.1,2516.2 753.6,2518.9 755.9,2519.6 758.1,2518.0 759.1,2515.8 760.0,2513.0 760.7,2509.9 761.4,2506.7 762.0,2503.6 762.4,2500.9 762.8,2498.2 763.2,2495.5 763.6,2492.6 764.0,2489.8 764.3,2487.3 764.6,2484.9 764.9,2482.4 765.2,2479.8 765.5,2477.3 765.8,2474.7 766.1,2472.1 766.4,2469.6 766.7,2466.8 767.0,2464.0 767.3,2461.3 767.6,2458.6 767.9,2456.1 768.2,2453.3 768.5,2450.5 768.9,2448.0 769.2,2445.4 769.6,2442.8 769.9,2440.1 770.3,2437.6 770.7,2434.9 771.1,2432.4 771.6,2430.1 772.1,2427.4 772.6,2424.9 773.5,2422.6 774.4,2420.0 776.0,2419.6 777.7,2422.7 778.4,2425.6 779.0,2428.2 779.7,2430.1 781.7,2432.7 783.6,2434.4 786.6,2435.2 789.5,2436.3 792.8,2437.2 796.1,2437.4 799.4,2437.7 802.1,2438.0 804.9,2439.0 807.6,2439.1 810.4,2439.7 813.1,2439.5 815.9,2440.1 818.6,2439.9 821.4,2440.1 824.1,2440.6 826.9,2440.7 829.6,2441.2 832.4,2441.0 835.1,2441.1 837.9,2441.6 840.6,2441.8 843.2,2441.6 845.7,2442.0 848.3,2441.6 850.8,2441.9 853.4,2442.5 856.4,2442.5 859.3,2442.4 862.2,2442.8 865.2,2443.5 868.1,2443.1 871.1,2443.5 874.0,2443.5 877.0,2443.1 879.9,2443.0 882.9,2442.2 885.8,2442.2 888.8,2441.3 891.5,2441.5 894.2,2440.9 896.9,2440.9 899.6,2441.2 902.9,2440.9 906.1,2440.4 909.4,2440.9 912.7,2440.5 916.0,2440.2 919.2,2439.3 921.7,2438.5 924.2,2438.4 926.6,2437.7 929.1,2436.7 931.5,2436.2 934.0,2435.5 936.4,2434.8 938.9,2433.8 941.4,2432.5 943.8,2431.2 946.3,2430.1 948.7,2429.1 951.7,2427.8 954.6,2426.3 957.6,2425.3 960.2,2423.4 962.8,2422.2 965.4,2420.6 969.4,2418.2" fill="none" stroke="#800080" stroke-width="7" stroke-linejoin="round" stroke-linecap="round" />
<line x1="780.8" y1="1752.9" x2="892.5" y2="1752.9" stroke="#8c8c8c" stroke-width="6.5" stroke-linecap="round"/>
<text x="921.0" y="1769.9" font-size="48.7" >50 µL</text>
<line x1="780.8" y1="1812.5" x2="892.5" y2="1812.5" stroke="#e3c5e3" stroke-width="6.5" stroke-linecap="round"/>
<text x="906.0" y="1829.5" font-size="48.7" >100 µL</text>
<line x1="780.8" y1="1872.1" x2="892.5" y2="1872.1" stroke="#c999c9" stroke-width="6.5" stroke-linecap="round"/>
<text x="906.0" y="1889.1" font-size="48.7" >200 µL</text>
<line x1="780.8" y1="1931.7" x2="892.5" y2="1931.7" stroke="#800080" stroke-width="6.5" stroke-linecap="round"/>
<text x="906.0" y="1948.7" font-size="48.7" >300 µL</text>
<text x="1056.5" y="1755.4" font-size="97" font-weight="bold" >f</text>
<line x1="1201.0" y1="2518.7" x2="2017.7" y2="2518.7" stroke="#000" stroke-width="4" stroke-linecap="butt"/>
<line x1="1221.0" y1="1708.2" x2="1221.0" y2="2538.7" stroke="#000" stroke-width="4" stroke-linecap="butt"/>
<line x1="1221.0" y1="2518.7" x2="1221.0" y2="2538.7" stroke="#000" stroke-width="4" stroke-linecap="butt"/>
<text x="1221.0" y="2585.0" font-size="48.4" text-anchor="middle" >0</text>
<line x1="1353.5" y1="2518.7" x2="1353.5" y2="2538.7" stroke="#000" stroke-width="4" stroke-linecap="butt"/>
<text x="1353.5" y="2585.0" font-size="48.4" text-anchor="middle" >1</text>
<line x1="1485.9" y1="2518.7" x2="1485.9" y2="2538.7" stroke="#000" stroke-width="4" stroke-linecap="butt"/>
<text x="1485.9" y="2585.0" font-size="48.4" text-anchor="middle" >2</text>
<line x1="1618.3" y1="2518.7" x2="1618.3" y2="2538.7" stroke="#000" stroke-width="4" stroke-linecap="butt"/>
<text x="1618.3" y="2585.0" font-size="48.4" text-anchor="middle" >3</text>
<line x1="1750.8" y1="2518.7" x2="1750.8" y2="2538.7" stroke="#000" stroke-width="4" stroke-linecap="butt"/>
<text x="1750.8" y="2585.0" font-size="48.4" text-anchor="middle" >4</text>
<line x1="1883.2" y1="2518.7" x2="1883.2" y2="2538.7" stroke="#000" stroke-width="4" stroke-linecap="butt"/>
<text x="1883.2" y="2585.0" font-size="48.4" text-anchor="middle" >5</text>
<line x1="2015.7" y1="2518.7" x2="2015.7" y2="2538.7" stroke="#000" stroke-width="4" stroke-linecap="butt"/>
<text x="2015.7" y="2585.0" font-size="48.4" text-anchor="middle" >6</text>
<line x1="1287.2" y1="2518.7" x2="1287.2" y2="2529.7" stroke="#000" stroke-width="4" stroke-linecap="butt"/>
<line x1="1419.7" y1="2518.7" x2="1419.7" y2="2529.7" stroke="#000" stroke-width="4" stroke-linecap="butt"/>
<line x1="1552.1" y1="2518.7" x2="1552.1" y2="2529.7" stroke="#000" stroke-width="4" stroke-linecap="butt"/>
<line x1="1684.6" y1="2518.7" x2="1684.6" y2="2529.7" stroke="#000" stroke-width="4" stroke-linecap="butt"/>
<line x1="1817.0" y1="2518.7" x2="1817.0" y2="2529.7" stroke="#000" stroke-width="4" stroke-linecap="butt"/>
<line x1="1949.5" y1="2518.7" x2="1949.5" y2="2529.7" stroke="#000" stroke-width="4" stroke-linecap="butt"/>
<line x1="1201.0" y1="2518.7" x2="1221.0" y2="2518.7" stroke="#000" stroke-width="4" stroke-linecap="butt"/>
<text x="1190.2" y="2533.1" font-size="48.4" text-anchor="end" >0.00</text>
<line x1="1201.0" y1="2410.9" x2="1221.0" y2="2410.9" stroke="#000" stroke-width="4" stroke-linecap="butt"/>
<text x="1190.2" y="2425.3" font-size="48.4" text-anchor="end" >0.02</text>
<line x1="1201.0" y1="2303.1" x2="1221.0" y2="2303.1" stroke="#000" stroke-width="4" stroke-linecap="butt"/>
<text x="1190.2" y="2317.5" font-size="48.4" text-anchor="end" >0.04</text>
<line x1="1201.0" y1="2195.3" x2="1221.0" y2="2195.3" stroke="#000" stroke-width="4" stroke-linecap="butt"/>
<text x="1190.2" y="2209.7" font-size="48.4" text-anchor="end" >0.06</text>
<line x1="1201.0" y1="2087.5" x2="1221.0" y2="2087.5" stroke="#000" stroke-width="4" stroke-linecap="butt"/>
<text x="1190.2" y="2101.9" font-size="48.4" text-anchor="end" >0.08</text>
<line x1="1201.0" y1="1979.7" x2="1221.0" y2="1979.7" stroke="#000" stroke-width="4" stroke-linecap="butt"/>
<text x="1190.2" y="1994.1" font-size="48.4" text-anchor="end" >0.10</text>
<line x1="1201.0" y1="1871.9" x2="1221.0" y2="1871.9" stroke="#000" stroke-width="4" stroke-linecap="butt"/>
<text x="1190.2" y="1886.3" font-size="48.4" text-anchor="end" >0.12</text>
<line x1="1201.0" y1="1764.1" x2="1221.0" y2="1764.1" stroke="#000" stroke-width="4" stroke-linecap="butt"/>
<text x="1190.2" y="1778.5" font-size="48.4" text-anchor="end" >0.14</text>
<line x1="1210.0" y1="2464.8" x2="1221.0" y2="2464.8" stroke="#000" stroke-width="4" stroke-linecap="butt"/>
<line x1="1210.0" y1="2357.0" x2="1221.0" y2="2357.0" stroke="#000" stroke-width="4" stroke-linecap="butt"/>
<line x1="1210.0" y1="2249.2" x2="1221.0" y2="2249.2" stroke="#000" stroke-width="4" stroke-linecap="butt"/>
<line x1="1210.0" y1="2141.4" x2="1221.0" y2="2141.4" stroke="#000" stroke-width="4" stroke-linecap="butt"/>
<line x1="1210.0" y1="2033.6" x2="1221.0" y2="2033.6" stroke="#000" stroke-width="4" stroke-linecap="butt"/>
<line x1="1210.0" y1="1925.8" x2="1221.0" y2="1925.8" stroke="#000" stroke-width="4" stroke-linecap="butt"/>
<line x1="1210.0" y1="1818.0" x2="1221.0" y2="1818.0" stroke="#000" stroke-width="4" stroke-linecap="butt"/>
<line x1="1210.0" y1="1710.2" x2="1221.0" y2="1710.2" stroke="#000" stroke-width="4" stroke-linecap="butt"/>
<text x="1618.7" y="2671.5" font-size="57.2" text-anchor="middle" >Time/h</text>
<g transform="translate(1014.3 2144.8) rotate(-90)"><text x="0" y="0" font-size="51" text-anchor="middle"><tspan font-style="italic">V</tspan><tspan font-size="28.5" dy="17.5">OC</tspan><tspan dy="-17.5">/V</tspan></text></g>
<polyline points="1223.8,2513.1 1224.4,2512.9 1225.6,2512.8 1227.4,2512.4 1229.9,2511.0 1232.5,2510.3 1235.2,2510.0 1238.0,2510.3 1241.0,2509.7 1244.6,2510.4 1249.1,2510.6 1251.6,2510.3 1254.2,2510.9 1257.2,2511.1 1260.1,2511.4 1263.6,2512.3 1267.0,2511.7 1269.6,2511.8 1272.2,2512.9 1274.9,2512.6 1277.8,2512.6 1280.8,2512.9 1283.7,2513.1 1287.0,2513.9 1290.3,2513.4 1293.5,2513.6 1296.2,2514.0 1298.9,2514.1 1301.6,2514.6 1304.3,2514.5 1307.0,2514.1 1309.9,2514.0 1312.8,2514.7 1315.6,2514.9 1318.5,2514.0 1321.4,2514.8 1324.2,2514.9 1326.9,2514.7 1329.5,2514.3 1332.1,2514.9 1334.7,2514.9 1337.3,2514.4 1339.9,2514.8 1342.5,2514.4 1345.1,2514.3 1347.9,2514.6 1350.6,2514.6 1353.3,2514.6 1356.0,2514.9 1358.8,2515.1 1361.5,2515.2 1364.2,2515.2 1367.0,2515.2 1369.7,2515.0 1372.3,2514.5 1374.8,2514.4 1377.4,2514.8 1380.0,2514.8 1382.5,2514.9 1385.1,2514.3 1387.7,2514.4 1390.2,2515.1 1392.8,2514.8 1395.4,2514.9 1397.9,2514.3 1400.6,2514.6 1403.3,2515.1 1405.9,2514.8 1408.6,2515.2 1411.3,2514.4 1413.9,2514.6 1416.6,2515.0 1419.2,2514.6 1421.9,2515.0 1424.6,2514.7 1427.2,2514.3 1429.9,2514.3 1432.4,2515.1 1435.0,2514.3 1437.5,2514.3 1440.1,2514.5 1442.6,2514.8 1445.2,2515.0 1447.7,2514.6 1450.2,2514.6 1452.8,2514.9 1455.3,2514.4 1457.9,2514.5 1460.4,2514.7 1463.0,2514.7 1465.5,2514.1 1468.1,2514.2 1470.8,2514.2 1473.4,2514.8 1476.0,2514.7 1478.6,2515.0 1481.2,2514.8 1483.9,2514.3 1486.5,2514.8 1489.1,2515.0 1491.7,2514.4 1494.3,2514.0 1497.0,2514.4 1499.6,2514.3 1502.2,2514.2 1504.8,2514.0 1507.5,2514.1 1510.1,2514.8 1512.8,2514.0 1515.4,2514.6 1518.1,2514.1 1520.7,2514.1 1523.3,2514.7 1526.0,2514.2 1528.6,2514.1 1531.3,2514.3 1533.9,2514.6 1536.6,2514.4 1539.2,2514.7 1541.9,2514.2 1544.6,2514.4 1547.3,2514.5 1549.9,2514.3 1552.6,2514.5 1555.3,2514.2 1558.0,2513.9 1560.7,2513.9 1563.3,2514.5 1566.0,2514.5 1568.7,2514.7 1571.4,2514.4 1574.2,2514.3 1576.9,2513.8 1579.6,2514.5 1582.4,2513.7 1585.1,2514.0 1587.8,2513.7 1590.5,2513.9 1593.3,2513.8 1596.1,2513.9 1598.9,2514.2 1601.7,2514.0 1604.5,2513.7 1607.3,2514.2 1610.1,2514.1 1612.9,2514.2 1615.7,2513.3 1618.5,2513.9 1621.3,2514.1 1624.1,2513.5 1626.8,2513.4 1629.6,2513.9 1632.4,2513.4 1635.1,2513.4 1637.9,2513.8 1640.6,2513.3 1643.4,2513.1 1646.1,2513.0 1648.8,2513.1 1651.5,2513.4 1654.2,2513.0 1656.8,2513.3 1659.4,2512.5 1662.1,2512.6 1665.6,2512.7 1669.2,2512.3 1672.4,2512.0 1675.6,2512.1 1678.4,2511.1 1681.2,2510.6 1683.7,2509.9 1686.1,2509.9 1691.1,2508.9 1696.0,2508.4 1700.9,2507.4 1705.8,2507.0 1710.2,2507.2 1714.1,2507.7 1717.6,2507.7 1720.5,2509.0 1723.7,2509.4 1727.2,2510.1 1730.9,2511.4 1734.8,2511.8 1739.0,2513.0 1743.4,2514.0 1748.1,2514.3 1753.0,2514.6 1755.7,2514.5 1758.5,2515.1 1761.3,2514.8 1764.0,2515.1 1766.9,2515.3 1769.8,2515.8 1772.6,2515.6 1775.5,2515.5 1778.4,2515.9 1781.2,2515.4 1783.8,2515.5 1786.4,2515.9 1789.0,2515.8 1791.6,2515.5 1794.2,2515.7 1796.8,2516.2 1799.4,2515.6 1802.0,2516.1 1804.6,2515.5 1807.2,2516.4 1809.9,2516.2 1812.6,2515.9 1815.3,2516.5 1818.0,2516.4 1820.6,2515.7 1823.3,2515.9 1826.0,2516.2 1828.7,2516.7 1831.4,2515.9 1834.0,2515.8 1836.7,2516.1 1839.4,2515.8 1842.1,2516.2 1844.9,2516.4 1847.6,2516.3 1850.3,2516.0 1853.0,2515.9 1855.7,2516.7 1858.4,2516.4 1861.1,2516.5 1863.8,2516.5 1866.5,2516.7 1869.3,2517.0 1872.0,2516.9 1874.7,2516.8 1877.4,2516.5 1880.2,2516.3 1882.9,2516.3 1885.6,2517.1 1888.4,2516.3 1891.2,2516.8 1893.9,2517.2 1896.7,2516.6 1899.5,2516.7 1902.2,2516.7 1905.0,2517.3 1907.7,2517.0 1910.6,2517.2 1913.4,2516.4 1916.2,2517.1 1919.0,2516.8 1921.8,2516.8 1924.6,2517.2 1927.4,2517.2 1930.4,2517.4 1933.3,2517.2 1936.2,2517.4 1939.2,2516.9 1942.1,2517.1 1945.4,2517.3 1948.7,2517.0 1952.0,2516.7 1956.9,2517.1" fill="none" stroke="#8c8c8c" stroke-width="7" stroke-linejoin="round" stroke-linecap="round" />
<polyline points="1223.8,2518.4 1223.8,2516.0 1223.9,2513.5 1223.9,2511.3 1224.0,2508.5 1224.0,2506.1 1224.1,2503.2 1224.1,2501.0 1224.2,2498.6 1224.2,2495.9 1224.3,2493.6 1224.3,2491.1 1224.4,2488.2 1224.4,2485.5 1224.5,2483.4 1224.6,2480.5 1224.6,2477.9 1224.7,2475.8 1224.7,2473.3 1224.8,2470.8 1224.8,2468.4 1224.9,2465.4 1224.9,2462.8 1225.0,2460.3 1225.0,2458.3 1225.1,2455.2 1225.1,2452.7 1225.2,2450.1 1225.2,2447.6 1225.3,2445.1 1225.4,2442.7 1225.4,2440.1 1225.5,2437.6 1225.5,2435.5 1225.6,2432.5 1225.6,2430.3 1225.7,2427.8 1225.7,2425.1 1225.9,2422.6 1226.1,2420.1 1226.2,2417.5 1226.4,2414.7 1226.6,2412.2 1226.7,2409.6 1226.9,2407.1 1227.1,2404.9 1227.3,2402.0 1227.4,2399.2 1227.6,2396.9 1227.8,2394.5 1227.9,2391.7 1228.1,2389.3 1228.3,2386.4 1228.5,2383.8 1228.6,2381.6 1228.8,2378.7 1229.0,2376.3 1229.1,2373.8 1229.3,2371.1 1229.5,2368.4 1229.7,2365.1 1230.5,2364.4 1231.4,2361.3 1232.3,2359.2 1233.1,2355.6 1234.0,2353.9 1234.9,2351.1 1235.8,2348.0 1236.6,2345.2 1237.5,2342.6 1239.9,2340.8 1242.2,2339.9 1244.6,2339.5 1247.0,2337.2 1249.3,2337.4 1251.7,2338.2 1254.0,2340.0 1256.4,2342.0 1258.7,2343.2 1261.1,2343.8 1263.3,2345.4 1265.6,2346.3 1267.8,2347.8 1270.1,2351.0 1272.3,2351.7 1274.6,2353.9 1276.8,2354.9 1279.1,2355.2 1281.3,2357.7 1283.6,2358.9 1285.8,2359.2 1288.1,2359.7 1290.3,2361.4 1292.6,2362.3 1295.0,2363.7 1297.5,2364.1 1299.9,2366.4 1302.4,2367.9 1304.8,2367.3 1307.3,2369.4 1309.7,2370.0 1312.2,2370.8 1314.6,2372.6 1316.9,2372.4 1319.3,2374.2 1321.6,2373.5 1324.0,2376.3 1326.4,2375.6 1328.7,2376.2 1331.1,2378.8 1333.4,2379.4 1335.8,2380.2 1338.0,2382.0 1340.2,2382.7 1342.3,2383.7 1344.5,2385.6 1346.7,2388.4 1348.9,2390.0 1351.1,2390.1 1353.3,2392.0 1355.4,2393.6 1357.2,2396.4 1359.0,2396.6 1360.8,2400.2 1362.5,2401.4 1362.6,2404.1 1362.6,2406.3 1362.6,2408.8 1362.7,2411.9 1362.7,2414.2 1362.7,2417.0 1362.8,2419.4 1362.8,2421.9 1362.9,2424.0 1362.9,2426.8 1362.9,2429.6 1363.0,2431.8 1363.0,2434.1 1363.0,2436.7 1363.1,2439.7 1363.1,2442.2 1363.2,2444.3 1363.2,2446.9 1363.2,2449.7 1363.3,2452.1 1363.3,2454.4 1363.6,2452.2 1363.8,2449.3 1364.0,2446.4 1364.3,2443.5 1364.5,2441.1 1364.8,2438.5 1365.0,2435.5 1365.3,2432.1 1366.0,2435.9 1366.7,2438.7 1367.5,2440.1 1368.2,2442.7 1369.0,2445.5 1369.7,2447.7 1370.4,2449.4 1371.2,2452.2 1372.7,2454.4 1374.3,2456.7 1375.9,2458.9 1377.5,2461.8 1379.0,2463.8 1381.4,2466.7 1383.7,2467.2 1386.1,2470.1 1388.5,2471.3 1390.8,2471.8 1393.4,2472.1 1396.1,2473.5 1398.7,2473.8 1401.3,2474.4 1403.9,2474.1 1406.5,2475.5 1409.2,2475.9 1411.8,2475.3 1414.4,2474.9 1417.0,2476.3 1419.7,2475.0 1422.3,2476.4 1424.9,2475.8 1427.5,2474.4 1430.1,2475.3 1432.8,2474.6 1435.4,2475.7 1438.0,2474.8 1440.6,2473.9 1443.2,2475.5 1445.9,2475.0 1448.5,2474.5 1451.1,2474.2 1453.7,2473.1 1456.3,2474.7 1459.0,2473.2 1461.6,2473.5 1464.2,2473.2 1466.8,2472.9 1469.4,2471.7 1472.1,2473.2 1474.7,2472.1 1477.3,2471.7 1479.9,2472.3 1482.5,2472.1 1485.2,2471.5 1487.8,2471.6 1490.4,2470.3 1493.0,2469.5 1495.7,2469.8 1498.3,2470.1 1500.9,2470.2 1503.5,2469.9 1506.1,2469.4 1508.8,2469.1 1511.4,2469.0 1514.0,2468.6 1516.6,2467.3 1519.2,2468.1 1521.9,2467.3 1524.5,2466.7 1527.1,2467.5 1529.7,2467.7 1532.3,2466.3 1535.0,2466.8 1537.6,2466.5 1540.2,2466.3 1542.8,2466.5 1545.4,2465.9 1548.1,2464.4 1550.7,2466.5 1553.3,2467.0 1555.9,2468.2 1557.5,2470.7 1559.1,2471.6 1560.6,2474.5 1562.2,2477.1 1563.8,2477.9 1564.3,2480.8 1564.8,2483.2 1565.3,2485.5 1565.8,2488.5 1568.3,2488.0 1570.8,2489.0 1573.3,2491.5 1575.9,2491.6 1578.4,2491.5 1580.9,2492.3 1583.4,2493.8 1585.9,2495.2 1588.4,2497.3 1590.8,2497.0 1593.3,2499.1 1595.7,2499.9 1598.2,2501.4 1600.6,2503.4 1603.1,2503.0 1605.6,2505.4 1608.0,2506.1 1610.5,2506.2 1612.9,2506.9 1615.4,2509.1 1617.8,2510.3 1620.3,2510.3 1622.8,2510.9 1625.6,2512.1 1628.4,2512.8 1631.2,2512.6 1634.0,2513.2 1636.8,2513.0 1639.6,2513.6 1642.4,2514.2 1645.0,2515.3 1647.6,2514.2 1650.3,2514.4 1652.9,2515.1 1655.5,2514.7 1658.1,2514.8 1660.8,2515.9 1663.4,2515.0 1666.0,2515.8 1668.6,2514.9 1671.2,2515.9 1673.9,2516.4 1676.5,2516.0 1679.1,2515.6 1681.7,2516.3" fill="none" stroke="#e8cfe8" stroke-width="7" stroke-linejoin="round" stroke-linecap="round" />
<polyline points="1223.8,2518.7 1223.8,2516.2 1223.9,2513.8 1223.9,2510.9 1224.0,2508.6 1224.0,2506.3 1224.1,2503.8 1224.1,2500.7 1224.2,2498.5 1224.2,2495.9 1224.2,2493.3 1224.3,2491.1 1224.3,2488.3 1224.4,2485.7 1224.4,2483.5 1224.5,2480.7 1224.5,2477.9 1224.6,2475.4 1224.6,2473.0 1224.7,2470.1 1224.7,2468.0 1224.8,2465.6 1224.8,2462.8 1224.9,2460.6 1224.9,2458.1 1225.0,2455.3 1225.0,2452.9 1225.1,2449.9 1225.1,2447.3 1225.2,2445.5 1225.2,2442.4 1225.3,2439.8 1225.3,2437.8 1225.4,2435.2 1225.4,2432.2 1225.5,2429.8 1225.5,2427.2 1225.6,2424.7 1225.6,2421.9 1225.7,2419.8 1225.7,2417.1 1225.9,2414.6 1226.1,2411.9 1226.2,2409.2 1226.4,2406.6 1226.6,2404.7 1226.7,2402.0 1226.9,2399.3 1227.1,2396.4 1227.3,2393.9 1227.4,2391.3 1227.6,2388.9 1227.8,2386.1 1227.9,2383.7 1228.1,2381.1 1228.3,2378.5 1228.5,2376.3 1228.6,2373.6 1228.8,2371.1 1229.0,2368.4 1229.1,2366.0 1229.3,2363.6 1229.5,2360.7 1229.7,2357.2 1230.5,2355.8 1231.4,2353.2 1232.3,2351.8 1233.1,2347.7 1234.0,2347.2 1234.9,2342.6 1235.8,2341.6 1236.6,2338.9 1237.5,2336.2 1239.9,2336.3 1242.2,2334.5 1244.6,2331.8 1247.0,2331.3 1249.3,2330.3 1251.7,2330.5 1254.0,2332.4 1256.4,2335.4 1258.7,2337.5 1261.1,2338.5 1263.3,2339.8 1265.6,2341.4 1267.8,2342.2 1270.1,2345.2 1272.3,2346.8 1274.6,2347.0 1276.8,2347.2 1279.1,2349.6 1281.3,2352.0 1283.6,2352.2 1285.8,2353.0 1288.1,2354.6 1290.3,2357.4 1292.6,2358.6 1295.0,2358.7 1297.5,2360.6 1299.9,2361.9 1302.4,2363.4 1304.8,2364.0 1307.3,2364.0 1309.7,2366.0 1312.2,2367.2 1314.8,2368.0 1317.4,2368.5 1320.1,2369.0 1322.7,2369.7 1325.3,2371.4 1327.9,2371.7 1330.5,2372.8 1333.2,2372.4 1335.8,2372.9 1338.0,2374.9 1340.2,2377.3 1342.3,2378.8 1344.5,2379.3 1346.7,2380.8 1348.9,2384.3 1351.1,2383.6 1353.3,2387.3 1355.4,2388.5 1357.6,2389.3 1359.8,2391.7 1362.0,2392.2 1364.2,2391.7 1366.4,2395.4 1368.5,2395.4 1370.7,2398.0 1372.9,2399.1 1375.1,2398.6 1377.3,2399.5 1379.6,2400.5 1381.8,2403.6 1384.1,2404.8 1386.3,2404.5 1388.6,2405.3 1390.8,2407.1 1393.6,2408.5 1396.3,2408.6 1399.1,2409.3 1401.8,2409.0 1401.9,2411.4 1401.9,2414.0 1401.9,2416.0 1401.9,2418.5 1402.0,2421.8 1402.0,2424.2 1402.0,2426.5 1402.1,2429.0 1402.1,2431.7 1402.1,2434.3 1402.1,2437.0 1402.2,2439.6 1402.2,2441.9 1402.2,2444.4 1402.3,2442.0 1402.4,2439.5 1402.4,2436.9 1402.5,2434.7 1402.6,2432.0 1402.7,2430.0 1402.7,2427.3 1402.8,2424.7 1402.9,2422.4 1402.9,2419.5 1403.0,2416.0 1403.9,2418.6 1404.8,2421.7 1405.7,2424.2 1406.5,2426.4 1409.0,2427.8 1411.5,2430.4 1413.9,2429.5 1416.4,2431.8 1418.8,2432.9 1421.3,2433.9 1423.7,2436.2 1426.2,2436.2 1428.7,2436.9 1431.1,2438.5 1433.6,2441.8 1436.0,2441.4 1438.5,2442.0 1440.9,2445.5 1443.4,2445.9 1445.9,2447.9 1448.3,2447.3 1450.8,2449.5 1453.2,2448.5 1455.7,2450.0 1458.1,2452.4 1460.6,2452.7 1463.1,2454.4 1465.5,2454.3 1468.0,2456.2 1470.4,2454.8 1472.9,2456.8 1475.3,2456.3 1477.8,2457.0 1480.3,2459.4 1482.7,2458.9 1485.2,2460.5 1487.8,2459.4 1490.4,2460.8 1493.0,2461.4 1495.7,2460.9 1498.3,2460.1 1500.9,2461.5 1503.5,2462.5 1506.1,2462.3 1508.8,2461.6 1511.4,2461.7 1514.0,2461.2 1516.6,2463.1 1519.2,2461.5 1521.9,2461.6 1524.5,2461.0 1527.1,2461.3 1529.7,2461.8 1532.3,2462.0 1535.0,2461.1 1537.6,2461.7 1540.2,2462.5 1542.8,2460.7 1545.4,2460.8 1548.1,2461.7 1550.6,2462.5 1553.1,2462.4 1555.6,2461.3 1558.2,2459.9 1560.7,2461.8 1563.2,2461.9 1565.8,2461.5 1568.3,2460.4 1570.8,2459.8 1573.3,2460.2 1575.9,2460.6 1578.4,2460.9 1580.9,2459.5 1583.4,2459.3 1586.1,2458.6 1588.7,2459.0 1591.3,2458.9 1593.9,2458.0 1596.5,2458.3 1599.2,2459.3 1601.8,2457.3 1604.4,2457.2 1607.0,2457.1 1609.6,2458.4 1612.3,2456.8 1614.9,2457.9 1617.5,2458.0 1620.1,2457.7 1622.8,2457.3 1625.4,2455.5 1628.0,2455.9 1630.6,2456.6 1633.2,2454.8 1635.9,2455.5 1638.5,2455.9 1641.1,2455.8 1643.7,2454.1 1646.3,2453.2 1649.0,2452.7 1651.6,2453.2 1654.2,2453.5 1656.8,2452.6 1659.4,2453.7 1662.1,2453.0 1664.6,2452.5 1667.1,2452.6 1669.6,2450.9 1672.1,2451.3 1674.6,2450.1 1677.1,2449.5 1679.6,2448.6 1682.1,2449.9 1684.6,2449.8 1687.1,2447.1 1689.6,2448.5 1692.1,2446.0 1694.6,2446.3 1697.1,2445.3 1699.6,2446.1 1702.1,2444.2 1704.6,2443.6 1707.1,2442.5 1709.6,2441.5 1712.1,2440.8 1714.6,2439.6 1717.1,2438.8 1719.9,2439.8 1722.7,2440.0 1725.5,2439.5 1728.3,2438.1 1731.1,2439.6 1733.9,2436.9 1736.8,2437.5 1739.4,2437.2 1742.0,2436.8 1744.6,2438.9 1747.2,2438.2 1749.9,2436.7 1752.5,2436.8 1755.1,2438.5 1757.7,2437.3 1760.3,2437.2 1763.0,2437.2 1765.6,2437.2 1768.2,2437.9 1770.8,2437.8 1773.4,2439.1 1776.1,2438.2 1778.7,2440.0 1781.3,2440.7 1783.9,2440.6 1786.5,2442.6 1789.2,2443.3 1791.8,2443.2 1794.0,2443.7 1796.3,2444.2 1798.5,2446.5 1800.8,2446.7 1803.0,2447.5 1805.3,2449.6 1807.5,2449.9 1809.5,2453.0 1811.4,2455.3 1813.4,2455.3 1815.4,2458.9 1817.3,2459.7 1818.1,2462.8 1818.9,2466.6 1819.7,2469.9 1820.5,2471.0 1821.3,2474.9 1823.5,2475.1 1825.7,2477.8 1827.9,2477.1 1830.1,2479.6 1832.3,2479.3 1834.5,2481.8 1836.7,2483.5 1839.0,2485.1 1841.6,2485.4 1844.2,2485.5 1846.8,2485.8 1849.4,2487.0 1852.1,2487.7 1854.7,2488.3 1857.3,2489.2 1859.9,2489.9 1862.5,2491.1 1865.2,2490.9 1867.8,2492.3 1870.4,2492.6 1873.0,2492.3 1875.6,2494.0 1878.3,2493.5 1880.9,2495.4 1883.5,2496.2 1886.1,2496.9 1888.4,2498.0 1890.6,2498.6 1892.9,2499.2 1895.1,2499.8 1897.4,2501.8 1899.6,2503.6 1901.9,2503.4 1904.3,2503.7 1906.8,2505.9 1909.2,2507.0 1911.7,2505.9 1914.1,2506.5 1916.6,2507.1 1919.0,2509.0 1921.5,2510.5 1924.0,2509.3 1926.5,2511.1 1929.0,2509.5 1931.5,2510.3 1934.0,2511.5 1936.5,2512.4 1939.0,2512.1 1941.5,2513.0 1944.0,2512.5 1946.5,2512.9 1949.0,2513.6 1951.6,2512.4 1954.3,2513.1 1956.9,2513.7 1959.5,2514.6 1962.1,2513.6 1964.7,2513.9 1967.4,2516.0 1970.0,2515.3 1972.6,2514.8 1975.2,2515.9 1977.8,2515.9 1980.5,2516.3 1983.0,2515.7 1985.5,2515.9 1988.1,2514.6 1990.6,2515.6 1993.1,2515.5 1995.6,2515.2 1998.2,2515.6 2000.7,2517.0 2003.2,2515.3 2005.7,2515.1 2008.3,2515.7 2010.8,2515.3 2013.3,2515.0 2015.8,2516.3" fill="none" stroke="#c999c9" stroke-width="7" stroke-linejoin="round" stroke-linecap="round" />
<polyline points="1223.0,2517.8 1223.0,2515.3 1223.0,2512.8 1223.0,2510.3 1223.0,2507.8 1223.0,2505.2 1223.0,2502.8 1223.0,2500.2 1223.0,2497.7 1223.1,2495.2 1223.1,2492.8 1223.1,2490.2 1223.1,2487.7 1223.1,2485.3 1223.1,2482.8 1223.1,2480.3 1223.1,2477.7 1223.1,2475.2 1223.1,2472.7 1223.1,2470.2 1223.2,2467.8 1223.2,2465.3 1223.2,2462.8 1223.2,2460.2 1223.2,2457.7 1223.2,2455.2 1223.2,2452.7 1223.2,2450.1 1223.2,2447.7 1223.2,2445.2 1223.2,2442.7 1223.3,2440.2 1223.3,2437.7 1223.3,2435.1 1223.3,2432.7 1223.3,2430.2 1223.3,2427.7 1223.3,2425.2 1223.3,2422.6 1223.3,2420.1 1223.3,2417.6 1223.3,2415.2 1223.4,2412.7 1223.4,2410.1 1223.4,2407.7 1223.4,2405.1 1223.4,2402.7 1223.4,2400.1 1223.4,2397.7 1223.4,2395.2 1223.4,2392.6 1223.4,2390.1 1223.4,2387.6 1223.5,2385.1 1223.5,2382.6 1223.5,2380.1 1223.5,2377.5 1223.5,2375.1 1223.5,2372.5 1223.5,2370.1 1223.5,2367.6 1223.5,2365.0 1223.5,2362.7 1223.5,2360.1 1223.6,2357.6 1223.6,2355.2 1223.6,2352.6 1223.6,2350.2 1223.6,2347.6 1223.6,2345.1 1223.6,2342.5 1223.6,2340.1 1223.6,2337.5 1223.6,2335.0 1223.6,2332.6 1223.6,2330.1 1223.7,2327.5 1223.7,2325.0 1223.7,2322.5 1223.7,2320.1 1223.7,2317.6 1223.7,2315.0 1223.7,2312.5 1223.7,2309.9 1223.7,2307.5 1223.7,2305.0 1223.7,2302.6 1223.8,2300.1 1223.9,2297.5 1223.9,2295.0 1224.0,2292.3 1224.1,2289.9 1224.2,2287.4 1224.3,2284.7 1224.4,2282.3 1224.5,2279.7 1224.6,2277.1 1224.7,2274.6 1224.8,2272.1 1224.9,2269.4 1225.0,2266.9 1225.1,2264.4 1225.2,2261.9 1225.3,2259.2 1225.3,2256.8 1225.4,2254.2 1225.5,2251.7 1225.6,2249.1 1225.7,2246.6 1225.9,2244.0 1226.1,2241.4 1226.2,2238.9 1226.4,2236.3 1226.6,2233.7 1226.7,2231.2 1226.9,2228.6 1227.1,2226.0 1227.3,2223.5 1227.4,2221.0 1227.6,2218.3 1227.8,2215.9 1227.9,2213.3 1228.1,2210.6 1228.3,2208.0 1228.5,2205.6 1228.6,2203.0 1228.8,2200.4 1229.0,2197.9 1229.1,2195.3 1229.3,2192.7 1229.5,2190.1 1229.7,2187.5 1229.9,2185.0 1230.2,2182.4 1230.4,2179.8 1230.7,2177.1 1231.0,2174.5 1231.2,2171.9 1231.5,2169.2 1231.8,2166.7 1232.0,2164.0 1232.3,2161.4 1232.5,2158.8 1232.8,2156.2 1233.1,2153.6 1233.3,2150.9 1233.6,2148.3 1234.0,2145.7 1234.4,2143.3 1234.8,2140.8 1235.3,2138.2 1235.7,2135.6 1236.1,2133.1 1236.5,2130.5 1237.0,2128.1 1237.4,2125.4 1237.8,2122.9 1238.2,2120.4 1238.6,2118.0 1239.1,2115.4 1239.5,2112.9 1245.4,2091.6 1247.3,2090.8 1249.3,2088.8 1251.3,2087.6 1253.2,2082.1 1255.2,2083.6 1257.2,2078.6 1259.1,2077.0 1262.2,2077.1 1265.2,2078.1 1268.2,2074.2 1269.3,2077.4 1270.4,2082.1 1271.5,2083.9 1272.6,2087.5 1273.7,2087.8 1274.9,2094.0 1277.5,2086.4 1280.1,2088.7 1282.7,2084.6 1285.2,2083.0 1287.6,2087.4 1290.1,2084.2 1292.6,2085.8 1295.5,2087.3 1298.4,2087.3 1301.4,2088.3 1304.3,2088.7 1306.0,2095.3 1307.6,2092.7 1309.3,2095.1 1310.9,2096.6 1312.5,2103.6 1314.2,2103.3 1316.9,2104.2 1319.7,2104.3 1322.4,2100.7 1325.2,2099.3 1327.9,2098.5 1329.1,2100.3 1330.2,2104.8 1331.3,2109.5 1332.4,2109.3 1333.5,2113.3 1334.7,2116.6 1335.8,2118.8 1338.7,2117.9 1341.7,2117.1 1344.6,2114.4 1347.6,2116.1 1350.5,2119.9 1353.5,2118.4 1356.4,2120.9 1359.4,2119.3 1361.7,2122.8 1364.1,2122.2 1366.5,2127.2 1368.8,2128.9 1371.2,2125.7 1373.8,2130.3 1376.4,2127.5 1379.0,2133.3 1381.7,2129.3 1384.3,2129.7 1386.9,2134.9 1389.8,2133.7 1392.8,2130.6 1395.7,2133.8 1398.7,2136.5 1401.0,2133.5 1403.4,2138.1 1405.8,2136.3 1408.1,2138.3 1410.5,2139.0 1412.4,2138.7 1414.4,2142.5 1416.4,2145.1 1418.3,2147.4 1420.3,2148.7 1422.3,2148.3 1423.5,2148.5 1424.6,2144.3 1425.8,2145.6 1427.0,2138.4 1428.2,2140.1 1429.8,2138.3 1431.4,2143.4 1433.1,2144.4 1434.7,2147.4 1436.4,2151.0 1438.0,2154.0 1440.0,2151.2 1441.9,2158.4 1443.9,2159.0 1445.9,2157.7 1448.8,2162.2 1451.8,2163.9 1454.7,2162.2 1457.7,2166.3 1460.3,2160.7 1462.9,2161.1 1465.5,2158.5 1467.9,2163.6 1470.2,2162.0 1472.6,2163.3 1474.9,2169.4 1477.3,2167.4 1479.1,2169.7 1480.8,2173.1 1482.5,2171.9 1484.3,2177.6 1486.0,2178.9 1487.8,2179.7 1489.5,2183.5 1491.3,2185.9 1493.0,2183.2 1496.0,2188.9 1498.9,2186.7 1501.9,2188.8 1504.8,2188.6 1506.8,2191.9 1508.8,2192.3 1510.7,2190.8 1512.7,2191.7 1514.7,2194.8 1517.1,2195.5 1519.6,2196.8 1522.0,2200.1 1524.5,2201.4 1526.8,2201.9 1529.2,2205.3 1531.6,2202.8 1533.9,2205.7 1536.3,2206.9 1538.2,2209.9 1540.2,2213.4 1542.2,2213.7 1544.1,2212.1 1544.8,2218.3 1545.4,2219.5 1546.1,2222.5 1546.8,2226.0 1547.4,2226.5 1548.1,2232.6 1550.5,2229.6 1553.0,2229.0 1555.4,2229.6 1557.9,2226.2 1560.5,2229.8 1563.1,2235.7 1565.8,2232.5 1567.7,2232.1 1569.7,2232.4 1571.6,2228.7 1573.1,2231.8 1574.6,2235.4 1576.1,2237.5 1577.5,2237.3 1579.0,2239.0 1580.5,2239.2 1582.0,2245.8 1583.4,2244.4 1585.4,2248.3 1587.4,2248.2 1589.3,2253.9 1591.3,2254.2 1593.3,2254.1 1595.2,2258.9 1597.2,2257.8 1599.2,2261.4 1600.9,2263.0 1602.5,2267.8 1604.2,2268.8 1605.9,2268.4 1607.6,2271.1 1609.3,2273.8 1611.0,2278.0 1613.3,2276.4 1615.5,2280.2 1617.8,2277.4 1620.1,2279.0 1622.4,2284.2 1624.7,2283.1 1626.4,2283.5 1628.0,2286.7 1629.6,2290.3 1631.3,2290.6 1632.9,2294.6 1634.5,2300.6 1635.5,2297.5 1636.5,2301.6 1637.5,2303.9 1638.5,2305.3 1639.5,2312.5 1640.4,2310.9 1641.4,2312.8 1642.4,2316.7 1643.4,2317.0 1644.4,2321.8 1645.4,2322.5 1646.3,2326.8 1647.4,2327.2 1648.5,2334.0 1649.6,2334.4 1650.6,2337.7 1651.7,2337.7 1652.8,2339.1 1653.8,2342.8 1654.9,2346.9 1656.0,2346.3 1657.1,2350.0 1658.1,2356.9 1659.1,2355.6 1660.1,2357.4 1661.1,2363.6 1662.1,2362.9 1663.0,2367.0 1664.0,2369.2 1665.0,2371.5 1666.0,2373.2 1666.5,2377.0 1667.0,2378.9 1667.6,2382.5 1668.1,2385.3 1668.6,2386.9 1669.1,2390.4 1669.7,2393.2 1670.2,2394.4 1670.7,2397.2 1671.0,2400.8 1671.3,2403.3 1671.6,2404.6 1671.9,2407.1 1672.1,2410.7 1672.4,2411.8 1672.7,2414.5 1673.0,2417.0 1673.3,2419.7 1673.6,2422.5 1673.9,2425.1 1677.8,2442.4 1678.3,2444.2 1679.3,2445.2 1680.7,2446.6 1682.7,2448.3 1685.2,2450.2 1688.1,2449.9 1691.5,2452.4 1695.5,2452.6 1699.7,2454.8 1704.1,2455.7 1708.7,2457.7 1711.2,2458.6 1713.7,2459.6 1716.1,2461.1 1718.6,2462.3 1721.0,2461.9 1723.5,2463.7 1725.9,2464.6 1728.4,2464.4 1730.9,2464.6 1733.3,2466.1 1735.8,2467.3 1738.2,2467.5 1740.7,2467.3 1743.1,2468.9 1748.1,2469.0 1753.0,2470.8 1757.9,2469.9 1762.8,2471.0 1767.7,2470.6 1772.6,2471.6 1775.3,2469.7 1778.0,2471.0 1781.0,2469.7 1783.9,2469.4 1787.1,2468.6 1790.3,2468.8 1793.7,2469.2 1797.2,2468.8 1800.4,2468.1 1803.6,2466.8 1806.5,2465.4 1809.5,2465.2 1812.2,2464.6 1814.9,2463.0 1817.3,2463.4 1819.8,2460.6 1822.2,2459.9 1824.7,2458.8 1827.2,2457.6 1829.6,2456.3 1832.1,2455.5 1834.5,2454.6 1837.0,2454.5 1839.4,2452.5 1841.9,2451.5 1844.4,2449.8 1846.8,2448.4 1849.3,2448.1 1851.7,2447.5 1854.2,2445.2 1856.6,2445.4 1859.1,2443.7 1863.8,2443.1 1868.2,2441.2 1872.4,2439.9 1876.3,2439.2 1880.5,2440.1 1884.9,2439.6 1889.6,2439.1 1894.5,2441.4 1896.9,2440.7 1899.4,2441.2 1901.9,2441.4 1904.3,2442.7 1906.8,2444.2 1909.2,2445.8 1911.7,2445.7 1914.1,2447.3 1916.7,2447.7 1919.3,2450.2 1922.0,2450.8 1924.7,2452.4 1927.5,2453.8 1930.4,2456.4 1933.3,2458.5 1936.2,2458.5 1939.2,2460.8 1942.1,2461.8 1945.1,2464.7 1948.0,2466.6 1951.0,2466.5 1953.9,2469.2 1956.9,2469.9 1959.8,2471.7 1962.9,2473.4 1966.0,2474.4 1969.2,2476.4 1972.4,2477.2 1975.7,2478.9 1979.0,2480.0 1982.4,2481.6 1985.9,2482.4 1989.1,2484.0 1992.3,2484.7 1995.2,2486.8 1998.2,2487.4 2000.9,2488.3 2003.6,2490.1 2006.0,2489.3 2008.5,2490.7 2012.2,2491.9 2014.6,2492.6 2015.8,2492.7" fill="none" stroke="#800080" stroke-width="7.5" stroke-linejoin="round" stroke-linecap="round" />
<line x1="1718.5" y1="1754.9" x2="1830.6" y2="1754.9" stroke="#8c8c8c" stroke-width="6.5" stroke-linecap="round"/>
<text x="1841.5" y="1771.9" font-size="48.7" >50 µL</text>
<line x1="1718.5" y1="1814.5" x2="1830.6" y2="1814.5" stroke="#e8cfe8" stroke-width="6.5" stroke-linecap="round"/>
<text x="1841.5" y="1831.5" font-size="48.7" >100 µL</text>
<line x1="1718.5" y1="1874.0" x2="1830.6" y2="1874.0" stroke="#c999c9" stroke-width="6.5" stroke-linecap="round"/>
<text x="1841.5" y="1891.0" font-size="48.7" >200 µL</text>
<line x1="1718.5" y1="1933.6" x2="1830.6" y2="1933.6" stroke="#800080" stroke-width="6.5" stroke-linecap="round"/>
<text x="1841.5" y="1950.6" font-size="48.7" >300 µL</text>
<text x="2063.0" y="1755.0" font-size="97" font-weight="bold" >g</text>
<line x1="2238.5" y1="2522.7" x2="3056.0" y2="2522.7" stroke="#000" stroke-width="4" stroke-linecap="butt"/>
<line x1="2259.3" y1="1711.0" x2="2259.3" y2="2522.7" stroke="#000" stroke-width="4" stroke-linecap="butt"/>
<line x1="2238.8" y1="2522.7" x2="2259.3" y2="2522.7" stroke="#000" stroke-width="4" stroke-linecap="butt"/>
<text x="2228.5" y="2539.2" font-size="55" text-anchor="end" >0</text>
<line x1="2248.3" y1="2468.8" x2="2259.3" y2="2468.8" stroke="#000" stroke-width="4" stroke-linecap="butt"/>
<line x1="2238.8" y1="2414.8" x2="2259.3" y2="2414.8" stroke="#000" stroke-width="4" stroke-linecap="butt"/>
<text x="2228.5" y="2431.3" font-size="55" text-anchor="end" >20</text>
<line x1="2248.3" y1="2360.9" x2="2259.3" y2="2360.9" stroke="#000" stroke-width="4" stroke-linecap="butt"/>
<line x1="2238.8" y1="2307.0" x2="2259.3" y2="2307.0" stroke="#000" stroke-width="4" stroke-linecap="butt"/>
<text x="2228.5" y="2323.5" font-size="55" text-anchor="end" >40</text>
<line x1="2248.3" y1="2253.0" x2="2259.3" y2="2253.0" stroke="#000" stroke-width="4" stroke-linecap="butt"/>
<line x1="2238.8" y1="2199.1" x2="2259.3" y2="2199.1" stroke="#000" stroke-width="4" stroke-linecap="butt"/>
<text x="2228.5" y="2215.6" font-size="55" text-anchor="end" >60</text>
<line x1="2248.3" y1="2145.2" x2="2259.3" y2="2145.2" stroke="#000" stroke-width="4" stroke-linecap="butt"/>
<line x1="2238.8" y1="2091.3" x2="2259.3" y2="2091.3" stroke="#000" stroke-width="4" stroke-linecap="butt"/>
<text x="2228.5" y="2107.8" font-size="55" text-anchor="end" >80</text>
<line x1="2248.3" y1="2037.3" x2="2259.3" y2="2037.3" stroke="#000" stroke-width="4" stroke-linecap="butt"/>
<line x1="2238.8" y1="1983.4" x2="2259.3" y2="1983.4" stroke="#000" stroke-width="4" stroke-linecap="butt"/>
<text x="2228.5" y="1999.9" font-size="55" text-anchor="end" >100</text>
<line x1="2248.3" y1="1929.5" x2="2259.3" y2="1929.5" stroke="#000" stroke-width="4" stroke-linecap="butt"/>
<line x1="2238.8" y1="1875.5" x2="2259.3" y2="1875.5" stroke="#000" stroke-width="4" stroke-linecap="butt"/>
<text x="2228.5" y="1892.0" font-size="55" text-anchor="end" >120</text>
<line x1="2248.3" y1="1821.6" x2="2259.3" y2="1821.6" stroke="#000" stroke-width="4" stroke-linecap="butt"/>
<line x1="2238.8" y1="1767.7" x2="2259.3" y2="1767.7" stroke="#000" stroke-width="4" stroke-linecap="butt"/>
<text x="2228.5" y="1784.2" font-size="55" text-anchor="end" >140</text>
<line x1="2248.3" y1="1713.8" x2="2259.3" y2="1713.8" stroke="#000" stroke-width="4" stroke-linecap="butt"/>
<line x1="2358.2" y1="2522.7" x2="2358.2" y2="2533.2" stroke="#000" stroke-width="4" stroke-linecap="butt"/>
<text x="2362.7" y="2588.0" font-size="55" text-anchor="middle" >50</text>
<line x1="2556.5" y1="2522.7" x2="2556.5" y2="2542.7" stroke="#000" stroke-width="4" stroke-linecap="butt"/>
<text x="2561.0" y="2588.0" font-size="55" text-anchor="middle" >100</text>
<line x1="2755.4" y1="2522.7" x2="2755.4" y2="2533.2" stroke="#000" stroke-width="4" stroke-linecap="butt"/>
<text x="2759.9" y="2588.0" font-size="55" text-anchor="middle" >200</text>
<line x1="2953.8" y1="2522.7" x2="2953.8" y2="2542.7" stroke="#000" stroke-width="4" stroke-linecap="butt"/>
<text x="2958.3" y="2588.0" font-size="55" text-anchor="middle" >300</text>
<rect x="2556.5" y="2446.9" width="50.5" height="75.8" fill="#d9b6d9" stroke="#000" stroke-width="2.6" />
<rect x="2755.4" y="2279.4" width="50.5" height="243.3" fill="#d9b6d9" stroke="#000" stroke-width="2.6" />
<rect x="2954.9" y="1888.7" width="50.5" height="634.0" fill="#d9b6d9" stroke="#000" stroke-width="2.6" />
<rect x="2274.6" y="1732.7" width="108.8" height="50.2" fill="#909090" stroke="#000" stroke-width="2.6" />
<rect x="2274.6" y="1792.4" width="108.8" height="50.2" fill="#c895c8" stroke="#000" stroke-width="2.6" />
<text x="2399.8" y="1772.8" font-size="49" >Non-press</text>
<text x="2399.8" y="1832.3" font-size="49" >Press</text>
<text x="2330.4" y="2521.0" font-size="47.5" transform="rotate(-90 2330.4 2521.0)">7.26X10<tspan font-size="45" dy="-26">-7</tspan></text>
<text x="2528.8" y="2521.0" font-size="47.5" transform="rotate(-90 2528.8 2521.0)">3.86X10<tspan font-size="45" dy="-26">-6</tspan></text>
<text x="2738.1" y="2521.0" font-size="47.5" transform="rotate(-90 2738.1 2521.0)">1.60X10<tspan font-size="45" dy="-26">-4</tspan></text>
<text x="2933.0" y="2521.0" font-size="47.5" transform="rotate(-90 2933.0 2521.0)">7.0X10<tspan font-size="45" dy="-26">-4</tspan></text>
<text x="2395.0" y="2505.0" font-size="46" transform="rotate(-90 2395.0 2505.0)" >0.06</text>
<text x="2593.4" y="2433.5" font-size="46" transform="rotate(-90 2593.4 2433.5)" >14.05</text>
<text x="2791.0" y="2265.5" font-size="46" transform="rotate(-90 2791.0 2265.5)" >45.11</text>
<text x="2989.3" y="1870.0" font-size="46.3" transform="rotate(-90 2989.3 1870.0)" >117.56</text>
<text x="2642.7" y="2667.0" font-size="56" text-anchor="middle" >Volume/µL</text>
<g transform="translate(2100.4 2139.7) rotate(-90)"><text x="0" y="0" font-size="57.7" text-anchor="middle">Energy/(µWh/cm<tspan font-size="35" dy="-22">3</tspan><tspan dy="22">)</tspan></text></g>
</svg>
</body></html>
